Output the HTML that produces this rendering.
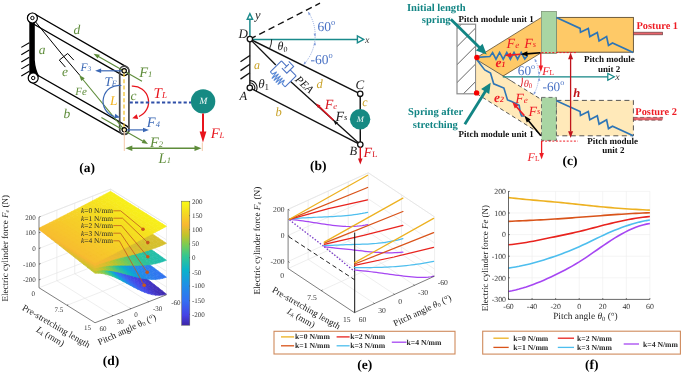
<!DOCTYPE html><html><head><meta charset="utf-8"><style>html,body{margin:0;padding:0;background:#fff;width:685px;height:375px;overflow:hidden}svg{display:block;font-family:"Liberation Serif",serif;will-change:transform;text-rendering:geometricPrecision}</style></head><body><svg xmlns="http://www.w3.org/2000/svg" width="685" height="375" viewBox="0 0 685 375"><rect width="685" height="375" fill="#fff"/><path d="M29.3,18 L34.8,18 L34.8,60 Q35.5,70 39.5,76.5 L29.3,76.5 Z" fill="#000"/>
<line x1="29.3" y1="42.7" x2="21.3" y2="47.4" stroke="#000" stroke-width="1.1" />
<line x1="29.3" y1="50" x2="21.3" y2="54.7" stroke="#000" stroke-width="1.1" />
<line x1="29.3" y1="57.3" x2="21.3" y2="62" stroke="#000" stroke-width="1.1" />
<line x1="29.3" y1="64.2" x2="21.3" y2="68.9" stroke="#000" stroke-width="1.1" />
<line x1="29.3" y1="71.3" x2="21.3" y2="76" stroke="#000" stroke-width="1.1" />
<rect x="-4.6" y="-4.6" width="115.1" height="9.2" rx="4.6" ry="4.6" fill="none" stroke="#000" stroke-width="1.35" transform="translate(32.4,18) rotate(29.91)"/>
<rect x="-4.6" y="-4.6" width="114" height="9.2" rx="4.6" ry="4.6" fill="none" stroke="#000" stroke-width="1.35" transform="translate(33.2,78) rotate(29.62)"/>
<line x1="32.4" y1="18" x2="64" y2="56.8" stroke="#000" stroke-width="1.0" />
<line x1="64" y1="56.8" x2="80" y2="75.5" stroke="#000" stroke-width="1.0" />
<line x1="59.3" y1="60.1" x2="67.7" y2="53.5" stroke="#000" stroke-width="1.0" />
<line x1="59.3" y1="60.1" x2="65.4" y2="67.1" stroke="#000" stroke-width="1.0" />
<line x1="67.7" y1="53.5" x2="73.8" y2="60.1" stroke="#000" stroke-width="1.0" />
<rect x="-4.6" y="-4.6" width="68.2" height="9.2" rx="4.6" ry="4.6" fill="none" stroke="#4a4a4a" stroke-width="1.7" transform="translate(124.3,70.8) rotate(90)"/>
<line x1="124" y1="73" x2="124" y2="128" stroke="#f2be22" stroke-width="1.2" stroke-dasharray="4,2.3"/>
<line x1="124.3" y1="129.8" x2="81.87" y2="78.24" stroke="#5e8c3a" stroke-width="1.1" />
<polygon points="79.2,75 84.75,78.2 81.28,81.06" fill="#5e8c3a" stroke="none" stroke-width="1" />
<line x1="142" y1="81.2" x2="97.15" y2="55.77" stroke="#5e8c3a" stroke-width="1.1" />
<polygon points="93.5,53.7 99.83,54.7 97.61,58.62" fill="#5e8c3a" stroke="none" stroke-width="1" />
<line x1="101.4" y1="117.4" x2="144.35" y2="141.92" stroke="#5e8c3a" stroke-width="1.1" />
<polygon points="148,144 141.67,142.98 143.9,139.07" fill="#5e8c3a" stroke="none" stroke-width="1" />
<line x1="124.2" y1="70.8" x2="99.3" y2="70.8" stroke="#3b68b5" stroke-width="1.2" />
<polygon points="95.1,70.8 101.1,68.55 101.1,73.05" fill="#3b68b5" stroke="none" stroke-width="1" />
<line x1="124.3" y1="129.9" x2="144.8" y2="129.9" stroke="#3b68b5" stroke-width="1.2" />
<polygon points="149,129.9 143,132.15 143,127.65" fill="#3b68b5" stroke="none" stroke-width="1" />
<path d="M121.4,85.5 A16,16 0 0 0 114,116.5" fill="none" stroke="#3b68b5" stroke-width="1.2"/>
<polygon points="120,117.5 114.09,118.14 115.34,113.82" fill="#3b68b5" stroke="none" stroke-width="1" />
<path d="M131.8,86.2 A15.8,15.8 0 0 1 139,116.5" fill="none" stroke="#e8141c" stroke-width="1.3"/>
<polygon points="132.2,118.2 136.75,114.29 138.16,118.88" fill="#e8141c" stroke="none" stroke-width="1" />
<line x1="129.6" y1="102.4" x2="191" y2="102.4" stroke="#2f4fa8" stroke-width="2.0" stroke-dasharray="3.2,2.2"/>
<circle cx="124.2" cy="70.8" r="2.2" fill="#fbeec0" stroke="#000" stroke-width="1.1" />
<circle cx="124.3" cy="129.8" r="2.2" fill="#fbeec0" stroke="#000" stroke-width="1.1" />
<circle cx="32.4" cy="18" r="5" fill="#fff" stroke="#000" stroke-width="1.2" />
<circle cx="32.4" cy="18" r="1.7" fill="#fff" stroke="#000" stroke-width="1.0" />
<circle cx="33.2" cy="78" r="5" fill="#fff" stroke="#000" stroke-width="1.2" />
<circle cx="33.2" cy="78" r="1.7" fill="#fff" stroke="#000" stroke-width="1.0" />
<circle cx="203.1" cy="101.4" r="12.2" fill="#168a83" stroke="none" stroke-width="1" />
<text x="203.3" y="104.2" font-size="9.4" fill="#f4fbfa" text-anchor="middle" font-style="italic" >M</text>
<line x1="203" y1="113.5" x2="203" y2="134" stroke="#e8141c" stroke-width="2.0" />
<polygon points="203,142.5 199.6,131.5 206.4,131.5" fill="#e8141c" stroke="none" stroke-width="1" />
<line x1="124.3" y1="131" x2="124.3" y2="151" stroke="#f4c8a8" stroke-width="1.0" />
<line x1="202.3" y1="142.5" x2="202.3" y2="151" stroke="#f4c8a8" stroke-width="1.0" />
<line x1="130" y1="148.2" x2="196" y2="148.2" stroke="#5e8c3a" stroke-width="1.6" />
<polygon points="125.3,148.2 132.3,145.45 132.3,150.95" fill="#5e8c3a" stroke="none" stroke-width="1" />
<polygon points="201.5,148.2 194.5,150.95 194.5,145.45" fill="#5e8c3a" stroke="none" stroke-width="1" />
<text x="38.8" y="54.2" font-size="13.5" fill="#5e8c3a" text-anchor="start" font-style="italic" >a</text>
<text x="73.6" y="34.4" font-size="13.5" fill="#5e8c3a" text-anchor="start" font-style="italic" >d</text>
<text x="62" y="75.6" font-size="13.5" fill="#5e8c3a" text-anchor="start" font-style="italic" >e</text>
<text x="63.6" y="117.8" font-size="13.5" fill="#5e8c3a" text-anchor="start" font-style="italic" >b</text>
<text x="130.6" y="99.8" font-size="13.5" fill="#5e8c3a" text-anchor="start" font-style="italic" >c</text>
<text x="75.2" y="95.3" font-size="11" fill="#5e8c3a" text-anchor="start" font-style="italic" >Fe</text>
<text x="110" y="104.9" font-size="13.4" fill="#f2b21c" text-anchor="start" font-style="italic" >L</text>
<text x="80.6" y="71.1" font-size="11.5" fill="#3b68b5" font-style="italic">F<tspan font-size="7" dy="0">3</tspan></text>
<text x="104.4" y="85.8" font-size="13.3" fill="#3b68b5" font-style="italic">T<tspan font-size="8" dy="0.6">F</tspan></text>
<text x="139.2" y="76.5" font-size="14.5" fill="#5e8c3a" font-style="italic">F<tspan font-size="8.5" dy="0">1</tspan></text>
<text x="153.6" y="97.9" font-size="15" fill="#e8141c" font-style="italic">T<tspan font-size="9" dy="0">L</tspan></text>
<text x="146.8" y="126.6" font-size="14.5" fill="#3b68b5" font-style="italic">F<tspan font-size="8.5" dy="0">4</tspan></text>
<text x="150.0" y="146.9" font-size="14.5" fill="#5e8c3a" font-style="italic">F<tspan font-size="8.5" dy="0">2</tspan></text>
<text x="158.6" y="162.9" font-size="14.5" fill="#5e8c3a" font-style="italic">L<tspan font-size="8.5" dy="0">1</tspan></text>
<text x="210.7" y="137.7" font-size="14.6" fill="#e8141c" font-style="italic">F<tspan font-size="8.6" dy="0">L</tspan></text>
<text x="79.3" y="171.5" font-size="13.5" fill="#000" text-anchor="start" font-weight="bold" >(a)</text>
<line x1="249.9" y1="39.1" x2="249.9" y2="19.5" stroke="#1a8a8c" stroke-width="1.5" />
<polygon points="249.9,13.6 247.2,19.3 252.6,19.3" fill="#fff" stroke="#1a8a8c" stroke-width="1.4" />
<line x1="249.9" y1="39.4" x2="357.4" y2="39.4" stroke="#1a8a8c" stroke-width="1.5" />
<polygon points="363.6,39.4 357.4,35.9 357.4,42.9" fill="#fff" stroke="#1a8a8c" stroke-width="1.4" />
<line x1="249.9" y1="39.1" x2="320" y2="3.2" stroke="#111" stroke-width="1.35" stroke-dasharray="6.5,4"/>
<path d="M308.4,12.1 A43,43 0 0 1 303.7,64.5" fill="none" stroke="#7f9ad8" stroke-width="0.8" stroke-dasharray="1,1"/>
<polygon points="308,11.8 310.7,13.9 308.65,15.15" fill="#7f9ad8" stroke="none" stroke-width="1" />
<polygon points="315.1,36.8 313.58,33.74 315.96,33.49" fill="#7f9ad8" stroke="none" stroke-width="1" />
<polygon points="315.1,42 315.95,45.31 313.56,45.05" fill="#7f9ad8" stroke="none" stroke-width="1" />
<polygon points="303.5,64.8 304.47,61.52 306.39,62.97" fill="#7f9ad8" stroke="none" stroke-width="1" />
<line x1="249.9" y1="39.1" x2="249.8" y2="87.8" stroke="#333" stroke-width="1.5" />
<line x1="249.9" y1="55.5" x2="240.5" y2="61.8" stroke="#111" stroke-width="1.3" />
<line x1="249.9" y1="64.3" x2="240.5" y2="70.6" stroke="#111" stroke-width="1.3" />
<line x1="249.9" y1="72.8" x2="240.5" y2="79.1" stroke="#111" stroke-width="1.3" />
<line x1="249.9" y1="39.1" x2="360.2" y2="93.8" stroke="#111" stroke-width="1.4" />
<line x1="249.8" y1="87.8" x2="360.3" y2="144.6" stroke="#111" stroke-width="1.4" />
<line x1="360.2" y1="93.8" x2="360.3" y2="144.6" stroke="#111" stroke-width="1.4" />
<line x1="249.9" y1="39.1" x2="275.8" y2="65" stroke="#111" stroke-width="1.3" />
<line x1="290.6" y1="81.5" x2="360.3" y2="144.6" stroke="#111" stroke-width="1.3" />
<g transform="translate(275.9,66.4) rotate(45.5)" fill="none" stroke="#4a72c4" stroke-width="1.05"><path d="M0,-7.8 L0,7.8 M21,-7.8 L21,7.8 M0,-7.8 L7.5,-7.8 M7.5,-10.8 L7.5,-4.8 M5.5,-12.6 L12.5,-12.6 L12.5,-3 L5.5,-3 M12.5,-7.8 L21,-7.8"/><path d="M0,7.8 L3,7.8 L4.4,3.4 L5.8,11.4 L7.2,3.4 L8.6,11.4 L10,3.4 L11.4,11.4 L12.8,3.4 L14.2,11.4 L15.6,3.4 L17,7.8 L21,7.8" stroke="#5b8ad6"/></g>
<text x="0" y="0" font-size="11" fill="#111" text-anchor="start" font-style="italic" transform="translate(294.6,80.2) rotate(43)">PEA</text>
<path d="M271.7,39.3 A21.8,21.8 0 0 1 269.6,48.5" fill="none" stroke="#111" stroke-width="0.9"/>
<path d="M249.8,80.6 A7.2,7.2 0 0 1 256.2,91.1 M249.8,82.8 A5,5 0 0 1 254.25,90.1" fill="none" stroke="#111" stroke-width="1.1"/>
<line x1="333.5" y1="120.3" x2="318.5" y2="105.9" stroke="#d8141e" stroke-width="1.5" />
<polygon points="316,103.6 320.49,105.43 317.98,108.02" fill="#d8141e" stroke="none" stroke-width="1" />
<polygon points="333.5,120.5 337.99,122.33 335.49,124.92" fill="#111" stroke="none" stroke-width="1" />
<circle cx="360.1" cy="119.3" r="10.2" fill="#168a83" stroke="none" stroke-width="1" />
<text x="360.2" y="122.4" font-size="8.5" fill="#f4fbfa" text-anchor="middle" font-style="italic" >M</text>
<circle cx="249.9" cy="39.1" r="2.7" fill="#fff" stroke="#111" stroke-width="1.3" />
<circle cx="249.8" cy="87.8" r="2.7" fill="#fff" stroke="#111" stroke-width="1.3" />
<circle cx="360.2" cy="93.8" r="2.7" fill="#fff" stroke="#111" stroke-width="1.3" />
<circle cx="360.3" cy="144.6" r="2.7" fill="#fff" stroke="#111" stroke-width="1.3" />
<line x1="360.3" y1="147.3" x2="360.3" y2="159.5" stroke="#d8141e" stroke-width="1.4" />
<polygon points="360.3,164.5 358,158.5 362.6,158.5" fill="#d8141e" stroke="none" stroke-width="1" />
<text x="255" y="19.2" font-size="12.5" fill="#222" text-anchor="start" font-style="italic" >y</text>
<text x="238.6" y="37.7" font-size="13" fill="#222" text-anchor="start" font-style="italic" >D</text>
<text x="365" y="43" font-size="10" fill="#333" text-anchor="start" font-style="italic" >x</text>
<text x="254" y="68.6" font-size="12" fill="#c9a227" text-anchor="start" font-style="italic" >a</text>
<text x="239.5" y="100.4" font-size="12.5" fill="#222" text-anchor="start" font-style="italic" >A</text>
<text x="275.6" y="115.6" font-size="12.5" fill="#c9a227" text-anchor="start" font-style="italic" >b</text>
<text x="316.6" y="87.8" font-size="12.5" fill="#c9a227" text-anchor="start" font-style="italic" >d</text>
<text x="362.3" y="106.4" font-size="12" fill="#c9a227" text-anchor="start" font-style="italic" >c</text>
<text x="355.6" y="89.4" font-size="13" fill="#222" text-anchor="start" font-style="italic" >C</text>
<text x="349.4" y="154.6" font-size="12.5" fill="#222" text-anchor="start" font-style="italic" >B</text>
<text x="277.5" y="50.3" font-size="12" fill="#222" font-style="italic">θ<tspan font-size="8" dy="1.5" font-style="normal">0</tspan></text>
<text x="258.2" y="88.2" font-size="13" fill="#222" font-style="italic">θ<tspan font-size="9" dy="1.5" font-style="normal">1</tspan></text>
<text x="317.4" y="30.8" font-size="13.5" fill="#4a72c4">60<tspan font-size="8.5" dy="-5.5">o</tspan></text>
<text x="310.6" y="63.6" font-size="13.5" fill="#4a72c4">-60<tspan font-size="8.5" dy="-5.5">o</tspan></text>
<text x="324.8" y="109.4" font-size="14" fill="#d8141e" font-style="italic">F<tspan font-size="8.5" dy="0">e</tspan></text>
<text x="335.4" y="121.2" font-size="14" fill="#222" font-style="italic">F<tspan font-size="8.5" dy="-1">s</tspan></text>
<text x="363.6" y="157.4" font-size="14" fill="#d8141e" font-style="italic">F<tspan font-size="8.5" dy="0" font-style="normal">L</tspan></text>
<text x="310" y="169.8" font-size="13.5" fill="#000" text-anchor="start" font-weight="bold" >(b)</text>
<clipPath id="wallclip"><rect x="457" y="24.2" width="18.6" height="69.6"/></clipPath>
<g clip-path="url(#wallclip)" stroke="#555" stroke-width="0.9"><line x1="456" y1="29.6" x2="476.6" y2="9"/><line x1="456" y1="47.6" x2="476.6" y2="27"/><line x1="456" y1="65.7" x2="476.6" y2="45.1"/><line x1="456" y1="83.6" x2="476.6" y2="63"/><line x1="456" y1="101.2" x2="476.6" y2="80.6"/></g>
<rect x="457" y="24.2" width="18.6" height="69.6" fill="none" stroke="#8c8c8c" stroke-width="1.2"/>
<polygon points="476.5,57.7 541.5,17.4 541.5,52.6 476.5,92.9" fill="#fec967" stroke="none" stroke-width="1" />
<polygon points="476.5,59.6 541.5,99.6 541.5,134.4 476.5,93.6" fill="#ffe9b9" stroke="none" stroke-width="1" />
<line x1="476.5" y1="57.7" x2="541.5" y2="17.4" stroke="#5e4e32" stroke-width="0.8" />
<line x1="502.8" y1="76.2" x2="541.5" y2="52.6" stroke="#5e4e32" stroke-width="0.8" />
<line x1="476.5" y1="59.6" x2="512" y2="81.4" stroke="#4a4a4a" stroke-width="0.8" />
<line x1="512" y1="81.4" x2="541.5" y2="99.6" stroke="#444" stroke-width="0.9" stroke-dasharray="4,3"/>
<line x1="476.5" y1="93.6" x2="541.5" y2="134.4" stroke="#444" stroke-width="0.9" stroke-dasharray="4,3"/>
<rect x="556.4" y="17.4" width="77" height="34.8" fill="#fec967" stroke="#5e4e32" stroke-width="0.9"/>
<rect x="556.4" y="100.4" width="77" height="35.4" fill="#ffe9b9" stroke="#444" stroke-width="0.9" stroke-dasharray="5,3.5"/>
<rect x="541.5" y="11.5" width="14.9" height="42" fill="#a9d5a3" stroke="#7d9477" stroke-width="0.8"/>
<rect x="541.5" y="97.4" width="14.9" height="43" fill="#a9d5a3" stroke="#555" stroke-width="0.8" stroke-dasharray="4,3"/>
<rect x="633.6" y="32.2" width="29" height="2.6" fill="#e9636b" stroke="#6a4444" stroke-width="0.7"/>
<rect x="633.6" y="117.4" width="29" height="2.8" fill="#e9636b" stroke="#6a4444" stroke-width="0.7" stroke-dasharray="4,2.5"/>
<polyline points="556.4,17.6 580.1,28.4 580.5,32.3 588.3,28.4 589.8,36.6 597.3,32.5 599.1,40.9 606.6,36.6 608.5,45.4 612.5,43 633.2,52.4" fill="none" stroke="#2e75b6" stroke-width="1.7" stroke-linejoin="miter"/>
<polyline points="556.4,100.8 580.1,111.6 580.5,115.5 588.3,111.6 589.8,119.8 597.3,115.7 599.1,124.1 606.6,119.8 608.5,128.6 612.5,126.2 633.2,135.8" fill="none" stroke="#2e75b6" stroke-width="1.7" />
<polyline points="476.9,57.4 489.8,56.6 492.6,52.6 496,59.2 499.6,52.4 503.2,59.2 506.8,52.4 510.4,59.2 514,52.4 517.6,59.2 521.2,52.4 524.8,59 527.6,55.6" fill="none" stroke="#2e75b6" stroke-width="1.6" />
<polyline points="476.7,59.6 484.7,69.9 490.5,73.1 493.7,83.8 503.9,88 507.5,99.9 511.7,101.5 519.2,105.3 520.3,112.5 521.6,116 524.5,116" fill="none" stroke="#2e75b6" stroke-width="1.6" />
<circle cx="476.9" cy="57.5" r="2.7" fill="#f50000" stroke="none" stroke-width="1" />
<circle cx="476.6" cy="92.9" r="2.7" fill="#f50000" stroke="none" stroke-width="1" />
<line x1="502.8" y1="76.8" x2="608.2" y2="76.8" stroke="#128584" stroke-width="1.3" />
<polygon points="614.3,76.8 607.8,73.4 607.8,80.2" fill="#fff" stroke="#128584" stroke-width="1.2" />
<path d="M535,59.3 A37.9,37.9 0 0 1 533.7,94.5" fill="none" stroke="#7f9ad8" stroke-width="0.8" stroke-dasharray="1,1"/>
<polygon points="534.6,59 537.02,61.12 534.98,62.19" fill="#7f9ad8" stroke="none" stroke-width="1" />
<polygon points="539.2,75 538.12,71.98 540.42,72.03" fill="#7f9ad8" stroke="none" stroke-width="1" />
<polygon points="539.2,77.8 540.35,80.8 538.05,80.8" fill="#7f9ad8" stroke="none" stroke-width="1" />
<polygon points="533.5,94.8 533.98,91.62 535.98,92.76" fill="#7f9ad8" stroke="none" stroke-width="1" />
<path d="M522.3,77.6 A20,20 0 0 1 521.3,86.5" fill="none" stroke="#e0242c" stroke-width="1"/>
<line x1="541.5" y1="52.6" x2="577" y2="52.6" stroke="#ee1c24" stroke-width="1.0" stroke-dasharray="2,1.6"/>
<line x1="541.5" y1="141.1" x2="578" y2="141.1" stroke="#ee1c24" stroke-width="1.0" stroke-dasharray="2,1.6"/>
<line x1="570.6" y1="58" x2="570.6" y2="131.5" stroke="#c0141c" stroke-width="1.3" />
<polygon points="570.6,52.6 568.1,59.2 573.1,59.2" fill="#c0141c" stroke="none" stroke-width="1" />
<polygon points="570.6,137.9 568.1,131.3 573.1,131.3" fill="#c0141c" stroke="none" stroke-width="1" />
<line x1="540.8" y1="53" x2="540.8" y2="66" stroke="#ee1c24" stroke-width="1.3" />
<polygon points="540.8,72 538.5,65.6 543.1,65.6" fill="#ee1c24" stroke="none" stroke-width="1" />
<line x1="541.6" y1="141" x2="541.6" y2="153.5" stroke="#ee1c24" stroke-width="1.3" />
<polygon points="541.6,159.5 539.3,153.1 543.9,153.1" fill="#ee1c24" stroke="none" stroke-width="1" />
<line x1="540.4" y1="52.8" x2="526.5" y2="53.9" stroke="#000" stroke-width="1.6" />
<polygon points="520.5,54.3 527.29,51.28 527.67,56.27" fill="#000" stroke="none" stroke-width="1" />
<line x1="520.5" y1="54.3" x2="510" y2="55.1" stroke="#ee1c24" stroke-width="1.6" />
<polygon points="504.7,55.5 510.99,52.51 511.37,57.5" fill="#ee1c24" stroke="none" stroke-width="1" />
<line x1="540.9" y1="135.8" x2="528.3" y2="120.5" stroke="#000" stroke-width="1.6" />
<polygon points="524.3,115.6 530.68,119.42 526.81,122.6" fill="#000" stroke="none" stroke-width="1" />
<line x1="524.3" y1="115.6" x2="516" y2="106.3" stroke="#ee1c24" stroke-width="1.6" />
<polygon points="512.3,102.1 518.49,105.3 514.75,108.62" fill="#ee1c24" stroke="none" stroke-width="1" />
<line x1="450.8" y1="19.2" x2="480.5" y2="48.4" stroke="#128584" stroke-width="2.8" />
<polygon points="486.7,54.6 475.89,50.61 482.56,43.85" fill="#128584" stroke="none" stroke-width="1" />
<line x1="464.8" y1="124.2" x2="486.2" y2="90" stroke="#128584" stroke-width="2.8" />
<polygon points="490.7,82.7 489.17,94.12 481.11,89.09" fill="#128584" stroke="none" stroke-width="1" />
<text x="407" y="10.9" font-size="10.6" fill="#128584" text-anchor="start" font-weight="bold" >Initial length</text>
<text x="421.8" y="23" font-size="10.6" fill="#128584" text-anchor="start" font-weight="bold" >spring</text>
<text x="408.1" y="115.4" font-size="10.6" fill="#128584" text-anchor="start" font-weight="bold" >Spring after</text>
<text x="412.8" y="127.8" font-size="10.6" fill="#128584" text-anchor="start" font-weight="bold" >stretching</text>
<text x="458.4" y="22" font-size="9.0" fill="#111" text-anchor="start" font-weight="bold" >Pitch module unit 1</text>
<text x="458.5" y="137.4" font-size="9.0" fill="#111" text-anchor="start" font-weight="bold" >Pitch module unit 1</text>
<text x="584" y="61.6" font-size="9.0" fill="#111" text-anchor="start" font-weight="bold" >Pitch module</text>
<text x="598" y="72.2" font-size="9.0" fill="#111" text-anchor="start" font-weight="bold" >unit 2</text>
<text x="587.3" y="143.7" font-size="9.0" fill="#111" text-anchor="start" font-weight="bold" >Pitch module</text>
<text x="602.2" y="153.4" font-size="9.0" fill="#111" text-anchor="start" font-weight="bold" >unit 2</text>
<text x="636.4" y="29.1" font-size="10.4" fill="#ee1c24" text-anchor="start" font-weight="bold" >Posture 1</text>
<text x="635.3" y="114.9" font-size="10.4" fill="#ee1c24" text-anchor="start" font-weight="bold" >Posture 2</text>
<text x="562.5" y="165" font-size="13.5" fill="#000" text-anchor="start" font-weight="bold" >(c)</text>
<text x="573.3" y="96.5" font-size="12.5" fill="#c0141c" text-anchor="start" font-weight="bold" font-style="italic" >h</text>
<text x="495.6" y="67.4" font-size="13.5" fill="#ee1c24" font-weight="bold" font-style="italic">e<tspan font-size="8" dy="0">1</tspan></text>
<text x="494.0" y="102.3" font-size="13.5" fill="#ee1c24" font-weight="bold" font-style="italic">e<tspan font-size="8" dy="0">2</tspan></text>
<text x="506.6" y="48.4" font-size="14" fill="#ee1c24" font-style="italic">F<tspan font-size="9" dy="0">e</tspan></text>
<text x="524.3" y="48.4" font-size="14" fill="#ee1c24" font-style="italic">F<tspan font-size="8.5" dy="-1.5">s</tspan></text>
<text x="515.2" y="103.3" font-size="14" fill="#ee1c24" font-style="italic">F<tspan font-size="9" dy="0">e</tspan></text>
<text x="528.4" y="115.8" font-size="14" fill="#ee1c24" font-style="italic">F<tspan font-size="8.5" dy="-1.5">s</tspan></text>
<text x="542.2" y="74.7" font-size="12" fill="#ee1c24" font-style="italic">F<tspan font-size="7.5" font-style="normal">L</tspan></text>
<text x="527.6" y="161.4" font-size="12" fill="#ee1c24" font-style="italic">F<tspan font-size="7.5" font-style="normal">L</tspan></text>
<text x="517.8" y="74.6" font-size="13.2" fill="#4a72c4">60<tspan font-size="8" dy="-5.5">o</tspan></text>
<text x="542.6" y="90.8" font-size="13.2" fill="#4a72c4">-60<tspan font-size="8" dy="-5.5">o</tspan></text>
<text x="523.7" y="86.8" font-size="10.5" fill="#e0242c" font-style="italic">θ<tspan font-size="7" dy="1.5" font-style="normal">0</tspan></text>
<text x="615.2" y="80.2" font-size="10" fill="#333" text-anchor="start" font-style="italic" >x</text>
<polyline points="39,279.9 110.5,251.94 166.49,286.94" fill="none" stroke="#e3e3e3" stroke-width="0.6" />
<polyline points="39,264.2 110.5,236.24 166.49,271.24" fill="none" stroke="#e3e3e3" stroke-width="0.6" />
<polyline points="39,248.5 110.5,220.54 166.49,255.53" fill="none" stroke="#e3e3e3" stroke-width="0.6" />
<polyline points="39,232.8 110.5,204.84 166.49,239.84" fill="none" stroke="#e3e3e3" stroke-width="0.6" />
<polyline points="39,217.1 110.5,189.14 166.49,224.13" fill="none" stroke="#e3e3e3" stroke-width="0.6" />
<line x1="56.87" y1="280.76" x2="56.87" y2="210.11" stroke="#e3e3e3" stroke-width="0.6" />
<line x1="56.87" y1="280.76" x2="112.87" y2="315.75" stroke="#e3e3e3" stroke-width="0.6" />
<line x1="74.75" y1="273.77" x2="74.75" y2="203.12" stroke="#e3e3e3" stroke-width="0.6" />
<line x1="74.75" y1="273.77" x2="130.74" y2="308.76" stroke="#e3e3e3" stroke-width="0.6" />
<line x1="92.62" y1="266.78" x2="92.62" y2="196.13" stroke="#e3e3e3" stroke-width="0.6" />
<line x1="92.62" y1="266.78" x2="148.62" y2="301.77" stroke="#e3e3e3" stroke-width="0.6" />
<line x1="138.49" y1="277.29" x2="138.49" y2="206.64" stroke="#e3e3e3" stroke-width="0.6" />
<line x1="67" y1="305.25" x2="138.49" y2="277.29" stroke="#e3e3e3" stroke-width="0.6" />
<line x1="110.5" y1="259.79" x2="110.5" y2="189.14" stroke="#e3e3e3" stroke-width="0.6" />
<line x1="166.49" y1="294.78" x2="166.49" y2="224.13" stroke="#e3e3e3" stroke-width="0.6" />
<polyline points="39,217.1 110.5,189.14 166.49,224.13" fill="none" stroke="#e3e3e3" stroke-width="0.6" />
<line x1="39" y1="287.75" x2="110.5" y2="259.79" stroke="#e3e3e3" stroke-width="0.6" />
<line x1="110.5" y1="259.79" x2="166.49" y2="294.78" stroke="#e3e3e3" stroke-width="0.6" />
<g stroke-linejoin="round"><polygon points="39,229.42 43,232.56 46.57,232.4 42.57,229.26" fill="#f8b832" stroke="#f8b832" stroke-width="0.6"/><polygon points="42.57,229.26 46.57,232.4 50.15,232.69 46.15,229.55" fill="#f0ba31" stroke="#f0ba31" stroke-width="0.6"/><polygon points="46.15,229.55 50.15,232.69 53.72,233.38 49.72,230.24" fill="#e5bc2f" stroke="#e5bc2f" stroke-width="0.6"/><polygon points="49.72,230.24 53.72,233.38 57.3,234.41 53.3,231.27" fill="#d9bf2e" stroke="#d9bf2e" stroke-width="0.6"/><polygon points="53.3,231.27 57.3,234.41 60.87,235.73 56.87,232.59" fill="#c0c42a" stroke="#c0c42a" stroke-width="0.6"/><polygon points="56.87,232.59 60.87,235.73 64.45,237.29 60.45,234.15" fill="#99c841" stroke="#99c841" stroke-width="0.6"/><polygon points="60.45,234.15 64.45,237.29 68.02,239.02 64.02,235.88" fill="#70cb5c" stroke="#70cb5c" stroke-width="0.6"/><polygon points="64.02,235.88 68.02,239.02 71.6,240.88 67.6,237.74" fill="#4ac97d" stroke="#4ac97d" stroke-width="0.6"/><polygon points="67.6,237.74 71.6,240.88 75.17,242.82 71.17,239.68" fill="#2dc39c" stroke="#2dc39c" stroke-width="0.6"/><polygon points="71.17,239.68 75.17,242.82 78.75,244.77 74.75,241.63" fill="#18b9b7" stroke="#18b9b7" stroke-width="0.6"/><polygon points="74.75,241.63 78.75,244.77 82.32,246.68 78.32,243.54" fill="#0dadcf" stroke="#0dadcf" stroke-width="0.6"/><polygon points="78.32,243.54 82.32,246.68 85.9,248.51 81.9,245.37" fill="#179ddc" stroke="#179ddc" stroke-width="0.6"/><polygon points="81.9,245.37 85.9,248.51 89.47,250.19 85.47,247.05" fill="#218ee7" stroke="#218ee7" stroke-width="0.6"/><polygon points="85.47,247.05 89.47,250.19 93.05,251.67 89.05,248.53" fill="#2981ec" stroke="#2981ec" stroke-width="0.6"/><polygon points="89.05,248.53 93.05,251.67 96.62,252.9 92.62,249.76" fill="#3174f0" stroke="#3174f0" stroke-width="0.6"/><polygon points="92.62,249.76 96.62,252.9 100.2,253.82 96.2,250.68" fill="#366af0" stroke="#366af0" stroke-width="0.6"/><polygon points="96.2,250.68 100.2,253.82 103.77,254.38 99.77,251.24" fill="#3a60ed" stroke="#3a60ed" stroke-width="0.6"/><polygon points="99.77,251.24 103.77,254.38 107.35,254.52 103.35,251.38" fill="#3d58eb" stroke="#3d58eb" stroke-width="0.6"/><polygon points="103.35,251.38 107.35,254.52 110.92,254.2 106.92,251.06" fill="#3f52e9" stroke="#3f52e9" stroke-width="0.6"/><polygon points="106.92,251.06 110.92,254.2 114.5,253.35 110.5,250.21" fill="#414fe8" stroke="#414fe8" stroke-width="0.6"/><polygon points="43,232.56 47,235.7 50.57,235.54 46.57,232.4" fill="#f5b932" stroke="#f5b932" stroke-width="0.6"/><polygon points="46.57,232.4 50.57,235.54 54.15,235.83 50.15,232.69" fill="#ecba30" stroke="#ecba30" stroke-width="0.6"/><polygon points="50.15,232.69 54.15,235.83 57.72,236.52 53.72,233.38" fill="#e2bd2f" stroke="#e2bd2f" stroke-width="0.6"/><polygon points="53.72,233.38 57.72,236.52 61.3,237.55 57.3,234.41" fill="#d4c02d" stroke="#d4c02d" stroke-width="0.6"/><polygon points="57.3,234.41 61.3,237.55 64.87,238.87 60.87,235.73" fill="#b8c52f" stroke="#b8c52f" stroke-width="0.6"/><polygon points="60.87,235.73 64.87,238.87 68.45,240.43 64.45,237.29" fill="#90c946" stroke="#90c946" stroke-width="0.6"/><polygon points="64.45,237.29 68.45,240.43 72.02,242.16 68.02,239.02" fill="#69cb62" stroke="#69cb62" stroke-width="0.6"/><polygon points="68.02,239.02 72.02,242.16 75.6,244.02 71.6,240.88" fill="#43c884" stroke="#43c884" stroke-width="0.6"/><polygon points="71.6,240.88 75.6,244.02 79.17,245.96 75.17,242.82" fill="#29c1a1" stroke="#29c1a1" stroke-width="0.6"/><polygon points="75.17,242.82 79.17,245.96 82.75,247.91 78.75,244.77" fill="#14b8bd" stroke="#14b8bd" stroke-width="0.6"/><polygon points="78.75,244.77 82.75,247.91 86.32,249.82 82.32,246.68" fill="#0faad1" stroke="#0faad1" stroke-width="0.6"/><polygon points="82.32,246.68 86.32,249.82 89.9,251.65 85.9,248.51" fill="#199ade" stroke="#199ade" stroke-width="0.6"/><polygon points="85.9,248.51 89.9,251.65 93.47,253.33 89.47,250.19" fill="#228be8" stroke="#228be8" stroke-width="0.6"/><polygon points="89.47,250.19 93.47,253.33 97.05,254.81 93.05,251.67" fill="#2b7eed" stroke="#2b7eed" stroke-width="0.6"/><polygon points="93.05,251.67 97.05,254.81 100.62,256.04 96.62,252.9" fill="#3372f1" stroke="#3372f1" stroke-width="0.6"/><polygon points="96.62,252.9 100.62,256.04 104.2,256.96 100.2,253.82" fill="#3767ef" stroke="#3767ef" stroke-width="0.6"/><polygon points="100.2,253.82 104.2,256.96 107.77,257.52 103.77,254.38" fill="#3b5ded" stroke="#3b5ded" stroke-width="0.6"/><polygon points="103.77,254.38 107.77,257.52 111.35,257.66 107.35,254.52" fill="#3e55ea" stroke="#3e55ea" stroke-width="0.6"/><polygon points="107.35,254.52 111.35,257.66 114.92,257.33 110.92,254.2" fill="#4050e9" stroke="#4050e9" stroke-width="0.6"/><polygon points="110.92,254.2 114.92,257.33 118.5,256.48 114.5,253.35" fill="#424ce8" stroke="#424ce8" stroke-width="0.6"/><polygon points="47,235.7 51,238.84 54.57,238.68 50.57,235.54" fill="#f1ba31" stroke="#f1ba31" stroke-width="0.6"/><polygon points="50.57,235.54 54.57,238.68 58.15,238.97 54.15,235.83" fill="#e9bb30" stroke="#e9bb30" stroke-width="0.6"/><polygon points="54.15,235.83 58.15,238.97 61.72,239.66 57.72,236.52" fill="#debe2e" stroke="#debe2e" stroke-width="0.6"/><polygon points="57.72,236.52 61.72,239.66 65.3,240.69 61.3,237.55" fill="#cdc12c" stroke="#cdc12c" stroke-width="0.6"/><polygon points="61.3,237.55 65.3,240.69 68.87,242.01 64.87,238.87" fill="#afc634" stroke="#afc634" stroke-width="0.6"/><polygon points="64.87,238.87 68.87,242.01 72.45,243.56 68.45,240.43" fill="#87ca4c" stroke="#87ca4c" stroke-width="0.6"/><polygon points="68.45,240.43 72.45,243.56 76.02,245.3 72.02,242.16" fill="#61ca69" stroke="#61ca69" stroke-width="0.6"/><polygon points="72.02,242.16 76.02,245.3 79.6,247.16 75.6,244.02" fill="#3bc78b" stroke="#3bc78b" stroke-width="0.6"/><polygon points="75.6,244.02 79.6,247.16 83.17,249.09 79.17,245.96" fill="#25bfa6" stroke="#25bfa6" stroke-width="0.6"/><polygon points="79.17,245.96 83.17,249.09 86.75,251.05 82.75,247.91" fill="#10b6c2" stroke="#10b6c2" stroke-width="0.6"/><polygon points="82.75,247.91 86.75,251.05 90.32,252.96 86.32,249.82" fill="#11a7d4" stroke="#11a7d4" stroke-width="0.6"/><polygon points="86.32,249.82 90.32,252.96 93.9,254.79 89.9,251.65" fill="#1b97e1" stroke="#1b97e1" stroke-width="0.6"/><polygon points="89.9,251.65 93.9,254.79 97.47,256.47 93.47,253.33" fill="#2488e9" stroke="#2488e9" stroke-width="0.6"/><polygon points="93.47,253.33 97.47,256.47 101.05,257.95 97.05,254.81" fill="#2d7bee" stroke="#2d7bee" stroke-width="0.6"/><polygon points="97.05,254.81 101.05,257.95 104.62,259.17 100.62,256.04" fill="#346ff2" stroke="#346ff2" stroke-width="0.6"/><polygon points="100.62,256.04 104.62,259.17 108.2,260.09 104.2,256.96" fill="#3964ef" stroke="#3964ef" stroke-width="0.6"/><polygon points="104.2,256.96 108.2,260.09 111.77,260.65 107.77,257.52" fill="#3c5aec" stroke="#3c5aec" stroke-width="0.6"/><polygon points="107.77,257.52 111.77,260.65 115.35,260.8 111.35,257.66" fill="#3f53ea" stroke="#3f53ea" stroke-width="0.6"/><polygon points="111.35,257.66 115.35,260.8 118.92,260.47 114.92,257.33" fill="#414de8" stroke="#414de8" stroke-width="0.6"/><polygon points="114.92,257.33 118.92,260.47 122.49,259.62 118.5,256.48" fill="#4349e7" stroke="#4349e7" stroke-width="0.6"/><polygon points="51,238.84 55,241.98 58.57,241.82 54.57,238.68" fill="#edba30" stroke="#edba30" stroke-width="0.6"/><polygon points="54.57,238.68 58.57,241.82 62.15,242.11 58.15,238.97" fill="#e5bc2f" stroke="#e5bc2f" stroke-width="0.6"/><polygon points="58.15,238.97 62.15,242.11 65.72,242.8 61.72,239.66" fill="#dbbe2e" stroke="#dbbe2e" stroke-width="0.6"/><polygon points="61.72,239.66 65.72,242.8 69.3,243.83 65.3,240.69" fill="#c7c32b" stroke="#c7c32b" stroke-width="0.6"/><polygon points="65.3,240.69 69.3,243.83 72.87,245.15 68.87,242.01" fill="#a6c73a" stroke="#a6c73a" stroke-width="0.6"/><polygon points="68.87,242.01 72.87,245.15 76.45,246.7 72.45,243.56" fill="#7fcb51" stroke="#7fcb51" stroke-width="0.6"/><polygon points="72.45,243.56 76.45,246.7 80.02,248.44 76.02,245.3" fill="#59ca70" stroke="#59ca70" stroke-width="0.6"/><polygon points="76.02,245.3 80.02,248.44 83.6,250.3 79.6,247.16" fill="#35c691" stroke="#35c691" stroke-width="0.6"/><polygon points="79.6,247.16 83.6,250.3 87.17,252.23 83.17,249.09" fill="#21beab" stroke="#21beab" stroke-width="0.6"/><polygon points="83.17,249.09 87.17,252.23 90.75,254.18 86.75,251.05" fill="#0cb4c8" stroke="#0cb4c8" stroke-width="0.6"/><polygon points="86.75,251.05 90.75,254.18 94.32,256.1 90.32,252.96" fill="#13a4d6" stroke="#13a4d6" stroke-width="0.6"/><polygon points="90.32,252.96 94.32,256.1 97.9,257.92 93.9,254.79" fill="#1d93e3" stroke="#1d93e3" stroke-width="0.6"/><polygon points="93.9,254.79 97.9,257.92 101.47,259.6 97.47,256.47" fill="#2685ea" stroke="#2685ea" stroke-width="0.6"/><polygon points="97.47,256.47 101.47,259.6 105.05,261.08 101.05,257.95" fill="#2f78ef" stroke="#2f78ef" stroke-width="0.6"/><polygon points="101.05,257.95 105.05,261.08 108.62,262.31 104.62,259.17" fill="#356cf1" stroke="#356cf1" stroke-width="0.6"/><polygon points="104.62,259.17 108.62,262.31 112.2,263.23 108.2,260.09" fill="#3a61ee" stroke="#3a61ee" stroke-width="0.6"/><polygon points="108.2,260.09 112.2,263.23 115.77,263.79 111.77,260.65" fill="#3d58eb" stroke="#3d58eb" stroke-width="0.6"/><polygon points="111.77,260.65 115.77,263.79 119.34,263.94 115.35,260.8" fill="#4050e9" stroke="#4050e9" stroke-width="0.6"/><polygon points="115.35,260.8 119.34,263.94 122.92,263.61 118.92,260.47" fill="#424ae7" stroke="#424ae7" stroke-width="0.6"/><polygon points="118.92,260.47 122.92,263.61 126.49,262.76 122.49,259.62" fill="#4446e6" stroke="#4446e6" stroke-width="0.6"/><polygon points="55,241.98 59,245.11 62.57,244.95 58.57,241.82" fill="#eabb30" stroke="#eabb30" stroke-width="0.6"/><polygon points="58.57,241.82 62.57,244.95 66.15,245.25 62.15,242.11" fill="#e2bd2f" stroke="#e2bd2f" stroke-width="0.6"/><polygon points="62.15,242.11 66.15,245.25 69.72,245.94 65.72,242.8" fill="#d7bf2d" stroke="#d7bf2d" stroke-width="0.6"/><polygon points="65.72,242.8 69.72,245.94 73.3,246.97 69.3,243.83" fill="#c1c42a" stroke="#c1c42a" stroke-width="0.6"/><polygon points="69.3,243.83 73.3,246.97 76.87,248.29 72.87,245.15" fill="#9dc83f" stroke="#9dc83f" stroke-width="0.6"/><polygon points="72.87,245.15 76.87,248.29 80.45,249.84 76.45,246.7" fill="#76cc57" stroke="#76cc57" stroke-width="0.6"/><polygon points="76.45,246.7 80.45,249.84 84.02,251.58 80.02,248.44" fill="#52c977" stroke="#52c977" stroke-width="0.6"/><polygon points="80.02,248.44 84.02,251.58 87.6,253.44 83.6,250.3" fill="#31c596" stroke="#31c596" stroke-width="0.6"/><polygon points="83.6,250.3 87.6,253.44 91.17,255.37 87.17,252.23" fill="#1dbcb0" stroke="#1dbcb0" stroke-width="0.6"/><polygon points="87.17,252.23 91.17,255.37 94.75,257.32 90.75,254.18" fill="#0bb1cc" stroke="#0bb1cc" stroke-width="0.6"/><polygon points="90.75,254.18 94.75,257.32 98.32,259.24 94.32,256.1" fill="#15a1d9" stroke="#15a1d9" stroke-width="0.6"/><polygon points="94.32,256.1 98.32,259.24 101.9,261.06 97.9,257.92" fill="#1f90e6" stroke="#1f90e6" stroke-width="0.6"/><polygon points="97.9,257.92 101.9,261.06 105.47,262.74 101.47,259.6" fill="#2882eb" stroke="#2882eb" stroke-width="0.6"/><polygon points="101.47,259.6 105.47,262.74 109.05,264.22 105.05,261.08" fill="#3075f0" stroke="#3075f0" stroke-width="0.6"/><polygon points="105.05,261.08 109.05,264.22 112.62,265.45 108.62,262.31" fill="#3769f0" stroke="#3769f0" stroke-width="0.6"/><polygon points="108.62,262.31 112.62,265.45 116.2,266.37 112.2,263.23" fill="#3b5eed" stroke="#3b5eed" stroke-width="0.6"/><polygon points="112.2,263.23 116.2,266.37 119.77,266.93 115.77,263.79" fill="#3e55ea" stroke="#3e55ea" stroke-width="0.6"/><polygon points="115.77,263.79 119.77,266.93 123.34,267.08 119.34,263.94" fill="#414de8" stroke="#414de8" stroke-width="0.6"/><polygon points="119.34,263.94 123.34,267.08 126.92,266.75 122.92,263.61" fill="#4347e6" stroke="#4347e6" stroke-width="0.6"/><polygon points="122.92,263.61 126.92,266.75 130.49,265.9 126.49,262.76" fill="#4544e5" stroke="#4544e5" stroke-width="0.6"/><polygon points="59,245.11 63,248.25 66.57,248.09 62.57,244.95" fill="#e6bc2f" stroke="#e6bc2f" stroke-width="0.6"/><polygon points="62.57,244.95 66.57,248.09 70.15,248.39 66.15,245.25" fill="#debe2e" stroke="#debe2e" stroke-width="0.6"/><polygon points="66.15,245.25 70.15,248.39 73.72,249.07 69.72,245.94" fill="#d1c02c" stroke="#d1c02c" stroke-width="0.6"/><polygon points="69.72,245.94 73.72,249.07 77.3,250.11 73.3,246.97" fill="#b8c52f" stroke="#b8c52f" stroke-width="0.6"/><polygon points="73.3,246.97 77.3,250.11 80.87,251.43 76.87,248.29" fill="#94c944" stroke="#94c944" stroke-width="0.6"/><polygon points="76.87,248.29 80.87,251.43 84.45,252.98 80.45,249.84" fill="#6fcb5d" stroke="#6fcb5d" stroke-width="0.6"/><polygon points="80.45,249.84 84.45,252.98 88.02,254.72 84.02,251.58" fill="#4ac97d" stroke="#4ac97d" stroke-width="0.6"/><polygon points="84.02,251.58 88.02,254.72 91.6,256.58 87.6,253.44" fill="#2dc39b" stroke="#2dc39b" stroke-width="0.6"/><polygon points="87.6,253.44 91.6,256.58 95.17,258.51 91.17,255.37" fill="#19bab6" stroke="#19bab6" stroke-width="0.6"/><polygon points="91.17,255.37 95.17,258.51 98.75,260.46 94.75,257.32" fill="#0daece" stroke="#0daece" stroke-width="0.6"/><polygon points="94.75,257.32 98.75,260.46 102.32,262.38 98.32,259.24" fill="#179ddb" stroke="#179ddb" stroke-width="0.6"/><polygon points="98.32,259.24 102.32,262.38 105.9,264.2 101.9,261.06" fill="#218de7" stroke="#218de7" stroke-width="0.6"/><polygon points="101.9,261.06 105.9,264.2 109.47,265.88 105.47,262.74" fill="#2a80ec" stroke="#2a80ec" stroke-width="0.6"/><polygon points="105.47,262.74 109.47,265.88 113.05,267.36 109.05,264.22" fill="#3273f1" stroke="#3273f1" stroke-width="0.6"/><polygon points="109.05,264.22 113.05,267.36 116.62,268.59 112.62,265.45" fill="#3866ef" stroke="#3866ef" stroke-width="0.6"/><polygon points="112.62,265.45 116.62,268.59 120.19,269.51 116.2,266.37" fill="#3c5bec" stroke="#3c5bec" stroke-width="0.6"/><polygon points="116.2,266.37 120.19,269.51 123.77,270.07 119.77,266.93" fill="#3f52e9" stroke="#3f52e9" stroke-width="0.6"/><polygon points="119.77,266.93 123.77,270.07 127.34,270.22 123.34,267.08" fill="#424ae7" stroke="#424ae7" stroke-width="0.6"/><polygon points="123.34,267.08 127.34,270.22 130.92,269.89 126.92,266.75" fill="#4444e5" stroke="#4444e5" stroke-width="0.6"/><polygon points="126.92,266.75 130.92,269.89 134.49,269.04 130.49,265.9" fill="#4441e0" stroke="#4441e0" stroke-width="0.6"/><polygon points="63,248.25 67,251.39 70.57,251.23 66.57,248.09" fill="#e3bd2f" stroke="#e3bd2f" stroke-width="0.6"/><polygon points="66.57,248.09 70.57,251.23 74.15,251.52 70.15,248.39" fill="#dbbe2e" stroke="#dbbe2e" stroke-width="0.6"/><polygon points="70.15,248.39 74.15,251.52 77.72,252.21 73.72,249.07" fill="#cac22b" stroke="#cac22b" stroke-width="0.6"/><polygon points="73.72,249.07 77.72,252.21 81.3,253.24 77.3,250.11" fill="#afc634" stroke="#afc634" stroke-width="0.6"/><polygon points="77.3,250.11 81.3,253.24 84.87,254.57 80.87,251.43" fill="#8bca49" stroke="#8bca49" stroke-width="0.6"/><polygon points="80.87,251.43 84.87,254.57 88.45,256.12 84.45,252.98" fill="#67cb64" stroke="#67cb64" stroke-width="0.6"/><polygon points="84.45,252.98 88.45,256.12 92.02,257.86 88.02,254.72" fill="#43c884" stroke="#43c884" stroke-width="0.6"/><polygon points="88.02,254.72 92.02,257.86 95.6,259.72 91.6,256.58" fill="#29c1a0" stroke="#29c1a0" stroke-width="0.6"/><polygon points="91.6,256.58 95.6,259.72 99.17,261.65 95.17,258.51" fill="#15b8bb" stroke="#15b8bb" stroke-width="0.6"/><polygon points="95.17,258.51 99.17,261.65 102.75,263.6 98.75,260.46" fill="#0fabd1" stroke="#0fabd1" stroke-width="0.6"/><polygon points="98.75,260.46 102.75,263.6 106.32,265.52 102.32,262.38" fill="#199ade" stroke="#199ade" stroke-width="0.6"/><polygon points="102.32,262.38 106.32,265.52 109.9,267.34 105.9,264.2" fill="#238be8" stroke="#238be8" stroke-width="0.6"/><polygon points="105.9,264.2 109.9,267.34 113.47,269.02 109.47,265.88" fill="#2c7ded" stroke="#2c7ded" stroke-width="0.6"/><polygon points="109.47,265.88 113.47,269.02 117.04,270.5 113.05,267.36" fill="#3470f2" stroke="#3470f2" stroke-width="0.6"/><polygon points="113.05,267.36 117.04,270.5 120.62,271.73 116.62,268.59" fill="#3964ee" stroke="#3964ee" stroke-width="0.6"/><polygon points="116.62,268.59 120.62,271.73 124.19,272.65 120.19,269.51" fill="#3d59eb" stroke="#3d59eb" stroke-width="0.6"/><polygon points="120.19,269.51 124.19,272.65 127.77,273.21 123.77,270.07" fill="#404fe8" stroke="#404fe8" stroke-width="0.6"/><polygon points="123.77,270.07 127.77,273.21 131.34,273.35 127.34,270.22" fill="#4347e6" stroke="#4347e6" stroke-width="0.6"/><polygon points="127.34,270.22 131.34,273.35 134.92,273.03 130.92,269.89" fill="#4542e2" stroke="#4542e2" stroke-width="0.6"/><polygon points="130.92,269.89 134.92,273.03 138.49,272.18 134.49,269.04" fill="#443edb" stroke="#443edb" stroke-width="0.6"/><polygon points="67,251.39 71,254.53 74.57,254.37 70.57,251.23" fill="#dfbd2e" stroke="#dfbd2e" stroke-width="0.6"/><polygon points="70.57,251.23 74.57,254.37 78.15,254.66 74.15,251.52" fill="#d7bf2d" stroke="#d7bf2d" stroke-width="0.6"/><polygon points="74.15,251.52 78.15,254.66 81.72,255.35 77.72,252.21" fill="#c4c32b" stroke="#c4c32b" stroke-width="0.6"/><polygon points="77.72,252.21 81.72,255.35 85.3,256.38 81.3,253.24" fill="#a6c739" stroke="#a6c739" stroke-width="0.6"/><polygon points="81.3,253.24 85.3,256.38 88.87,257.7 84.87,254.57" fill="#83cb4f" stroke="#83cb4f" stroke-width="0.6"/><polygon points="84.87,254.57 88.87,257.7 92.45,259.26 88.45,256.12" fill="#5fca6b" stroke="#5fca6b" stroke-width="0.6"/><polygon points="88.45,256.12 92.45,259.26 96.02,260.99 92.02,257.86" fill="#3bc78b" stroke="#3bc78b" stroke-width="0.6"/><polygon points="92.02,257.86 96.02,260.99 99.6,262.86 95.6,259.72" fill="#26c0a5" stroke="#26c0a5" stroke-width="0.6"/><polygon points="95.6,259.72 99.6,262.86 103.17,264.79 99.17,261.65" fill="#11b6c1" stroke="#11b6c1" stroke-width="0.6"/><polygon points="99.17,261.65 103.17,264.79 106.75,266.74 102.75,263.6" fill="#11a8d3" stroke="#11a8d3" stroke-width="0.6"/><polygon points="102.75,263.6 106.75,266.74 110.32,268.66 106.32,265.52" fill="#1b97e0" stroke="#1b97e0" stroke-width="0.6"/><polygon points="106.32,265.52 110.32,268.66 113.89,270.48 109.9,267.34" fill="#2488e9" stroke="#2488e9" stroke-width="0.6"/><polygon points="109.9,267.34 113.89,270.48 117.47,272.16 113.47,269.02" fill="#2d7aee" stroke="#2d7aee" stroke-width="0.6"/><polygon points="113.47,269.02 117.47,272.16 121.04,273.64 117.04,270.5" fill="#356df1" stroke="#356df1" stroke-width="0.6"/><polygon points="117.04,270.5 121.04,273.64 124.62,274.87 120.62,271.73" fill="#3a61ee" stroke="#3a61ee" stroke-width="0.6"/><polygon points="120.62,271.73 124.62,274.87 128.19,275.79 124.19,272.65" fill="#3e56ea" stroke="#3e56ea" stroke-width="0.6"/><polygon points="124.19,272.65 128.19,275.79 131.77,276.35 127.77,273.21" fill="#414ce8" stroke="#414ce8" stroke-width="0.6"/><polygon points="127.77,273.21 131.77,276.35 135.34,276.49 131.34,273.35" fill="#4445e5" stroke="#4445e5" stroke-width="0.6"/><polygon points="131.34,273.35 135.34,276.49 138.92,276.17 134.92,273.03" fill="#443fdc" stroke="#443fdc" stroke-width="0.6"/><polygon points="134.92,273.03 138.92,276.17 142.49,275.32 138.49,272.18" fill="#433bd5" stroke="#433bd5" stroke-width="0.6"/><polygon points="71,254.53 75,257.67 78.57,257.51 74.57,254.37" fill="#dcbe2e" stroke="#dcbe2e" stroke-width="0.6"/><polygon points="74.57,254.37 78.57,257.51 82.15,257.8 78.15,254.66" fill="#d1c02c" stroke="#d1c02c" stroke-width="0.6"/><polygon points="78.15,254.66 82.15,257.8 85.72,258.49 81.72,255.35" fill="#bdc42c" stroke="#bdc42c" stroke-width="0.6"/><polygon points="81.72,255.35 85.72,258.49 89.3,259.52 85.3,256.38" fill="#9dc83f" stroke="#9dc83f" stroke-width="0.6"/><polygon points="85.3,256.38 89.3,259.52 92.87,260.84 88.87,257.7" fill="#7acc54" stroke="#7acc54" stroke-width="0.6"/><polygon points="88.87,257.7 92.87,260.84 96.45,262.4 92.45,259.26" fill="#58ca71" stroke="#58ca71" stroke-width="0.6"/><polygon points="92.45,259.26 96.45,262.4 100.02,264.13 96.02,260.99" fill="#35c691" stroke="#35c691" stroke-width="0.6"/><polygon points="96.02,260.99 100.02,264.13 103.6,265.99 99.6,262.86" fill="#22beaa" stroke="#22beaa" stroke-width="0.6"/><polygon points="99.6,262.86 103.6,265.99 107.17,267.93 103.17,264.79" fill="#0db4c6" stroke="#0db4c6" stroke-width="0.6"/><polygon points="103.17,264.79 107.17,267.93 110.74,269.88 106.75,266.74" fill="#13a4d6" stroke="#13a4d6" stroke-width="0.6"/><polygon points="106.75,266.74 110.74,269.88 114.32,271.79 110.32,268.66" fill="#1d94e3" stroke="#1d94e3" stroke-width="0.6"/><polygon points="110.32,268.66 114.32,271.79 117.89,273.62 113.89,270.48" fill="#2685ea" stroke="#2685ea" stroke-width="0.6"/><polygon points="113.89,270.48 117.89,273.62 121.47,275.3 117.47,272.16" fill="#2f77ef" stroke="#2f77ef" stroke-width="0.6"/><polygon points="117.47,272.16 121.47,275.3 125.04,276.78 121.04,273.64" fill="#366af0" stroke="#366af0" stroke-width="0.6"/><polygon points="121.04,273.64 125.04,276.78 128.62,278.01 124.62,274.87" fill="#3b5eed" stroke="#3b5eed" stroke-width="0.6"/><polygon points="124.62,274.87 128.62,278.01 132.19,278.93 128.19,275.79" fill="#3f53ea" stroke="#3f53ea" stroke-width="0.6"/><polygon points="128.19,275.79 132.19,278.93 135.77,279.49 131.77,276.35" fill="#4349e7" stroke="#4349e7" stroke-width="0.6"/><polygon points="131.77,276.35 135.77,279.49 139.34,279.63 135.34,276.49" fill="#4542e2" stroke="#4542e2" stroke-width="0.6"/><polygon points="135.34,276.49 139.34,279.63 142.92,279.31 138.92,276.17" fill="#433cd7" stroke="#433cd7" stroke-width="0.6"/><polygon points="138.92,276.17 142.92,279.31 146.49,278.46 142.49,275.32" fill="#4239cf" stroke="#4239cf" stroke-width="0.6"/><polygon points="75,257.67 79,260.81 82.57,260.65 78.57,257.51" fill="#d8bf2d" stroke="#d8bf2d" stroke-width="0.6"/><polygon points="78.57,257.51 82.57,260.65 86.15,260.94 82.15,257.8" fill="#cac22b" stroke="#cac22b" stroke-width="0.6"/><polygon points="82.15,257.8 86.15,260.94 89.72,261.63 85.72,258.49" fill="#b4c531" stroke="#b4c531" stroke-width="0.6"/><polygon points="85.72,258.49 89.72,261.63 93.3,262.66 89.3,259.52" fill="#95c944" stroke="#95c944" stroke-width="0.6"/><polygon points="89.3,259.52 93.3,262.66 96.87,263.98 92.87,260.84" fill="#72cc5a" stroke="#72cc5a" stroke-width="0.6"/><polygon points="92.87,260.84 96.87,263.98 100.45,265.54 96.45,262.4" fill="#50c978" stroke="#50c978" stroke-width="0.6"/><polygon points="96.45,262.4 100.45,265.54 104.02,267.27 100.02,264.13" fill="#31c596" stroke="#31c596" stroke-width="0.6"/><polygon points="100.02,264.13 104.02,267.27 107.59,269.13 103.6,265.99" fill="#1ebcaf" stroke="#1ebcaf" stroke-width="0.6"/><polygon points="103.6,265.99 107.59,269.13 111.17,271.07 107.17,267.93" fill="#0bb2cb" stroke="#0bb2cb" stroke-width="0.6"/><polygon points="107.17,267.93 111.17,271.07 114.74,273.02 110.74,269.88" fill="#15a1d8" stroke="#15a1d8" stroke-width="0.6"/><polygon points="110.74,269.88 114.74,273.02 118.32,274.93 114.32,271.79" fill="#1f91e6" stroke="#1f91e6" stroke-width="0.6"/><polygon points="114.32,271.79 118.32,274.93 121.89,276.76 117.89,273.62" fill="#2882eb" stroke="#2882eb" stroke-width="0.6"/><polygon points="117.89,273.62 121.89,276.76 125.47,278.44 121.47,275.3" fill="#3174f0" stroke="#3174f0" stroke-width="0.6"/><polygon points="121.47,275.3 125.47,278.44 129.04,279.92 125.04,276.78" fill="#3767ef" stroke="#3767ef" stroke-width="0.6"/><polygon points="125.04,276.78 129.04,279.92 132.62,281.15 128.62,278.01" fill="#3c5bec" stroke="#3c5bec" stroke-width="0.6"/><polygon points="128.62,278.01 132.62,281.15 136.19,282.07 132.19,278.93" fill="#4050e9" stroke="#4050e9" stroke-width="0.6"/><polygon points="132.19,278.93 136.19,282.07 139.77,282.63 135.77,279.49" fill="#4447e6" stroke="#4447e6" stroke-width="0.6"/><polygon points="135.77,279.49 139.77,282.63 143.34,282.77 139.34,279.63" fill="#443fdd" stroke="#443fdd" stroke-width="0.6"/><polygon points="139.34,279.63 143.34,282.77 146.92,282.45 142.92,279.31" fill="#4339d1" stroke="#4339d1" stroke-width="0.6"/><polygon points="142.92,279.31 146.92,282.45 150.49,281.6 146.49,278.46" fill="#4236c9" stroke="#4236c9" stroke-width="0.6"/><polygon points="79,260.81 83,263.95 86.57,263.79 82.57,260.65" fill="#d3c02d" stroke="#d3c02d" stroke-width="0.6"/><polygon points="82.57,260.65 86.57,263.79 90.15,264.08 86.15,260.94" fill="#c4c32b" stroke="#c4c32b" stroke-width="0.6"/><polygon points="86.15,260.94 90.15,264.08 93.72,264.77 89.72,261.63" fill="#abc637" stroke="#abc637" stroke-width="0.6"/><polygon points="89.72,261.63 93.72,264.77 97.3,265.8 93.3,262.66" fill="#8cca49" stroke="#8cca49" stroke-width="0.6"/><polygon points="93.3,262.66 97.3,265.8 100.87,267.12 96.87,263.98" fill="#6acb61" stroke="#6acb61" stroke-width="0.6"/><polygon points="96.87,263.98 100.87,267.12 104.44,268.68 100.45,265.54" fill="#48c87f" stroke="#48c87f" stroke-width="0.6"/><polygon points="100.45,265.54 104.44,268.68 108.02,270.41 104.02,267.27" fill="#2dc39b" stroke="#2dc39b" stroke-width="0.6"/><polygon points="104.02,267.27 108.02,270.41 111.59,272.27 107.59,269.13" fill="#1abab5" stroke="#1abab5" stroke-width="0.6"/><polygon points="107.59,269.13 111.59,272.27 115.17,274.21 111.17,271.07" fill="#0dafcd" stroke="#0dafcd" stroke-width="0.6"/><polygon points="111.17,271.07 115.17,274.21 118.74,276.16 114.74,273.02" fill="#179edb" stroke="#179edb" stroke-width="0.6"/><polygon points="114.74,273.02 118.74,276.16 122.32,278.07 118.32,274.93" fill="#208ee7" stroke="#208ee7" stroke-width="0.6"/><polygon points="118.32,274.93 122.32,278.07 125.89,279.9 121.89,276.76" fill="#2a7fec" stroke="#2a7fec" stroke-width="0.6"/><polygon points="121.89,276.76 125.89,279.9 129.47,281.58 125.47,278.44" fill="#3372f1" stroke="#3372f1" stroke-width="0.6"/><polygon points="125.47,278.44 129.47,281.58 133.04,283.06 129.04,279.92" fill="#3864ef" stroke="#3864ef" stroke-width="0.6"/><polygon points="129.04,279.92 133.04,283.06 136.62,284.28 132.62,281.15" fill="#3d58eb" stroke="#3d58eb" stroke-width="0.6"/><polygon points="132.62,281.15 136.62,284.28 140.19,285.21 136.19,282.07" fill="#414de8" stroke="#414de8" stroke-width="0.6"/><polygon points="136.19,282.07 140.19,285.21 143.77,285.77 139.77,282.63" fill="#4544e5" stroke="#4544e5" stroke-width="0.6"/><polygon points="139.77,282.63 143.77,285.77 147.34,285.91 143.34,282.77" fill="#433cd7" stroke="#433cd7" stroke-width="0.6"/><polygon points="143.34,282.77 147.34,285.91 150.92,285.58 146.92,282.45" fill="#4237cb" stroke="#4237cb" stroke-width="0.6"/><polygon points="146.92,282.45 150.92,285.58 154.49,284.73 150.49,281.6" fill="#4133c4" stroke="#4133c4" stroke-width="0.6"/><polygon points="83,263.95 87,267.09 90.57,266.93 86.57,263.79" fill="#ccc12c" stroke="#ccc12c" stroke-width="0.6"/><polygon points="86.57,263.79 90.57,266.93 94.15,267.22 90.15,264.08" fill="#bcc42c" stroke="#bcc42c" stroke-width="0.6"/><polygon points="90.15,264.08 94.15,267.22 97.72,267.91 93.72,264.77" fill="#a2c73c" stroke="#a2c73c" stroke-width="0.6"/><polygon points="93.72,264.77 97.72,267.91 101.29,268.94 97.3,265.8" fill="#83cb4e" stroke="#83cb4e" stroke-width="0.6"/><polygon points="97.3,265.8 101.29,268.94 104.87,270.26 100.87,267.12" fill="#63ca68" stroke="#63ca68" stroke-width="0.6"/><polygon points="100.87,267.12 104.87,270.26 108.44,271.81 104.44,268.68" fill="#41c885" stroke="#41c885" stroke-width="0.6"/><polygon points="104.44,268.68 108.44,271.81 112.02,273.55 108.02,270.41" fill="#29c1a0" stroke="#29c1a0" stroke-width="0.6"/><polygon points="108.02,270.41 112.02,273.55 115.59,275.41 111.59,272.27" fill="#16b8ba" stroke="#16b8ba" stroke-width="0.6"/><polygon points="111.59,272.27 115.59,275.41 119.17,277.34 115.17,274.21" fill="#0eacd0" stroke="#0eacd0" stroke-width="0.6"/><polygon points="115.17,274.21 119.17,277.34 122.74,279.3 118.74,276.16" fill="#189bdd" stroke="#189bdd" stroke-width="0.6"/><polygon points="118.74,276.16 122.74,279.3 126.32,281.21 122.32,278.07" fill="#228be8" stroke="#228be8" stroke-width="0.6"/><polygon points="122.32,278.07 126.32,281.21 129.89,283.03 125.89,279.9" fill="#2c7ded" stroke="#2c7ded" stroke-width="0.6"/><polygon points="125.89,279.9 129.89,283.03 133.47,284.71 129.47,281.58" fill="#346ff2" stroke="#346ff2" stroke-width="0.6"/><polygon points="129.47,281.58 133.47,284.71 137.04,286.2 133.04,283.06" fill="#3962ee" stroke="#3962ee" stroke-width="0.6"/><polygon points="133.04,283.06 137.04,286.2 140.62,287.42 136.62,284.28" fill="#3e55ea" stroke="#3e55ea" stroke-width="0.6"/><polygon points="136.62,284.28 140.62,287.42 144.19,288.34 140.19,285.21" fill="#424ae7" stroke="#424ae7" stroke-width="0.6"/><polygon points="140.19,285.21 144.19,288.34 147.77,288.9 143.77,285.77" fill="#4541e1" stroke="#4541e1" stroke-width="0.6"/><polygon points="143.77,285.77 147.77,288.9 151.34,289.05 147.34,285.91" fill="#433ad1" stroke="#433ad1" stroke-width="0.6"/><polygon points="147.34,285.91 151.34,289.05 154.92,288.72 150.92,285.58" fill="#4134c5" stroke="#4134c5" stroke-width="0.6"/><polygon points="150.92,285.58 154.92,288.72 158.49,287.87 154.49,284.73" fill="#4130be" stroke="#4130be" stroke-width="0.6"/><polygon points="87,267.09 91,270.22 94.57,270.07 90.57,266.93" fill="#c6c32b" stroke="#c6c32b" stroke-width="0.6"/><polygon points="90.57,266.93 94.57,270.07 98.14,270.36 94.15,267.22" fill="#b4c531" stroke="#b4c531" stroke-width="0.6"/><polygon points="94.15,267.22 98.14,270.36 101.72,271.05 97.72,267.91" fill="#99c841" stroke="#99c841" stroke-width="0.6"/><polygon points="97.72,267.91 101.72,271.05 105.29,272.08 101.29,268.94" fill="#7acc54" stroke="#7acc54" stroke-width="0.6"/><polygon points="101.29,268.94 105.29,272.08 108.87,273.4 104.87,270.26" fill="#5bca6e" stroke="#5bca6e" stroke-width="0.6"/><polygon points="104.87,270.26 108.87,273.4 112.44,274.95 108.44,271.81" fill="#39c78c" stroke="#39c78c" stroke-width="0.6"/><polygon points="108.44,271.81 112.44,274.95 116.02,276.69 112.02,273.55" fill="#26c0a5" stroke="#26c0a5" stroke-width="0.6"/><polygon points="112.02,273.55 116.02,276.69 119.59,278.55 115.59,275.41" fill="#12b6c0" stroke="#12b6c0" stroke-width="0.6"/><polygon points="115.59,275.41 119.59,278.55 123.17,280.48 119.17,277.34" fill="#10a8d3" stroke="#10a8d3" stroke-width="0.6"/><polygon points="119.17,277.34 123.17,280.48 126.74,282.43 122.74,279.3" fill="#1a98e0" stroke="#1a98e0" stroke-width="0.6"/><polygon points="122.74,279.3 126.74,282.43 130.32,284.35 126.32,281.21" fill="#2488e9" stroke="#2488e9" stroke-width="0.6"/><polygon points="126.32,281.21 130.32,284.35 133.89,286.17 129.89,283.03" fill="#2e7aee" stroke="#2e7aee" stroke-width="0.6"/><polygon points="129.89,283.03 133.89,286.17 137.47,287.85 133.47,284.71" fill="#366cf1" stroke="#366cf1" stroke-width="0.6"/><polygon points="133.47,284.71 137.47,287.85 141.04,289.33 137.04,286.2" fill="#3a5fed" stroke="#3a5fed" stroke-width="0.6"/><polygon points="137.04,286.2 141.04,289.33 144.62,290.56 140.62,287.42" fill="#3f53ea" stroke="#3f53ea" stroke-width="0.6"/><polygon points="140.62,287.42 144.62,290.56 148.19,291.48 144.19,288.34" fill="#4348e6" stroke="#4348e6" stroke-width="0.6"/><polygon points="144.19,288.34 148.19,291.48 151.77,292.04 147.77,288.9" fill="#443edb" stroke="#443edb" stroke-width="0.6"/><polygon points="147.77,288.9 151.77,292.04 155.34,292.19 151.34,289.05" fill="#4237cb" stroke="#4237cb" stroke-width="0.6"/><polygon points="151.34,289.05 155.34,292.19 158.92,291.86 154.92,288.72" fill="#4131c0" stroke="#4131c0" stroke-width="0.6"/><polygon points="154.92,288.72 158.92,291.86 162.49,291.01 158.49,287.87" fill="#402eb8" stroke="#402eb8" stroke-width="0.6"/><polygon points="91,270.22 95,273.36 98.57,273.2 94.57,270.07" fill="#bfc42b" stroke="#bfc42b" stroke-width="0.6"/><polygon points="94.57,270.07 98.57,273.2 102.14,273.5 98.14,270.36" fill="#abc637" stroke="#abc637" stroke-width="0.6"/><polygon points="98.14,270.36 102.14,273.5 105.72,274.18 101.72,271.05" fill="#91c946" stroke="#91c946" stroke-width="0.6"/><polygon points="101.72,271.05 105.72,274.18 109.29,275.22 105.29,272.08" fill="#72cc5a" stroke="#72cc5a" stroke-width="0.6"/><polygon points="105.29,272.08 109.29,275.22 112.87,276.54 108.87,273.4" fill="#53c975" stroke="#53c975" stroke-width="0.6"/><polygon points="108.87,273.4 112.87,276.54 116.44,278.09 112.44,274.95" fill="#34c692" stroke="#34c692" stroke-width="0.6"/><polygon points="112.44,274.95 116.44,278.09 120.02,279.83 116.02,276.69" fill="#22beaa" stroke="#22beaa" stroke-width="0.6"/><polygon points="116.02,276.69 120.02,279.83 123.59,281.69 119.59,278.55" fill="#0db5c5" stroke="#0db5c5" stroke-width="0.6"/><polygon points="119.59,278.55 123.59,281.69 127.17,283.62 123.17,280.48" fill="#12a5d5" stroke="#12a5d5" stroke-width="0.6"/><polygon points="123.17,280.48 127.17,283.62 130.74,285.57 126.74,282.43" fill="#1c94e2" stroke="#1c94e2" stroke-width="0.6"/><polygon points="126.74,282.43 130.74,285.57 134.32,287.49 130.32,284.35" fill="#2685ea" stroke="#2685ea" stroke-width="0.6"/><polygon points="130.32,284.35 134.32,287.49 137.89,289.31 133.89,286.17" fill="#2f77ef" stroke="#2f77ef" stroke-width="0.6"/><polygon points="133.89,286.17 137.89,289.31 141.47,290.99 137.47,287.85" fill="#3769f0" stroke="#3769f0" stroke-width="0.6"/><polygon points="137.47,287.85 141.47,290.99 145.04,292.47 141.04,289.33" fill="#3c5cec" stroke="#3c5cec" stroke-width="0.6"/><polygon points="141.04,289.33 145.04,292.47 148.62,293.7 144.62,290.56" fill="#4050e9" stroke="#4050e9" stroke-width="0.6"/><polygon points="144.62,290.56 148.62,293.7 152.19,294.62 148.19,291.48" fill="#4445e6" stroke="#4445e6" stroke-width="0.6"/><polygon points="148.19,291.48 152.19,294.62 155.77,295.18 151.77,292.04" fill="#433cd5" stroke="#433cd5" stroke-width="0.6"/><polygon points="151.77,292.04 155.77,295.18 159.34,295.33 155.34,292.19" fill="#4134c6" stroke="#4134c6" stroke-width="0.6"/><polygon points="155.34,292.19 159.34,295.33 162.92,295 158.92,291.86" fill="#402eba" stroke="#402eba" stroke-width="0.6"/><polygon points="158.92,291.86 162.92,295 166.49,294.15 162.49,291.01" fill="#3f2bb2" stroke="#3f2bb2" stroke-width="0.6"/></g>
<g stroke-linejoin="round"><polygon points="39,229.11 43,232.09 46.57,231.52 42.57,228.54" fill="#f8ba31" stroke="#f8ba31" stroke-width="0.6"/><polygon points="42.57,228.54 46.57,231.52 50.15,231.29 46.15,228.31" fill="#f6b832" stroke="#f6b832" stroke-width="0.6"/><polygon points="46.15,228.31 50.15,231.29 53.72,231.35 49.72,228.37" fill="#eeba31" stroke="#eeba31" stroke-width="0.6"/><polygon points="49.72,228.37 53.72,231.35 57.3,231.68 53.3,228.7" fill="#e6bc2f" stroke="#e6bc2f" stroke-width="0.6"/><polygon points="53.3,228.7 57.3,231.68 60.87,232.21 56.87,229.23" fill="#dbbe2e" stroke="#dbbe2e" stroke-width="0.6"/><polygon points="56.87,229.23 60.87,232.21 64.45,232.93 60.45,229.95" fill="#cac22b" stroke="#cac22b" stroke-width="0.6"/><polygon points="60.45,229.95 64.45,232.93 68.02,233.77 64.02,230.79" fill="#b0c633" stroke="#b0c633" stroke-width="0.6"/><polygon points="64.02,230.79 68.02,233.77 71.6,234.71 67.6,231.73" fill="#91c946" stroke="#91c946" stroke-width="0.6"/><polygon points="67.6,231.73 71.6,234.71 75.17,235.7 71.17,232.72" fill="#71cb5b" stroke="#71cb5b" stroke-width="0.6"/><polygon points="71.17,232.72 75.17,235.7 78.75,236.71 74.75,233.73" fill="#54c974" stroke="#54c974" stroke-width="0.6"/><polygon points="74.75,233.73 78.75,236.71 82.32,237.68 78.32,234.7" fill="#38c78d" stroke="#38c78d" stroke-width="0.6"/><polygon points="78.32,234.7 82.32,237.68 85.9,238.59 81.9,235.61" fill="#29c1a0" stroke="#29c1a0" stroke-width="0.6"/><polygon points="81.9,235.61 85.9,238.59 89.47,239.39 85.47,236.41" fill="#1cbbb2" stroke="#1cbbb2" stroke-width="0.6"/><polygon points="85.47,236.41 89.47,239.39 93.05,240.03 89.05,237.05" fill="#0eb5c5" stroke="#0eb5c5" stroke-width="0.6"/><polygon points="89.05,237.05 93.05,240.03 96.62,240.49 92.62,237.51" fill="#0eacd0" stroke="#0eacd0" stroke-width="0.6"/><polygon points="92.62,237.51 96.62,240.49 100.2,240.71 96.2,237.73" fill="#13a3d6" stroke="#13a3d6" stroke-width="0.6"/><polygon points="96.2,237.73 100.2,240.71 103.77,240.66 99.77,237.68" fill="#189cdc" stroke="#189cdc" stroke-width="0.6"/><polygon points="99.77,237.68 103.77,240.66 107.35,240.3 103.35,237.32" fill="#1b96e1" stroke="#1b96e1" stroke-width="0.6"/><polygon points="103.35,237.32 107.35,240.3 110.92,239.58 106.92,236.61" fill="#1e92e5" stroke="#1e92e5" stroke-width="0.6"/><polygon points="106.92,236.61 110.92,239.58 114.5,238.48 110.5,235.5" fill="#1f8fe6" stroke="#1f8fe6" stroke-width="0.6"/><polygon points="43,232.09 47,235.06 50.57,234.5 46.57,231.52" fill="#f8b832" stroke="#f8b832" stroke-width="0.6"/><polygon points="46.57,231.52 50.57,234.5 54.15,234.27 50.15,231.29" fill="#f3b931" stroke="#f3b931" stroke-width="0.6"/><polygon points="50.15,231.29 54.15,234.27 57.72,234.33 53.72,231.35" fill="#ecbb30" stroke="#ecbb30" stroke-width="0.6"/><polygon points="53.72,231.35 57.72,234.33 61.3,234.66 57.3,231.68" fill="#e3bd2f" stroke="#e3bd2f" stroke-width="0.6"/><polygon points="57.3,231.68 61.3,234.66 64.87,235.19 60.87,232.21" fill="#d9bf2e" stroke="#d9bf2e" stroke-width="0.6"/><polygon points="60.87,232.21 64.87,235.19 68.45,235.9 64.45,232.93" fill="#c6c32b" stroke="#c6c32b" stroke-width="0.6"/><polygon points="64.45,232.93 68.45,235.9 72.02,236.75 68.02,233.77" fill="#aac637" stroke="#aac637" stroke-width="0.6"/><polygon points="68.02,233.77 72.02,236.75 75.6,237.69 71.6,234.71" fill="#8aca4a" stroke="#8aca4a" stroke-width="0.6"/><polygon points="71.6,234.71 75.6,237.69 79.17,238.68 75.17,235.7" fill="#6bcb60" stroke="#6bcb60" stroke-width="0.6"/><polygon points="75.17,235.7 79.17,238.68 82.75,239.69 78.75,236.71" fill="#4fc979" stroke="#4fc979" stroke-width="0.6"/><polygon points="78.75,236.71 82.75,239.69 86.32,240.66 82.32,237.68" fill="#34c692" stroke="#34c692" stroke-width="0.6"/><polygon points="82.32,237.68 86.32,240.66 89.9,241.57 85.9,238.59" fill="#26c0a4" stroke="#26c0a4" stroke-width="0.6"/><polygon points="85.9,238.59 89.9,241.57 93.47,242.36 89.47,239.39" fill="#18bab7" stroke="#18bab7" stroke-width="0.6"/><polygon points="89.47,239.39 93.47,242.36 97.05,243.01 93.05,240.03" fill="#0bb3c9" stroke="#0bb3c9" stroke-width="0.6"/><polygon points="93.05,240.03 97.05,243.01 100.62,243.47 96.62,240.49" fill="#10aad1" stroke="#10aad1" stroke-width="0.6"/><polygon points="96.62,240.49 100.62,243.47 104.2,243.69 100.2,240.71" fill="#15a1d8" stroke="#15a1d8" stroke-width="0.6"/><polygon points="100.2,240.71 104.2,243.69 107.77,243.64 103.77,240.66" fill="#199ade" stroke="#199ade" stroke-width="0.6"/><polygon points="103.77,240.66 107.77,243.64 111.35,243.28 107.35,240.3" fill="#1d94e3" stroke="#1d94e3" stroke-width="0.6"/><polygon points="107.35,240.3 111.35,243.28 114.92,242.56 110.92,239.58" fill="#1f8fe6" stroke="#1f8fe6" stroke-width="0.6"/><polygon points="110.92,239.58 114.92,242.56 118.5,241.45 114.5,238.48" fill="#218de7" stroke="#218de7" stroke-width="0.6"/><polygon points="47,235.06 51,238.04 54.57,237.48 50.57,234.5" fill="#f6b832" stroke="#f6b832" stroke-width="0.6"/><polygon points="50.57,234.5 54.57,237.48 58.15,237.25 54.15,234.27" fill="#f0ba31" stroke="#f0ba31" stroke-width="0.6"/><polygon points="54.15,234.27 58.15,237.25 61.72,237.31 57.72,234.33" fill="#e9bb30" stroke="#e9bb30" stroke-width="0.6"/><polygon points="57.72,234.33 61.72,237.31 65.3,237.63 61.3,234.66" fill="#e0bd2f" stroke="#e0bd2f" stroke-width="0.6"/><polygon points="61.3,234.66 65.3,237.63 68.87,238.17 64.87,235.19" fill="#d5bf2d" stroke="#d5bf2d" stroke-width="0.6"/><polygon points="64.87,235.19 68.87,238.17 72.45,238.88 68.45,235.9" fill="#c1c42a" stroke="#c1c42a" stroke-width="0.6"/><polygon points="68.45,235.9 72.45,238.88 76.02,239.73 72.02,236.75" fill="#a3c73b" stroke="#a3c73b" stroke-width="0.6"/><polygon points="72.02,236.75 76.02,239.73 79.6,240.67 75.6,237.69" fill="#83cb4e" stroke="#83cb4e" stroke-width="0.6"/><polygon points="75.6,237.69 79.6,240.67 83.17,241.66 79.17,238.68" fill="#66cb65" stroke="#66cb65" stroke-width="0.6"/><polygon points="79.17,238.68 83.17,241.66 86.75,242.66 82.75,239.69" fill="#49c87e" stroke="#49c87e" stroke-width="0.6"/><polygon points="82.75,239.69 86.75,242.66 90.32,243.64 86.32,240.66" fill="#31c595" stroke="#31c595" stroke-width="0.6"/><polygon points="86.32,240.66 90.32,243.64 93.9,244.55 89.9,241.57" fill="#24bfa8" stroke="#24bfa8" stroke-width="0.6"/><polygon points="89.9,241.57 93.9,244.55 97.47,245.34 93.47,242.36" fill="#15b8bb" stroke="#15b8bb" stroke-width="0.6"/><polygon points="93.47,242.36 97.47,245.34 101.05,245.99 97.05,243.01" fill="#0bb1cc" stroke="#0bb1cc" stroke-width="0.6"/><polygon points="97.05,243.01 101.05,245.99 104.62,246.44 100.62,243.47" fill="#11a7d3" stroke="#11a7d3" stroke-width="0.6"/><polygon points="100.62,243.47 104.62,246.44 108.2,246.67 104.2,243.69" fill="#169fda" stroke="#169fda" stroke-width="0.6"/><polygon points="104.2,243.69 108.2,246.67 111.77,246.62 107.77,243.64" fill="#1b97e0" stroke="#1b97e0" stroke-width="0.6"/><polygon points="107.77,243.64 111.77,246.62 115.35,246.26 111.35,243.28" fill="#1e91e5" stroke="#1e91e5" stroke-width="0.6"/><polygon points="111.35,243.28 115.35,246.26 118.92,245.54 114.92,242.56" fill="#218de7" stroke="#218de7" stroke-width="0.6"/><polygon points="114.92,242.56 118.92,245.54 122.49,244.43 118.5,241.45" fill="#228be8" stroke="#228be8" stroke-width="0.6"/><polygon points="51,238.04 55,241.02 58.57,240.46 54.57,237.48" fill="#f3b931" stroke="#f3b931" stroke-width="0.6"/><polygon points="54.57,237.48 58.57,240.46 62.15,240.22 58.15,237.25" fill="#eeba31" stroke="#eeba31" stroke-width="0.6"/><polygon points="58.15,237.25 62.15,240.22 65.72,240.29 61.72,237.31" fill="#e6bc2f" stroke="#e6bc2f" stroke-width="0.6"/><polygon points="61.72,237.31 65.72,240.29 69.3,240.61 65.3,237.63" fill="#debe2e" stroke="#debe2e" stroke-width="0.6"/><polygon points="65.3,237.63 69.3,240.61 72.87,241.15 68.87,238.17" fill="#d0c02c" stroke="#d0c02c" stroke-width="0.6"/><polygon points="68.87,238.17 72.87,241.15 76.45,241.86 72.45,238.88" fill="#bac52d" stroke="#bac52d" stroke-width="0.6"/><polygon points="72.45,238.88 76.45,241.86 80.02,242.71 76.02,239.73" fill="#9cc83f" stroke="#9cc83f" stroke-width="0.6"/><polygon points="76.02,239.73 80.02,242.71 83.6,243.65 79.6,240.67" fill="#7dcb52" stroke="#7dcb52" stroke-width="0.6"/><polygon points="79.6,240.67 83.6,243.65 87.17,244.64 83.17,241.66" fill="#60ca6a" stroke="#60ca6a" stroke-width="0.6"/><polygon points="83.17,241.66 87.17,244.64 90.75,245.64 86.75,242.66" fill="#43c883" stroke="#43c883" stroke-width="0.6"/><polygon points="86.75,242.66 90.75,245.64 94.32,246.62 90.32,243.64" fill="#2ec499" stroke="#2ec499" stroke-width="0.6"/><polygon points="90.32,243.64 94.32,246.62 97.9,247.53 93.9,244.55" fill="#21bdac" stroke="#21bdac" stroke-width="0.6"/><polygon points="93.9,244.55 97.9,247.53 101.47,248.32 97.47,245.34" fill="#12b7bf" stroke="#12b7bf" stroke-width="0.6"/><polygon points="97.47,245.34 101.47,248.32 105.05,248.97 101.05,245.99" fill="#0dafcd" stroke="#0dafcd" stroke-width="0.6"/><polygon points="101.05,245.99 105.05,248.97 108.62,249.42 104.62,246.44" fill="#12a5d5" stroke="#12a5d5" stroke-width="0.6"/><polygon points="104.62,246.44 108.62,249.42 112.2,249.65 108.2,246.67" fill="#189cdc" stroke="#189cdc" stroke-width="0.6"/><polygon points="108.2,246.67 112.2,249.65 115.77,249.6 111.77,246.62" fill="#1c95e2" stroke="#1c95e2" stroke-width="0.6"/><polygon points="111.77,246.62 115.77,249.6 119.34,249.24 115.35,246.26" fill="#208fe6" stroke="#208fe6" stroke-width="0.6"/><polygon points="115.35,246.26 119.34,249.24 122.92,248.52 118.92,245.54" fill="#228be8" stroke="#228be8" stroke-width="0.6"/><polygon points="118.92,245.54 122.92,248.52 126.49,247.41 122.49,244.43" fill="#2489e9" stroke="#2489e9" stroke-width="0.6"/><polygon points="55,241.02 59,244 62.57,243.43 58.57,240.46" fill="#f1ba31" stroke="#f1ba31" stroke-width="0.6"/><polygon points="58.57,240.46 62.57,243.43 66.15,243.2 62.15,240.22" fill="#ebbb30" stroke="#ebbb30" stroke-width="0.6"/><polygon points="62.15,240.22 66.15,243.2 69.72,243.27 65.72,240.29" fill="#e4bc2f" stroke="#e4bc2f" stroke-width="0.6"/><polygon points="65.72,240.29 69.72,243.27 73.3,243.59 69.3,240.61" fill="#dbbe2e" stroke="#dbbe2e" stroke-width="0.6"/><polygon points="69.3,240.61 73.3,243.59 76.87,244.13 72.87,241.15" fill="#ccc22c" stroke="#ccc22c" stroke-width="0.6"/><polygon points="72.87,241.15 76.87,244.13 80.45,244.84 76.45,241.86" fill="#b4c531" stroke="#b4c531" stroke-width="0.6"/><polygon points="76.45,241.86 80.45,244.84 84.02,245.69 80.02,242.71" fill="#96c943" stroke="#96c943" stroke-width="0.6"/><polygon points="80.02,242.71 84.02,245.69 87.6,246.63 83.6,243.65" fill="#76cc56" stroke="#76cc56" stroke-width="0.6"/><polygon points="83.6,243.65 87.6,246.63 91.17,247.62 87.17,244.64" fill="#5aca6f" stroke="#5aca6f" stroke-width="0.6"/><polygon points="87.17,244.64 91.17,247.62 94.75,248.62 90.75,245.64" fill="#3ec888" stroke="#3ec888" stroke-width="0.6"/><polygon points="90.75,245.64 94.75,248.62 98.32,249.6 94.32,246.62" fill="#2cc29d" stroke="#2cc29d" stroke-width="0.6"/><polygon points="94.32,246.62 98.32,249.6 101.9,250.5 97.9,247.53" fill="#1ebcaf" stroke="#1ebcaf" stroke-width="0.6"/><polygon points="97.9,247.53 101.9,250.5 105.47,251.3 101.47,248.32" fill="#0fb5c3" stroke="#0fb5c3" stroke-width="0.6"/><polygon points="101.47,248.32 105.47,251.3 109.05,251.95 105.05,248.97" fill="#0eaccf" stroke="#0eaccf" stroke-width="0.6"/><polygon points="105.05,248.97 109.05,251.95 112.62,252.4 108.62,249.42" fill="#14a3d7" stroke="#14a3d7" stroke-width="0.6"/><polygon points="108.62,249.42 112.62,252.4 116.2,252.63 112.2,249.65" fill="#199ade" stroke="#199ade" stroke-width="0.6"/><polygon points="112.2,249.65 116.2,252.63 119.77,252.58 115.77,249.6" fill="#1e92e4" stroke="#1e92e4" stroke-width="0.6"/><polygon points="115.77,249.6 119.77,252.58 123.34,252.22 119.34,249.24" fill="#218de7" stroke="#218de7" stroke-width="0.6"/><polygon points="119.34,249.24 123.34,252.22 126.92,251.5 122.92,248.52" fill="#2389e9" stroke="#2389e9" stroke-width="0.6"/><polygon points="122.92,248.52 126.92,251.5 130.49,250.39 126.49,247.41" fill="#2587e9" stroke="#2587e9" stroke-width="0.6"/><polygon points="59,244 63,246.98 66.57,246.41 62.57,243.43" fill="#eeba31" stroke="#eeba31" stroke-width="0.6"/><polygon points="62.57,243.43 66.57,246.41 70.15,246.18 66.15,243.2" fill="#e8bb30" stroke="#e8bb30" stroke-width="0.6"/><polygon points="66.15,243.2 70.15,246.18 73.72,246.25 69.72,243.27" fill="#e1bd2f" stroke="#e1bd2f" stroke-width="0.6"/><polygon points="69.72,243.27 73.72,246.25 77.3,246.57 73.3,243.59" fill="#d8bf2d" stroke="#d8bf2d" stroke-width="0.6"/><polygon points="73.3,243.59 77.3,246.57 80.87,247.11 76.87,244.13" fill="#c7c32b" stroke="#c7c32b" stroke-width="0.6"/><polygon points="76.87,244.13 80.87,247.11 84.45,247.82 80.45,244.84" fill="#adc635" stroke="#adc635" stroke-width="0.6"/><polygon points="80.45,244.84 84.45,247.82 88.02,248.67 84.02,245.69" fill="#8fc947" stroke="#8fc947" stroke-width="0.6"/><polygon points="84.02,245.69 88.02,248.67 91.6,249.61 87.6,246.63" fill="#71cb5b" stroke="#71cb5b" stroke-width="0.6"/><polygon points="87.6,246.63 91.6,249.61 95.17,250.6 91.17,247.62" fill="#54c974" stroke="#54c974" stroke-width="0.6"/><polygon points="91.17,247.62 95.17,250.6 98.75,251.6 94.75,248.62" fill="#38c78d" stroke="#38c78d" stroke-width="0.6"/><polygon points="94.75,248.62 98.75,251.6 102.32,252.58 98.32,249.6" fill="#29c1a1" stroke="#29c1a1" stroke-width="0.6"/><polygon points="98.32,249.6 102.32,252.58 105.9,253.48 101.9,250.5" fill="#1bbbb4" stroke="#1bbbb4" stroke-width="0.6"/><polygon points="101.9,250.5 105.9,253.48 109.47,254.28 105.47,251.3" fill="#0cb4c7" stroke="#0cb4c7" stroke-width="0.6"/><polygon points="105.47,251.3 109.47,254.28 113.05,254.93 109.05,251.95" fill="#0faad1" stroke="#0faad1" stroke-width="0.6"/><polygon points="109.05,251.95 113.05,254.93 116.62,255.38 112.62,252.4" fill="#15a0d9" stroke="#15a0d9" stroke-width="0.6"/><polygon points="112.62,252.4 116.62,255.38 120.19,255.61 116.2,252.63" fill="#1a98e0" stroke="#1a98e0" stroke-width="0.6"/><polygon points="116.2,252.63 120.19,255.61 123.77,255.56 119.77,252.58" fill="#1f90e6" stroke="#1f90e6" stroke-width="0.6"/><polygon points="119.77,252.58 123.77,255.56 127.34,255.19 123.34,252.22" fill="#228be8" stroke="#228be8" stroke-width="0.6"/><polygon points="123.34,252.22 127.34,255.19 130.92,254.48 126.92,251.5" fill="#2587e9" stroke="#2587e9" stroke-width="0.6"/><polygon points="126.92,251.5 130.92,254.48 134.49,253.37 130.49,250.39" fill="#2685ea" stroke="#2685ea" stroke-width="0.6"/><polygon points="63,246.98 67,249.96 70.57,249.39 66.57,246.41" fill="#ebbb30" stroke="#ebbb30" stroke-width="0.6"/><polygon points="66.57,246.41 70.57,249.39 74.15,249.16 70.15,246.18" fill="#e6bc2f" stroke="#e6bc2f" stroke-width="0.6"/><polygon points="70.15,246.18 74.15,249.16 77.72,249.23 73.72,246.25" fill="#debd2e" stroke="#debd2e" stroke-width="0.6"/><polygon points="73.72,246.25 77.72,249.23 81.3,249.55 77.3,246.57" fill="#d4c02d" stroke="#d4c02d" stroke-width="0.6"/><polygon points="77.3,246.57 81.3,249.55 84.87,250.09 80.87,247.11" fill="#c2c42a" stroke="#c2c42a" stroke-width="0.6"/><polygon points="80.87,247.11 84.87,250.09 88.45,250.8 84.45,247.82" fill="#a7c739" stroke="#a7c739" stroke-width="0.6"/><polygon points="84.45,247.82 88.45,250.8 92.02,251.65 88.02,248.67" fill="#88ca4b" stroke="#88ca4b" stroke-width="0.6"/><polygon points="88.02,248.67 92.02,251.65 95.6,252.58 91.6,249.61" fill="#6bcb61" stroke="#6bcb61" stroke-width="0.6"/><polygon points="91.6,249.61 95.6,252.58 99.17,253.58 95.17,250.6" fill="#4fc979" stroke="#4fc979" stroke-width="0.6"/><polygon points="95.17,250.6 99.17,253.58 102.75,254.58 98.75,251.6" fill="#34c692" stroke="#34c692" stroke-width="0.6"/><polygon points="98.75,251.6 102.75,254.58 106.32,255.56 102.32,252.58" fill="#26c0a4" stroke="#26c0a4" stroke-width="0.6"/><polygon points="102.32,252.58 106.32,255.56 109.9,256.46 105.9,253.48" fill="#18b9b8" stroke="#18b9b8" stroke-width="0.6"/><polygon points="105.9,253.48 109.9,256.46 113.47,257.26 109.47,254.28" fill="#0bb2cb" stroke="#0bb2cb" stroke-width="0.6"/><polygon points="109.47,254.28 113.47,257.26 117.04,257.91 113.05,254.93" fill="#11a8d3" stroke="#11a8d3" stroke-width="0.6"/><polygon points="113.05,254.93 117.04,257.91 120.62,258.36 116.62,255.38" fill="#179edb" stroke="#179edb" stroke-width="0.6"/><polygon points="116.62,255.38 120.62,258.36 124.19,258.58 120.19,255.61" fill="#1c95e2" stroke="#1c95e2" stroke-width="0.6"/><polygon points="120.19,255.61 124.19,258.58 127.77,258.54 123.77,255.56" fill="#208ee7" stroke="#208ee7" stroke-width="0.6"/><polygon points="123.77,255.56 127.77,258.54 131.34,258.17 127.34,255.19" fill="#2489e9" stroke="#2489e9" stroke-width="0.6"/><polygon points="127.34,255.19 131.34,258.17 134.92,257.46 130.92,254.48" fill="#2685ea" stroke="#2685ea" stroke-width="0.6"/><polygon points="130.92,254.48 134.92,257.46 138.49,256.35 134.49,253.37" fill="#2883eb" stroke="#2883eb" stroke-width="0.6"/><polygon points="67,249.96 71,252.94 74.57,252.37 70.57,249.39" fill="#e9bb30" stroke="#e9bb30" stroke-width="0.6"/><polygon points="70.57,249.39 74.57,252.37 78.15,252.14 74.15,249.16" fill="#e3bc2f" stroke="#e3bc2f" stroke-width="0.6"/><polygon points="74.15,249.16 78.15,252.14 81.72,252.21 77.72,249.23" fill="#dcbe2e" stroke="#dcbe2e" stroke-width="0.6"/><polygon points="77.72,249.23 81.72,252.21 85.3,252.53 81.3,249.55" fill="#d0c12c" stroke="#d0c12c" stroke-width="0.6"/><polygon points="81.3,249.55 85.3,252.53 88.87,253.07 84.87,250.09" fill="#bcc42c" stroke="#bcc42c" stroke-width="0.6"/><polygon points="84.87,250.09 88.87,253.07 92.45,253.78 88.45,250.8" fill="#a0c83d" stroke="#a0c83d" stroke-width="0.6"/><polygon points="88.45,250.8 92.45,253.78 96.02,254.62 92.02,251.65" fill="#82cb4f" stroke="#82cb4f" stroke-width="0.6"/><polygon points="92.02,251.65 96.02,254.62 99.6,255.56 95.6,252.58" fill="#65cb66" stroke="#65cb66" stroke-width="0.6"/><polygon points="95.6,252.58 99.6,255.56 103.17,256.56 99.17,253.58" fill="#49c87e" stroke="#49c87e" stroke-width="0.6"/><polygon points="99.17,253.58 103.17,256.56 106.75,257.56 102.75,254.58" fill="#31c595" stroke="#31c595" stroke-width="0.6"/><polygon points="102.75,254.58 106.75,257.56 110.32,258.54 106.32,255.56" fill="#23bea8" stroke="#23bea8" stroke-width="0.6"/><polygon points="106.32,255.56 110.32,258.54 113.89,259.44 109.9,256.46" fill="#14b8bc" stroke="#14b8bc" stroke-width="0.6"/><polygon points="109.9,256.46 113.89,259.44 117.47,260.24 113.47,257.26" fill="#0cb0cd" stroke="#0cb0cd" stroke-width="0.6"/><polygon points="113.47,257.26 117.47,260.24 121.04,260.88 117.04,257.91" fill="#12a5d5" stroke="#12a5d5" stroke-width="0.6"/><polygon points="117.04,257.91 121.04,260.88 124.62,261.34 120.62,258.36" fill="#189bdd" stroke="#189bdd" stroke-width="0.6"/><polygon points="120.62,258.36 124.62,261.34 128.19,261.56 124.19,258.58" fill="#1d93e4" stroke="#1d93e4" stroke-width="0.6"/><polygon points="124.19,258.58 128.19,261.56 131.77,261.51 127.77,258.54" fill="#228ce8" stroke="#228ce8" stroke-width="0.6"/><polygon points="127.77,258.54 131.77,261.51 135.34,261.15 131.34,258.17" fill="#2587e9" stroke="#2587e9" stroke-width="0.6"/><polygon points="131.34,258.17 135.34,261.15 138.92,260.44 134.92,257.46" fill="#2883eb" stroke="#2883eb" stroke-width="0.6"/><polygon points="134.92,257.46 138.92,260.44 142.49,259.33 138.49,256.35" fill="#2981ec" stroke="#2981ec" stroke-width="0.6"/><polygon points="71,252.94 75,255.92 78.57,255.35 74.57,252.37" fill="#e6bc2f" stroke="#e6bc2f" stroke-width="0.6"/><polygon points="74.57,252.37 78.57,255.35 82.15,255.12 78.15,252.14" fill="#e0bd2f" stroke="#e0bd2f" stroke-width="0.6"/><polygon points="78.15,252.14 82.15,255.12 85.72,255.19 81.72,252.21" fill="#d9bf2e" stroke="#d9bf2e" stroke-width="0.6"/><polygon points="81.72,252.21 85.72,255.19 89.3,255.51 85.3,252.53" fill="#cbc22c" stroke="#cbc22c" stroke-width="0.6"/><polygon points="85.3,252.53 89.3,255.51 92.87,256.05 88.87,253.07" fill="#b5c530" stroke="#b5c530" stroke-width="0.6"/><polygon points="88.87,253.07 92.87,256.05 96.45,256.76 92.45,253.78" fill="#99c841" stroke="#99c841" stroke-width="0.6"/><polygon points="92.45,253.78 96.45,256.76 100.02,257.6 96.02,254.62" fill="#7bcc53" stroke="#7bcc53" stroke-width="0.6"/><polygon points="96.02,254.62 100.02,257.6 103.6,258.54 99.6,255.56" fill="#5fca6b" stroke="#5fca6b" stroke-width="0.6"/><polygon points="99.6,255.56 103.6,258.54 107.17,259.53 103.17,256.56" fill="#43c883" stroke="#43c883" stroke-width="0.6"/><polygon points="103.17,256.56 107.17,259.53 110.74,260.54 106.75,257.56" fill="#2ec499" stroke="#2ec499" stroke-width="0.6"/><polygon points="106.75,257.56 110.74,260.54 114.32,261.51 110.32,258.54" fill="#20bdac" stroke="#20bdac" stroke-width="0.6"/><polygon points="110.32,258.54 114.32,261.51 117.89,262.42 113.89,259.44" fill="#11b6c0" stroke="#11b6c0" stroke-width="0.6"/><polygon points="113.89,259.44 117.89,262.42 121.47,263.22 117.47,260.24" fill="#0dadcf" stroke="#0dadcf" stroke-width="0.6"/><polygon points="117.47,260.24 121.47,263.22 125.04,263.86 121.04,260.88" fill="#14a3d7" stroke="#14a3d7" stroke-width="0.6"/><polygon points="121.04,260.88 125.04,263.86 128.62,264.32 124.62,261.34" fill="#1a99df" stroke="#1a99df" stroke-width="0.6"/><polygon points="124.62,261.34 128.62,264.32 132.19,264.54 128.19,261.56" fill="#1f90e6" stroke="#1f90e6" stroke-width="0.6"/><polygon points="128.19,261.56 132.19,264.54 135.77,264.49 131.77,261.51" fill="#238ae8" stroke="#238ae8" stroke-width="0.6"/><polygon points="131.77,261.51 135.77,264.49 139.34,264.13 135.34,261.15" fill="#2685ea" stroke="#2685ea" stroke-width="0.6"/><polygon points="135.34,261.15 139.34,264.13 142.92,263.42 138.92,260.44" fill="#2981ec" stroke="#2981ec" stroke-width="0.6"/><polygon points="138.92,260.44 142.92,263.42 146.49,262.31 142.49,259.33" fill="#2a7fed" stroke="#2a7fed" stroke-width="0.6"/><polygon points="75,255.92 79,258.9 82.57,258.33 78.57,255.35" fill="#e3bc2f" stroke="#e3bc2f" stroke-width="0.6"/><polygon points="78.57,255.35 82.57,258.33 86.15,258.1 82.15,255.12" fill="#debe2e" stroke="#debe2e" stroke-width="0.6"/><polygon points="82.15,255.12 86.15,258.1 89.72,258.17 85.72,255.19" fill="#d6bf2d" stroke="#d6bf2d" stroke-width="0.6"/><polygon points="85.72,255.19 89.72,258.17 93.3,258.49 89.3,255.51" fill="#c6c32b" stroke="#c6c32b" stroke-width="0.6"/><polygon points="89.3,255.51 93.3,258.49 96.87,259.02 92.87,256.05" fill="#afc634" stroke="#afc634" stroke-width="0.6"/><polygon points="92.87,256.05 96.87,259.02 100.45,259.74 96.45,256.76" fill="#93c945" stroke="#93c945" stroke-width="0.6"/><polygon points="96.45,256.76 100.45,259.74 104.02,260.58 100.02,257.6" fill="#75cc58" stroke="#75cc58" stroke-width="0.6"/><polygon points="100.02,257.6 104.02,260.58 107.59,261.52 103.6,258.54" fill="#5aca70" stroke="#5aca70" stroke-width="0.6"/><polygon points="103.6,258.54 107.59,261.52 111.17,262.51 107.17,259.53" fill="#3ec888" stroke="#3ec888" stroke-width="0.6"/><polygon points="107.17,259.53 111.17,262.51 114.74,263.52 110.74,260.54" fill="#2cc29d" stroke="#2cc29d" stroke-width="0.6"/><polygon points="110.74,260.54 114.74,263.52 118.32,264.49 114.32,261.51" fill="#1dbcb0" stroke="#1dbcb0" stroke-width="0.6"/><polygon points="114.32,261.51 118.32,264.49 121.89,265.4 117.89,262.42" fill="#0eb5c4" stroke="#0eb5c4" stroke-width="0.6"/><polygon points="117.89,262.42 121.89,265.4 125.47,266.2 121.47,263.22" fill="#0fabd0" stroke="#0fabd0" stroke-width="0.6"/><polygon points="121.47,263.22 125.47,266.2 129.04,266.84 125.04,263.86" fill="#15a0d9" stroke="#15a0d9" stroke-width="0.6"/><polygon points="125.04,263.86 129.04,266.84 132.62,267.3 128.62,264.32" fill="#1b97e1" stroke="#1b97e1" stroke-width="0.6"/><polygon points="128.62,264.32 132.62,267.3 136.19,267.52 132.19,264.54" fill="#208ee7" stroke="#208ee7" stroke-width="0.6"/><polygon points="132.19,264.54 136.19,267.52 139.77,267.47 135.77,264.49" fill="#2488e9" stroke="#2488e9" stroke-width="0.6"/><polygon points="135.77,264.49 139.77,267.47 143.34,267.11 139.34,264.13" fill="#2882eb" stroke="#2882eb" stroke-width="0.6"/><polygon points="139.34,264.13 143.34,267.11 146.92,266.4 142.92,263.42" fill="#2a7fec" stroke="#2a7fec" stroke-width="0.6"/><polygon points="142.92,263.42 146.92,266.4 150.49,265.29 146.49,262.31" fill="#2c7ded" stroke="#2c7ded" stroke-width="0.6"/><polygon points="79,258.9 83,261.88 86.57,261.31 82.57,258.33" fill="#e1bd2f" stroke="#e1bd2f" stroke-width="0.6"/><polygon points="82.57,258.33 86.57,261.31 90.15,261.08 86.15,258.1" fill="#dbbe2e" stroke="#dbbe2e" stroke-width="0.6"/><polygon points="86.15,258.1 90.15,261.08 93.72,261.14 89.72,258.17" fill="#d1c02c" stroke="#d1c02c" stroke-width="0.6"/><polygon points="89.72,258.17 93.72,261.14 97.3,261.47 93.3,258.49" fill="#c1c42a" stroke="#c1c42a" stroke-width="0.6"/><polygon points="93.3,258.49 97.3,261.47 100.87,262 96.87,259.02" fill="#a8c738" stroke="#a8c738" stroke-width="0.6"/><polygon points="96.87,259.02 100.87,262 104.44,262.72 100.45,259.74" fill="#8cca49" stroke="#8cca49" stroke-width="0.6"/><polygon points="100.45,259.74 104.44,262.72 108.02,263.56 104.02,260.58" fill="#6fcb5d" stroke="#6fcb5d" stroke-width="0.6"/><polygon points="104.02,260.58 108.02,263.56 111.59,264.5 107.59,261.52" fill="#54c975" stroke="#54c975" stroke-width="0.6"/><polygon points="107.59,261.52 111.59,264.5 115.17,265.49 111.17,262.51" fill="#38c78d" stroke="#38c78d" stroke-width="0.6"/><polygon points="111.17,262.51 115.17,265.49 118.74,266.5 114.74,263.52" fill="#29c1a1" stroke="#29c1a1" stroke-width="0.6"/><polygon points="114.74,263.52 118.74,266.5 122.32,267.47 118.32,264.49" fill="#1abab4" stroke="#1abab4" stroke-width="0.6"/><polygon points="118.32,264.49 122.32,267.47 125.89,268.38 121.89,265.4" fill="#0bb3c9" stroke="#0bb3c9" stroke-width="0.6"/><polygon points="121.89,265.4 125.89,268.38 129.47,269.18 125.47,266.2" fill="#10a9d2" stroke="#10a9d2" stroke-width="0.6"/><polygon points="125.47,266.2 129.47,269.18 133.04,269.82 129.04,266.84" fill="#179edb" stroke="#179edb" stroke-width="0.6"/><polygon points="129.04,266.84 133.04,269.82 136.62,270.28 132.62,267.3" fill="#1c94e3" stroke="#1c94e3" stroke-width="0.6"/><polygon points="132.62,267.3 136.62,270.28 140.19,270.5 136.19,267.52" fill="#228ce7" stroke="#228ce7" stroke-width="0.6"/><polygon points="136.19,267.52 140.19,270.5 143.77,270.45 139.77,267.47" fill="#2686ea" stroke="#2686ea" stroke-width="0.6"/><polygon points="139.77,267.47 143.77,270.45 147.34,270.09 143.34,267.11" fill="#2980ec" stroke="#2980ec" stroke-width="0.6"/><polygon points="143.34,267.11 147.34,270.09 150.92,269.38 146.92,266.4" fill="#2c7ded" stroke="#2c7ded" stroke-width="0.6"/><polygon points="146.92,266.4 150.92,269.38 154.49,268.27 150.49,265.29" fill="#2d7aee" stroke="#2d7aee" stroke-width="0.6"/><polygon points="83,261.88 87,264.85 90.57,264.29 86.57,261.31" fill="#debe2e" stroke="#debe2e" stroke-width="0.6"/><polygon points="86.57,261.31 90.57,264.29 94.15,264.06 90.15,261.08" fill="#d8bf2d" stroke="#d8bf2d" stroke-width="0.6"/><polygon points="90.15,261.08 94.15,264.06 97.72,264.12 93.72,261.14" fill="#ccc12c" stroke="#ccc12c" stroke-width="0.6"/><polygon points="93.72,261.14 97.72,264.12 101.29,264.45 97.3,261.47" fill="#bbc52d" stroke="#bbc52d" stroke-width="0.6"/><polygon points="97.3,261.47 101.29,264.45 104.87,264.98 100.87,262" fill="#a2c73c" stroke="#a2c73c" stroke-width="0.6"/><polygon points="100.87,262 104.87,264.98 108.44,265.7 104.44,262.72" fill="#86ca4d" stroke="#86ca4d" stroke-width="0.6"/><polygon points="104.44,262.72 108.44,265.7 112.02,266.54 108.02,263.56" fill="#6acb62" stroke="#6acb62" stroke-width="0.6"/><polygon points="108.02,263.56 112.02,266.54 115.59,267.48 111.59,264.5" fill="#4ec97a" stroke="#4ec97a" stroke-width="0.6"/><polygon points="111.59,264.5 115.59,267.48 119.17,268.47 115.17,265.49" fill="#34c692" stroke="#34c692" stroke-width="0.6"/><polygon points="115.17,265.49 119.17,268.47 122.74,269.48 118.74,266.5" fill="#26c0a4" stroke="#26c0a4" stroke-width="0.6"/><polygon points="118.74,266.5 122.74,269.48 126.32,270.45 122.32,267.47" fill="#17b9b8" stroke="#17b9b8" stroke-width="0.6"/><polygon points="122.32,267.47 126.32,270.45 129.89,271.36 125.89,268.38" fill="#0bb1cb" stroke="#0bb1cb" stroke-width="0.6"/><polygon points="125.89,268.38 129.89,271.36 133.47,272.15 129.47,269.18" fill="#12a6d4" stroke="#12a6d4" stroke-width="0.6"/><polygon points="129.47,269.18 133.47,272.15 137.04,272.8 133.04,269.82" fill="#189cdd" stroke="#189cdd" stroke-width="0.6"/><polygon points="133.04,269.82 137.04,272.8 140.62,273.26 136.62,270.28" fill="#1e92e4" stroke="#1e92e4" stroke-width="0.6"/><polygon points="136.62,270.28 140.62,273.26 144.19,273.48 140.19,270.5" fill="#238ae8" stroke="#238ae8" stroke-width="0.6"/><polygon points="140.19,270.5 144.19,273.48 147.77,273.43 143.77,270.45" fill="#2784eb" stroke="#2784eb" stroke-width="0.6"/><polygon points="143.77,270.45 147.77,273.43 151.34,273.07 147.34,270.09" fill="#2b7eed" stroke="#2b7eed" stroke-width="0.6"/><polygon points="147.34,270.09 151.34,273.07 154.92,272.35 150.92,269.38" fill="#2d7bee" stroke="#2d7bee" stroke-width="0.6"/><polygon points="150.92,269.38 154.92,272.35 158.49,271.24 154.49,268.27" fill="#2f78ef" stroke="#2f78ef" stroke-width="0.6"/><polygon points="87,264.85 91,267.83 94.57,267.27 90.57,264.29" fill="#dbbe2e" stroke="#dbbe2e" stroke-width="0.6"/><polygon points="90.57,264.29 94.57,267.27 98.14,267.04 94.15,264.06" fill="#d5c02d" stroke="#d5c02d" stroke-width="0.6"/><polygon points="94.15,264.06 98.14,267.04 101.72,267.1 97.72,264.12" fill="#c7c22b" stroke="#c7c22b" stroke-width="0.6"/><polygon points="97.72,264.12 101.72,267.1 105.29,267.42 101.29,264.45" fill="#b4c531" stroke="#b4c531" stroke-width="0.6"/><polygon points="101.29,264.45 105.29,267.42 108.87,267.96 104.87,264.98" fill="#9bc840" stroke="#9bc840" stroke-width="0.6"/><polygon points="104.87,264.98 108.87,267.96 112.44,268.67 108.44,265.7" fill="#7fcb51" stroke="#7fcb51" stroke-width="0.6"/><polygon points="108.44,265.7 112.44,268.67 116.02,269.52 112.02,266.54" fill="#64ca67" stroke="#64ca67" stroke-width="0.6"/><polygon points="112.02,266.54 116.02,269.52 119.59,270.46 115.59,267.48" fill="#49c87f" stroke="#49c87f" stroke-width="0.6"/><polygon points="115.59,267.48 119.59,270.46 123.17,271.45 119.17,268.47" fill="#31c595" stroke="#31c595" stroke-width="0.6"/><polygon points="119.17,268.47 123.17,271.45 126.74,272.46 122.74,269.48" fill="#23bea8" stroke="#23bea8" stroke-width="0.6"/><polygon points="122.74,269.48 126.74,272.46 130.32,273.43 126.32,270.45" fill="#14b8bd" stroke="#14b8bd" stroke-width="0.6"/><polygon points="126.32,270.45 130.32,273.43 133.89,274.34 129.89,271.36" fill="#0cafcd" stroke="#0cafcd" stroke-width="0.6"/><polygon points="129.89,271.36 133.89,274.34 137.47,275.13 133.47,272.15" fill="#13a4d6" stroke="#13a4d6" stroke-width="0.6"/><polygon points="133.47,272.15 137.47,275.13 141.04,275.78 137.04,272.8" fill="#1999df" stroke="#1999df" stroke-width="0.6"/><polygon points="137.04,272.8 141.04,275.78 144.62,276.24 140.62,273.26" fill="#1f90e6" stroke="#1f90e6" stroke-width="0.6"/><polygon points="140.62,273.26 144.62,276.24 148.19,276.46 144.19,273.48" fill="#2488e9" stroke="#2488e9" stroke-width="0.6"/><polygon points="144.19,273.48 148.19,276.46 151.77,276.41 147.77,273.43" fill="#2981eb" stroke="#2981eb" stroke-width="0.6"/><polygon points="147.77,273.43 151.77,276.41 155.34,276.05 151.34,273.07" fill="#2c7ced" stroke="#2c7ced" stroke-width="0.6"/><polygon points="151.34,273.07 155.34,276.05 158.92,275.33 154.92,272.35" fill="#2e78ef" stroke="#2e78ef" stroke-width="0.6"/><polygon points="154.92,272.35 158.92,275.33 162.49,274.22 158.49,271.24" fill="#3076f0" stroke="#3076f0" stroke-width="0.6"/><polygon points="91,267.83 95,270.81 98.57,270.25 94.57,267.27" fill="#d9bf2e" stroke="#d9bf2e" stroke-width="0.6"/><polygon points="94.57,267.27 98.57,270.25 102.14,270.02 98.14,267.04" fill="#d0c12c" stroke="#d0c12c" stroke-width="0.6"/><polygon points="98.14,267.04 102.14,270.02 105.72,270.08 101.72,267.1" fill="#c3c32a" stroke="#c3c32a" stroke-width="0.6"/><polygon points="101.72,267.1 105.72,270.08 109.29,270.4 105.29,267.42" fill="#aec635" stroke="#aec635" stroke-width="0.6"/><polygon points="105.29,267.42 109.29,270.4 112.87,270.94 108.87,267.96" fill="#94c944" stroke="#94c944" stroke-width="0.6"/><polygon points="108.87,267.96 112.87,270.94 116.44,271.65 112.44,268.67" fill="#78cc55" stroke="#78cc55" stroke-width="0.6"/><polygon points="112.44,268.67 116.44,271.65 120.02,272.5 116.02,269.52" fill="#5eca6c" stroke="#5eca6c" stroke-width="0.6"/><polygon points="116.02,269.52 120.02,272.5 123.59,273.44 119.59,270.46" fill="#43c884" stroke="#43c884" stroke-width="0.6"/><polygon points="119.59,270.46 123.59,273.44 127.17,274.43 123.17,271.45" fill="#2ec499" stroke="#2ec499" stroke-width="0.6"/><polygon points="123.17,271.45 127.17,274.43 130.74,275.43 126.74,272.46" fill="#20bdac" stroke="#20bdac" stroke-width="0.6"/><polygon points="126.74,272.46 130.74,275.43 134.32,276.41 130.32,273.43" fill="#11b6c1" stroke="#11b6c1" stroke-width="0.6"/><polygon points="130.32,273.43 134.32,276.41 137.89,277.32 133.89,274.34" fill="#0eadcf" stroke="#0eadcf" stroke-width="0.6"/><polygon points="133.89,274.34 137.89,277.32 141.47,278.11 137.47,275.13" fill="#15a1d8" stroke="#15a1d8" stroke-width="0.6"/><polygon points="137.47,275.13 141.47,278.11 145.04,278.76 141.04,275.78" fill="#1b97e1" stroke="#1b97e1" stroke-width="0.6"/><polygon points="141.04,275.78 145.04,278.76 148.62,279.21 144.62,276.24" fill="#218de7" stroke="#218de7" stroke-width="0.6"/><polygon points="144.62,276.24 148.62,279.21 152.19,279.44 148.19,276.46" fill="#2686ea" stroke="#2686ea" stroke-width="0.6"/><polygon points="148.19,276.46 152.19,279.44 155.77,279.39 151.77,276.41" fill="#2a7fec" stroke="#2a7fec" stroke-width="0.6"/><polygon points="151.77,276.41 155.77,279.39 159.34,279.03 155.34,276.05" fill="#2d7aee" stroke="#2d7aee" stroke-width="0.6"/><polygon points="155.34,276.05 159.34,279.03 162.92,278.31 158.92,275.33" fill="#3076f0" stroke="#3076f0" stroke-width="0.6"/><polygon points="158.92,275.33 162.92,278.31 166.49,277.2 162.49,274.22" fill="#3174f0" stroke="#3174f0" stroke-width="0.6"/></g>
<g stroke-linejoin="round"><polygon points="39,228.79 43,231.61 46.57,230.64 42.57,227.82" fill="#f8bc30" stroke="#f8bc30" stroke-width="0.6"/><polygon points="42.57,227.82 46.57,230.64 50.15,229.88 46.15,227.07" fill="#f8ba31" stroke="#f8ba31" stroke-width="0.6"/><polygon points="46.15,227.07 50.15,229.88 53.72,229.33 49.72,226.51" fill="#f7b832" stroke="#f7b832" stroke-width="0.6"/><polygon points="49.72,226.51 53.72,229.33 57.3,228.94 53.3,226.12" fill="#f2b931" stroke="#f2b931" stroke-width="0.6"/><polygon points="53.3,226.12 57.3,228.94 60.87,228.7 56.87,225.88" fill="#ecbb30" stroke="#ecbb30" stroke-width="0.6"/><polygon points="56.87,225.88 60.87,228.7 64.45,228.56 60.45,225.74" fill="#e6bc2f" stroke="#e6bc2f" stroke-width="0.6"/><polygon points="60.45,225.74 64.45,228.56 68.02,228.52 64.02,225.7" fill="#debe2e" stroke="#debe2e" stroke-width="0.6"/><polygon points="64.02,225.7 68.02,228.52 71.6,228.54 67.6,225.72" fill="#d6bf2d" stroke="#d6bf2d" stroke-width="0.6"/><polygon points="67.6,225.72 71.6,228.54 75.17,228.59 71.17,225.77" fill="#c8c22b" stroke="#c8c22b" stroke-width="0.6"/><polygon points="71.17,225.77 75.17,228.59 78.75,228.65 74.75,225.83" fill="#b6c530" stroke="#b6c530" stroke-width="0.6"/><polygon points="74.75,225.83 78.75,228.65 82.32,228.68 78.32,225.86" fill="#a2c73c" stroke="#a2c73c" stroke-width="0.6"/><polygon points="78.32,225.86 82.32,228.68 85.9,228.67 81.9,225.85" fill="#8fc947" stroke="#8fc947" stroke-width="0.6"/><polygon points="81.9,225.85 85.9,228.67 89.47,228.58 85.47,225.76" fill="#7ccc53" stroke="#7ccc53" stroke-width="0.6"/><polygon points="85.47,225.76 89.47,228.58 93.05,228.39 89.05,225.58" fill="#6dcb5f" stroke="#6dcb5f" stroke-width="0.6"/><polygon points="89.05,225.58 93.05,228.39 96.62,228.08 92.62,225.26" fill="#5fca6b" stroke="#5fca6b" stroke-width="0.6"/><polygon points="92.62,225.26 96.62,228.08 100.2,227.6 96.2,224.78" fill="#53c976" stroke="#53c976" stroke-width="0.6"/><polygon points="96.2,224.78 100.2,227.6 103.77,226.95 99.77,224.13" fill="#49c87e" stroke="#49c87e" stroke-width="0.6"/><polygon points="99.77,224.13 103.77,226.95 107.35,226.08 103.35,223.26" fill="#41c885" stroke="#41c885" stroke-width="0.6"/><polygon points="103.35,223.26 107.35,226.08 110.92,224.97 106.92,222.15" fill="#3cc789" stroke="#3cc789" stroke-width="0.6"/><polygon points="106.92,222.15 110.92,224.97 114.5,223.6 110.5,220.79" fill="#3ac78b" stroke="#3ac78b" stroke-width="0.6"/><polygon points="43,231.61 47,234.43 50.57,233.46 46.57,230.64" fill="#f8bb31" stroke="#f8bb31" stroke-width="0.6"/><polygon points="46.57,230.64 50.57,233.46 54.15,232.7 50.15,229.88" fill="#f8b932" stroke="#f8b932" stroke-width="0.6"/><polygon points="50.15,229.88 54.15,232.7 57.72,232.15 53.72,229.33" fill="#f6b932" stroke="#f6b932" stroke-width="0.6"/><polygon points="53.72,229.33 57.72,232.15 61.3,231.76 57.3,228.94" fill="#f0ba31" stroke="#f0ba31" stroke-width="0.6"/><polygon points="57.3,228.94 61.3,231.76 64.87,231.51 60.87,228.7" fill="#eabb30" stroke="#eabb30" stroke-width="0.6"/><polygon points="60.87,228.7 64.87,231.51 68.45,231.38 64.45,228.56" fill="#e4bc2f" stroke="#e4bc2f" stroke-width="0.6"/><polygon points="64.45,228.56 68.45,231.38 72.02,231.34 68.02,228.52" fill="#dcbe2e" stroke="#dcbe2e" stroke-width="0.6"/><polygon points="68.02,228.52 72.02,231.34 75.6,231.36 71.6,228.54" fill="#d3c02d" stroke="#d3c02d" stroke-width="0.6"/><polygon points="71.6,228.54 75.6,231.36 79.17,231.41 75.17,228.59" fill="#c4c32b" stroke="#c4c32b" stroke-width="0.6"/><polygon points="75.17,228.59 79.17,231.41 82.75,231.46 78.75,228.65" fill="#b2c632" stroke="#b2c632" stroke-width="0.6"/><polygon points="78.75,228.65 82.75,231.46 86.32,231.5 82.32,228.68" fill="#9ec83e" stroke="#9ec83e" stroke-width="0.6"/><polygon points="82.32,228.68 86.32,231.5 89.9,231.49 85.9,228.67" fill="#8aca4a" stroke="#8aca4a" stroke-width="0.6"/><polygon points="85.9,228.67 89.9,231.49 93.47,231.4 89.47,228.58" fill="#78cc55" stroke="#78cc55" stroke-width="0.6"/><polygon points="89.47,228.58 93.47,231.4 97.05,231.21 93.05,228.39" fill="#69cb62" stroke="#69cb62" stroke-width="0.6"/><polygon points="93.05,228.39 97.05,231.21 100.62,230.9 96.62,228.08" fill="#5bca6e" stroke="#5bca6e" stroke-width="0.6"/><polygon points="96.62,228.08 100.62,230.9 104.2,230.42 100.2,227.6" fill="#4fc979" stroke="#4fc979" stroke-width="0.6"/><polygon points="100.2,227.6 104.2,230.42 107.77,229.77 103.77,226.95" fill="#45c882" stroke="#45c882" stroke-width="0.6"/><polygon points="103.77,226.95 107.77,229.77 111.35,228.9 107.35,226.08" fill="#3ec888" stroke="#3ec888" stroke-width="0.6"/><polygon points="107.35,226.08 111.35,228.9 114.92,227.79 110.92,224.97" fill="#39c78d" stroke="#39c78d" stroke-width="0.6"/><polygon points="110.92,224.97 114.92,227.79 118.5,226.42 114.5,223.6" fill="#37c78e" stroke="#37c78e" stroke-width="0.6"/><polygon points="47,234.43 51,237.25 54.57,236.28 50.57,233.46" fill="#f8ba31" stroke="#f8ba31" stroke-width="0.6"/><polygon points="50.57,233.46 54.57,236.28 58.15,235.52 54.15,232.7" fill="#f8b832" stroke="#f8b832" stroke-width="0.6"/><polygon points="54.15,232.7 58.15,235.52 61.72,234.97 57.72,232.15" fill="#f4b931" stroke="#f4b931" stroke-width="0.6"/><polygon points="57.72,232.15 61.72,234.97 65.3,234.58 61.3,231.76" fill="#efba31" stroke="#efba31" stroke-width="0.6"/><polygon points="61.3,231.76 65.3,234.58 68.87,234.33 64.87,231.51" fill="#e9bb30" stroke="#e9bb30" stroke-width="0.6"/><polygon points="64.87,231.51 68.87,234.33 72.45,234.2 68.45,231.38" fill="#e2bd2f" stroke="#e2bd2f" stroke-width="0.6"/><polygon points="68.45,231.38 72.45,234.2 76.02,234.16 72.02,231.34" fill="#dbbe2e" stroke="#dbbe2e" stroke-width="0.6"/><polygon points="72.02,231.34 76.02,234.16 79.6,234.18 75.6,231.36" fill="#d0c12c" stroke="#d0c12c" stroke-width="0.6"/><polygon points="75.6,231.36 79.6,234.18 83.17,234.23 79.17,231.41" fill="#c1c42a" stroke="#c1c42a" stroke-width="0.6"/><polygon points="79.17,231.41 83.17,234.23 86.75,234.28 82.75,231.46" fill="#adc635" stroke="#adc635" stroke-width="0.6"/><polygon points="82.75,231.46 86.75,234.28 90.32,234.32 86.32,231.5" fill="#9ac841" stroke="#9ac841" stroke-width="0.6"/><polygon points="86.32,231.5 90.32,234.32 93.9,234.31 89.9,231.49" fill="#86ca4d" stroke="#86ca4d" stroke-width="0.6"/><polygon points="89.9,231.49 93.9,234.31 97.47,234.22 93.47,231.4" fill="#74cc59" stroke="#74cc59" stroke-width="0.6"/><polygon points="93.47,231.4 97.47,234.22 101.05,234.03 97.05,231.21" fill="#65cb66" stroke="#65cb66" stroke-width="0.6"/><polygon points="97.05,231.21 101.05,234.03 104.62,233.72 100.62,230.9" fill="#57ca72" stroke="#57ca72" stroke-width="0.6"/><polygon points="100.62,230.9 104.62,233.72 108.2,233.24 104.2,230.42" fill="#4bc97c" stroke="#4bc97c" stroke-width="0.6"/><polygon points="104.2,230.42 108.2,233.24 111.77,232.58 107.77,229.77" fill="#41c885" stroke="#41c885" stroke-width="0.6"/><polygon points="107.77,229.77 111.77,232.58 115.35,231.72 111.35,228.9" fill="#3ac78c" stroke="#3ac78c" stroke-width="0.6"/><polygon points="111.35,228.9 115.35,231.72 118.92,230.61 114.92,227.79" fill="#35c790" stroke="#35c790" stroke-width="0.6"/><polygon points="114.92,227.79 118.92,230.61 122.49,229.24 118.5,226.42" fill="#34c691" stroke="#34c691" stroke-width="0.6"/><polygon points="51,237.25 55,240.07 58.57,239.09 54.57,236.28" fill="#f8b932" stroke="#f8b932" stroke-width="0.6"/><polygon points="54.57,236.28 58.57,239.09 62.15,238.34 58.15,235.52" fill="#f6b832" stroke="#f6b832" stroke-width="0.6"/><polygon points="58.15,235.52 62.15,238.34 65.72,237.79 61.72,234.97" fill="#f2b931" stroke="#f2b931" stroke-width="0.6"/><polygon points="61.72,234.97 65.72,237.79 69.3,237.4 65.3,234.58" fill="#edba30" stroke="#edba30" stroke-width="0.6"/><polygon points="65.3,234.58 69.3,237.4 72.87,237.15 68.87,234.33" fill="#e7bc30" stroke="#e7bc30" stroke-width="0.6"/><polygon points="68.87,234.33 72.87,237.15 76.45,237.02 72.45,234.2" fill="#e0bd2f" stroke="#e0bd2f" stroke-width="0.6"/><polygon points="72.45,234.2 76.45,237.02 80.02,236.98 76.02,234.16" fill="#d9bf2e" stroke="#d9bf2e" stroke-width="0.6"/><polygon points="76.02,234.16 80.02,236.98 83.6,237 79.6,234.18" fill="#ccc12c" stroke="#ccc12c" stroke-width="0.6"/><polygon points="79.6,234.18 83.6,237 87.17,237.05 83.17,234.23" fill="#bdc42c" stroke="#bdc42c" stroke-width="0.6"/><polygon points="83.17,234.23 87.17,237.05 90.75,237.1 86.75,234.28" fill="#a9c738" stroke="#a9c738" stroke-width="0.6"/><polygon points="86.75,234.28 90.75,237.1 94.32,237.14 90.32,234.32" fill="#95c944" stroke="#95c944" stroke-width="0.6"/><polygon points="90.32,234.32 94.32,237.14 97.9,237.13 93.9,234.31" fill="#82cb4f" stroke="#82cb4f" stroke-width="0.6"/><polygon points="93.9,234.31 97.9,237.13 101.47,237.04 97.47,234.22" fill="#70cb5c" stroke="#70cb5c" stroke-width="0.6"/><polygon points="97.47,234.22 101.47,237.04 105.05,236.85 101.05,234.03" fill="#61ca69" stroke="#61ca69" stroke-width="0.6"/><polygon points="101.05,234.03 105.05,236.85 108.62,236.53 104.62,233.72" fill="#53c975" stroke="#53c975" stroke-width="0.6"/><polygon points="104.62,233.72 108.62,236.53 112.2,236.06 108.2,233.24" fill="#47c880" stroke="#47c880" stroke-width="0.6"/><polygon points="108.2,233.24 112.2,236.06 115.77,235.4 111.77,232.58" fill="#3ec888" stroke="#3ec888" stroke-width="0.6"/><polygon points="111.77,232.58 115.77,235.4 119.34,234.54 115.35,231.72" fill="#36c78f" stroke="#36c78f" stroke-width="0.6"/><polygon points="115.35,231.72 119.34,234.54 122.92,233.43 118.92,230.61" fill="#34c692" stroke="#34c692" stroke-width="0.6"/><polygon points="118.92,230.61 122.92,233.43 126.49,232.06 122.49,229.24" fill="#33c594" stroke="#33c594" stroke-width="0.6"/><polygon points="55,240.07 59,242.89 62.57,241.91 58.57,239.09" fill="#f7b832" stroke="#f7b832" stroke-width="0.6"/><polygon points="58.57,239.09 62.57,241.91 66.15,241.16 62.15,238.34" fill="#f4b931" stroke="#f4b931" stroke-width="0.6"/><polygon points="62.15,238.34 66.15,241.16 69.72,240.61 65.72,237.79" fill="#f0ba31" stroke="#f0ba31" stroke-width="0.6"/><polygon points="65.72,237.79 69.72,240.61 73.3,240.22 69.3,237.4" fill="#ebbb30" stroke="#ebbb30" stroke-width="0.6"/><polygon points="69.3,237.4 73.3,240.22 76.87,239.97 72.87,237.15" fill="#e5bc2f" stroke="#e5bc2f" stroke-width="0.6"/><polygon points="72.87,237.15 76.87,239.97 80.45,239.84 76.45,237.02" fill="#debd2e" stroke="#debd2e" stroke-width="0.6"/><polygon points="76.45,237.02 80.45,239.84 84.02,239.8 80.02,236.98" fill="#d7bf2d" stroke="#d7bf2d" stroke-width="0.6"/><polygon points="80.02,236.98 84.02,239.8 87.6,239.81 83.6,237" fill="#c9c22b" stroke="#c9c22b" stroke-width="0.6"/><polygon points="83.6,237 87.6,239.81 91.17,239.87 87.17,237.05" fill="#b9c52e" stroke="#b9c52e" stroke-width="0.6"/><polygon points="87.17,237.05 91.17,239.87 94.75,239.92 90.75,237.1" fill="#a5c73a" stroke="#a5c73a" stroke-width="0.6"/><polygon points="90.75,237.1 94.75,239.92 98.32,239.96 94.32,237.14" fill="#91c946" stroke="#91c946" stroke-width="0.6"/><polygon points="94.32,237.14 98.32,239.96 101.9,239.95 97.9,237.13" fill="#7dcb52" stroke="#7dcb52" stroke-width="0.6"/><polygon points="97.9,237.13 101.9,239.95 105.47,239.86 101.47,237.04" fill="#6ccb5f" stroke="#6ccb5f" stroke-width="0.6"/><polygon points="101.47,237.04 105.47,239.86 109.05,239.67 105.05,236.85" fill="#5dca6c" stroke="#5dca6c" stroke-width="0.6"/><polygon points="105.05,236.85 109.05,239.67 112.62,239.35 108.62,236.53" fill="#50c978" stroke="#50c978" stroke-width="0.6"/><polygon points="108.62,236.53 112.62,239.35 116.2,238.88 112.2,236.06" fill="#44c883" stroke="#44c883" stroke-width="0.6"/><polygon points="112.2,236.06 116.2,238.88 119.77,238.22 115.77,235.4" fill="#3ac78c" stroke="#3ac78c" stroke-width="0.6"/><polygon points="115.77,235.4 119.77,238.22 123.34,237.36 119.34,234.54" fill="#34c692" stroke="#34c692" stroke-width="0.6"/><polygon points="119.34,234.54 123.34,237.36 126.92,236.25 122.92,233.43" fill="#32c595" stroke="#32c595" stroke-width="0.6"/><polygon points="122.92,233.43 126.92,236.25 130.49,234.88 126.49,232.06" fill="#31c596" stroke="#31c596" stroke-width="0.6"/><polygon points="59,242.89 63,245.71 66.57,244.73 62.57,241.91" fill="#f6b932" stroke="#f6b932" stroke-width="0.6"/><polygon points="62.57,241.91 66.57,244.73 70.15,243.98 66.15,241.16" fill="#f3b931" stroke="#f3b931" stroke-width="0.6"/><polygon points="66.15,241.16 70.15,243.98 73.72,243.42 69.72,240.61" fill="#efba31" stroke="#efba31" stroke-width="0.6"/><polygon points="69.72,240.61 73.72,243.42 77.3,243.04 73.3,240.22" fill="#e9bb30" stroke="#e9bb30" stroke-width="0.6"/><polygon points="73.3,240.22 77.3,243.04 80.87,242.79 76.87,239.97" fill="#e3bc2f" stroke="#e3bc2f" stroke-width="0.6"/><polygon points="76.87,239.97 80.87,242.79 84.45,242.66 80.45,239.84" fill="#ddbe2e" stroke="#ddbe2e" stroke-width="0.6"/><polygon points="80.45,239.84 84.45,242.66 88.02,242.62 84.02,239.8" fill="#d4c02d" stroke="#d4c02d" stroke-width="0.6"/><polygon points="84.02,239.8 88.02,242.62 91.6,242.63 87.6,239.81" fill="#c6c32b" stroke="#c6c32b" stroke-width="0.6"/><polygon points="87.6,239.81 91.6,242.63 95.17,242.68 91.17,239.87" fill="#b4c531" stroke="#b4c531" stroke-width="0.6"/><polygon points="91.17,239.87 95.17,242.68 98.75,242.74 94.75,239.92" fill="#a0c83d" stroke="#a0c83d" stroke-width="0.6"/><polygon points="94.75,239.92 98.75,242.74 102.32,242.78 98.32,239.96" fill="#8cca49" stroke="#8cca49" stroke-width="0.6"/><polygon points="98.32,239.96 102.32,242.78 105.9,242.77 101.9,239.95" fill="#79cc55" stroke="#79cc55" stroke-width="0.6"/><polygon points="101.9,239.95 105.9,242.77 109.47,242.68 105.47,239.86" fill="#69cb63" stroke="#69cb63" stroke-width="0.6"/><polygon points="105.47,239.86 109.47,242.68 113.05,242.49 109.05,239.67" fill="#5aca70" stroke="#5aca70" stroke-width="0.6"/><polygon points="109.05,239.67 113.05,242.49 116.62,242.17 112.62,239.35" fill="#4cc97c" stroke="#4cc97c" stroke-width="0.6"/><polygon points="112.62,239.35 116.62,242.17 120.19,241.7 116.2,238.88" fill="#40c886" stroke="#40c886" stroke-width="0.6"/><polygon points="116.2,238.88 120.19,241.7 123.77,241.04 119.77,238.22" fill="#36c78f" stroke="#36c78f" stroke-width="0.6"/><polygon points="119.77,238.22 123.77,241.04 127.34,240.17 123.34,237.36" fill="#32c594" stroke="#32c594" stroke-width="0.6"/><polygon points="123.34,237.36 127.34,240.17 130.92,239.07 126.92,236.25" fill="#30c497" stroke="#30c497" stroke-width="0.6"/><polygon points="126.92,236.25 130.92,239.07 134.49,237.7 130.49,234.88" fill="#2fc499" stroke="#2fc499" stroke-width="0.6"/><polygon points="63,245.71 67,248.53 70.57,247.55 66.57,244.73" fill="#f4b931" stroke="#f4b931" stroke-width="0.6"/><polygon points="66.57,244.73 70.57,247.55 74.15,246.8 70.15,243.98" fill="#f1ba31" stroke="#f1ba31" stroke-width="0.6"/><polygon points="70.15,243.98 74.15,246.8 77.72,246.24 73.72,243.42" fill="#edba30" stroke="#edba30" stroke-width="0.6"/><polygon points="73.72,243.42 77.72,246.24 81.3,245.86 77.3,243.04" fill="#e8bc30" stroke="#e8bc30" stroke-width="0.6"/><polygon points="77.3,243.04 81.3,245.86 84.87,245.61 80.87,242.79" fill="#e2bd2f" stroke="#e2bd2f" stroke-width="0.6"/><polygon points="80.87,242.79 84.87,245.61 88.45,245.48 84.45,242.66" fill="#dbbe2e" stroke="#dbbe2e" stroke-width="0.6"/><polygon points="84.45,242.66 88.45,245.48 92.02,245.44 88.02,242.62" fill="#d1c02c" stroke="#d1c02c" stroke-width="0.6"/><polygon points="88.02,242.62 92.02,245.44 95.6,245.45 91.6,242.63" fill="#c3c32a" stroke="#c3c32a" stroke-width="0.6"/><polygon points="91.6,242.63 95.6,245.45 99.17,245.5 95.17,242.68" fill="#b0c634" stroke="#b0c634" stroke-width="0.6"/><polygon points="95.17,242.68 99.17,245.5 102.75,245.56 98.75,242.74" fill="#9cc840" stroke="#9cc840" stroke-width="0.6"/><polygon points="98.75,242.74 102.75,245.56 106.32,245.6 102.32,242.78" fill="#88ca4c" stroke="#88ca4c" stroke-width="0.6"/><polygon points="102.32,242.78 106.32,245.6 109.9,245.59 105.9,242.77" fill="#75cc58" stroke="#75cc58" stroke-width="0.6"/><polygon points="105.9,242.77 109.9,245.59 113.47,245.5 109.47,242.68" fill="#65cb66" stroke="#65cb66" stroke-width="0.6"/><polygon points="109.47,242.68 113.47,245.5 117.04,245.31 113.05,242.49" fill="#56c973" stroke="#56c973" stroke-width="0.6"/><polygon points="113.05,242.49 117.04,245.31 120.62,244.99 116.62,242.17" fill="#48c87f" stroke="#48c87f" stroke-width="0.6"/><polygon points="116.62,242.17 120.62,244.99 124.19,244.52 120.19,241.7" fill="#3cc78a" stroke="#3cc78a" stroke-width="0.6"/><polygon points="120.19,241.7 124.19,244.52 127.77,243.86 123.77,241.04" fill="#34c692" stroke="#34c692" stroke-width="0.6"/><polygon points="123.77,241.04 127.77,243.86 131.34,242.99 127.34,240.17" fill="#30c497" stroke="#30c497" stroke-width="0.6"/><polygon points="127.34,240.17 131.34,242.99 134.92,241.89 130.92,239.07" fill="#2ec39a" stroke="#2ec39a" stroke-width="0.6"/><polygon points="130.92,239.07 134.92,241.89 138.49,240.52 134.49,237.7" fill="#2dc39b" stroke="#2dc39b" stroke-width="0.6"/><polygon points="67,248.53 71,251.35 74.57,250.37 70.57,247.55" fill="#f2b931" stroke="#f2b931" stroke-width="0.6"/><polygon points="70.57,247.55 74.57,250.37 78.15,249.62 74.15,246.8" fill="#efba31" stroke="#efba31" stroke-width="0.6"/><polygon points="74.15,246.8 78.15,249.62 81.72,249.06 77.72,246.24" fill="#ebbb30" stroke="#ebbb30" stroke-width="0.6"/><polygon points="77.72,246.24 81.72,249.06 85.3,248.68 81.3,245.86" fill="#e6bc2f" stroke="#e6bc2f" stroke-width="0.6"/><polygon points="81.3,245.86 85.3,248.68 88.87,248.43 84.87,245.61" fill="#e0bd2f" stroke="#e0bd2f" stroke-width="0.6"/><polygon points="84.87,245.61 88.87,248.43 92.45,248.3 88.45,245.48" fill="#d9bf2e" stroke="#d9bf2e" stroke-width="0.6"/><polygon points="88.45,245.48 92.45,248.3 96.02,248.26 92.02,245.44" fill="#cec12c" stroke="#cec12c" stroke-width="0.6"/><polygon points="92.02,245.44 96.02,248.26 99.6,248.27 95.6,245.45" fill="#bfc42a" stroke="#bfc42a" stroke-width="0.6"/><polygon points="95.6,245.45 99.6,248.27 103.17,248.32 99.17,245.5" fill="#acc636" stroke="#acc636" stroke-width="0.6"/><polygon points="99.17,245.5 103.17,248.32 106.75,248.38 102.75,245.56" fill="#97c942" stroke="#97c942" stroke-width="0.6"/><polygon points="102.75,245.56 106.75,248.38 110.32,248.42 106.32,245.6" fill="#83cb4e" stroke="#83cb4e" stroke-width="0.6"/><polygon points="106.32,245.6 110.32,248.42 113.89,248.4 109.9,245.59" fill="#71cb5b" stroke="#71cb5b" stroke-width="0.6"/><polygon points="109.9,245.59 113.89,248.4 117.47,248.32 113.47,245.5" fill="#61ca69" stroke="#61ca69" stroke-width="0.6"/><polygon points="113.47,245.5 117.47,248.32 121.04,248.13 117.04,245.31" fill="#52c976" stroke="#52c976" stroke-width="0.6"/><polygon points="117.04,245.31 121.04,248.13 124.62,247.81 120.62,244.99" fill="#44c882" stroke="#44c882" stroke-width="0.6"/><polygon points="120.62,244.99 124.62,247.81 128.19,247.34 124.19,244.52" fill="#38c78d" stroke="#38c78d" stroke-width="0.6"/><polygon points="124.19,244.52 128.19,247.34 131.77,246.68 127.77,243.86" fill="#32c594" stroke="#32c594" stroke-width="0.6"/><polygon points="127.77,243.86 131.77,246.68 135.34,245.81 131.34,242.99" fill="#2ec499" stroke="#2ec499" stroke-width="0.6"/><polygon points="131.34,242.99 135.34,245.81 138.92,244.71 134.92,241.89" fill="#2cc29c" stroke="#2cc29c" stroke-width="0.6"/><polygon points="134.92,241.89 138.92,244.71 142.49,243.34 138.49,240.52" fill="#2bc29e" stroke="#2bc29e" stroke-width="0.6"/><polygon points="71,251.35 75,254.17 78.57,253.19 74.57,250.37" fill="#f0ba31" stroke="#f0ba31" stroke-width="0.6"/><polygon points="74.57,250.37 78.57,253.19 82.15,252.44 78.15,249.62" fill="#edba30" stroke="#edba30" stroke-width="0.6"/><polygon points="78.15,249.62 82.15,252.44 85.72,251.88 81.72,249.06" fill="#e9bb30" stroke="#e9bb30" stroke-width="0.6"/><polygon points="81.72,249.06 85.72,251.88 89.3,251.49 85.3,248.68" fill="#e4bc2f" stroke="#e4bc2f" stroke-width="0.6"/><polygon points="85.3,248.68 89.3,251.49 92.87,251.25 88.87,248.43" fill="#debe2e" stroke="#debe2e" stroke-width="0.6"/><polygon points="88.87,248.43 92.87,251.25 96.45,251.12 92.45,248.3" fill="#d7bf2d" stroke="#d7bf2d" stroke-width="0.6"/><polygon points="92.45,248.3 96.45,251.12 100.02,251.07 96.02,248.26" fill="#cac22b" stroke="#cac22b" stroke-width="0.6"/><polygon points="96.02,248.26 100.02,251.07 103.6,251.09 99.6,248.27" fill="#bbc52d" stroke="#bbc52d" stroke-width="0.6"/><polygon points="99.6,248.27 103.6,251.09 107.17,251.14 103.17,248.32" fill="#a7c739" stroke="#a7c739" stroke-width="0.6"/><polygon points="103.17,248.32 107.17,251.14 110.74,251.2 106.75,248.38" fill="#93c945" stroke="#93c945" stroke-width="0.6"/><polygon points="106.75,248.38 110.74,251.2 114.32,251.24 110.32,248.42" fill="#7fcb51" stroke="#7fcb51" stroke-width="0.6"/><polygon points="110.32,248.42 114.32,251.24 117.89,251.22 113.89,248.4" fill="#6dcb5e" stroke="#6dcb5e" stroke-width="0.6"/><polygon points="113.89,248.4 117.89,251.22 121.47,251.14 117.47,248.32" fill="#5dca6d" stroke="#5dca6d" stroke-width="0.6"/><polygon points="117.47,248.32 121.47,251.14 125.04,250.95 121.04,248.13" fill="#4ec97a" stroke="#4ec97a" stroke-width="0.6"/><polygon points="121.04,248.13 125.04,250.95 128.62,250.63 124.62,247.81" fill="#40c886" stroke="#40c886" stroke-width="0.6"/><polygon points="124.62,247.81 128.62,250.63 132.19,250.16 128.19,247.34" fill="#35c790" stroke="#35c790" stroke-width="0.6"/><polygon points="128.19,247.34 132.19,250.16 135.77,249.5 131.77,246.68" fill="#30c497" stroke="#30c497" stroke-width="0.6"/><polygon points="131.77,246.68 135.77,249.5 139.34,248.63 135.34,245.81" fill="#2dc39c" stroke="#2dc39c" stroke-width="0.6"/><polygon points="135.34,245.81 139.34,248.63 142.92,247.53 138.92,244.71" fill="#2ac29f" stroke="#2ac29f" stroke-width="0.6"/><polygon points="138.92,244.71 142.92,247.53 146.49,246.16 142.49,243.34" fill="#29c1a0" stroke="#29c1a0" stroke-width="0.6"/><polygon points="75,254.17 79,256.99 82.57,256.01 78.57,253.19" fill="#efba31" stroke="#efba31" stroke-width="0.6"/><polygon points="78.57,253.19 82.57,256.01 86.15,255.26 82.15,252.44" fill="#ecbb30" stroke="#ecbb30" stroke-width="0.6"/><polygon points="82.15,252.44 86.15,255.26 89.72,254.7 85.72,251.88" fill="#e7bc30" stroke="#e7bc30" stroke-width="0.6"/><polygon points="85.72,251.88 89.72,254.7 93.3,254.31 89.3,251.49" fill="#e2bd2f" stroke="#e2bd2f" stroke-width="0.6"/><polygon points="89.3,251.49 93.3,254.31 96.87,254.07 92.87,251.25" fill="#dcbe2e" stroke="#dcbe2e" stroke-width="0.6"/><polygon points="92.87,251.25 96.87,254.07 100.45,253.94 96.45,251.12" fill="#d4c02d" stroke="#d4c02d" stroke-width="0.6"/><polygon points="96.45,251.12 100.45,253.94 104.02,253.89 100.02,251.07" fill="#c7c22b" stroke="#c7c22b" stroke-width="0.6"/><polygon points="100.02,251.07 104.02,253.89 107.59,253.91 103.6,251.09" fill="#b6c530" stroke="#b6c530" stroke-width="0.6"/><polygon points="103.6,251.09 107.59,253.91 111.17,253.96 107.17,251.14" fill="#a3c73c" stroke="#a3c73c" stroke-width="0.6"/><polygon points="107.17,251.14 111.17,253.96 114.74,254.02 110.74,251.2" fill="#8fc947" stroke="#8fc947" stroke-width="0.6"/><polygon points="110.74,251.2 114.74,254.02 118.32,254.05 114.32,251.24" fill="#7bcc53" stroke="#7bcc53" stroke-width="0.6"/><polygon points="114.32,251.24 118.32,254.05 121.89,254.04 117.89,251.22" fill="#69cb62" stroke="#69cb62" stroke-width="0.6"/><polygon points="117.89,251.22 121.89,254.04 125.47,253.96 121.47,251.14" fill="#59ca70" stroke="#59ca70" stroke-width="0.6"/><polygon points="121.47,251.14 125.47,253.96 129.04,253.77 125.04,250.95" fill="#4ac97d" stroke="#4ac97d" stroke-width="0.6"/><polygon points="125.04,250.95 129.04,253.77 132.62,253.45 128.62,250.63" fill="#3dc889" stroke="#3dc889" stroke-width="0.6"/><polygon points="128.62,250.63 132.62,253.45 136.19,252.98 132.19,250.16" fill="#33c693" stroke="#33c693" stroke-width="0.6"/><polygon points="132.19,250.16 136.19,252.98 139.77,252.32 135.77,249.5" fill="#2ec499" stroke="#2ec499" stroke-width="0.6"/><polygon points="135.77,249.5 139.77,252.32 143.34,251.45 139.34,248.63" fill="#2bc29e" stroke="#2bc29e" stroke-width="0.6"/><polygon points="139.34,248.63 143.34,251.45 146.92,250.35 142.92,247.53" fill="#28c1a1" stroke="#28c1a1" stroke-width="0.6"/><polygon points="142.92,247.53 146.92,250.35 150.49,248.98 146.49,246.16" fill="#27c0a3" stroke="#27c0a3" stroke-width="0.6"/><polygon points="79,256.99 83,259.8 86.57,258.83 82.57,256.01" fill="#edba30" stroke="#edba30" stroke-width="0.6"/><polygon points="82.57,256.01 86.57,258.83 90.15,258.08 86.15,255.26" fill="#eabb30" stroke="#eabb30" stroke-width="0.6"/><polygon points="86.15,255.26 90.15,258.08 93.72,257.52 89.72,254.7" fill="#e6bc2f" stroke="#e6bc2f" stroke-width="0.6"/><polygon points="89.72,254.7 93.72,257.52 97.3,257.13 93.3,254.31" fill="#e1bd2f" stroke="#e1bd2f" stroke-width="0.6"/><polygon points="93.3,254.31 97.3,257.13 100.87,256.89 96.87,254.07" fill="#dbbe2e" stroke="#dbbe2e" stroke-width="0.6"/><polygon points="96.87,254.07 100.87,256.89 104.44,256.76 100.45,253.94" fill="#d1c02c" stroke="#d1c02c" stroke-width="0.6"/><polygon points="100.45,253.94 104.44,256.76 108.02,256.71 104.02,253.89" fill="#c4c32b" stroke="#c4c32b" stroke-width="0.6"/><polygon points="104.02,253.89 108.02,256.71 111.59,256.73 107.59,253.91" fill="#b2c632" stroke="#b2c632" stroke-width="0.6"/><polygon points="107.59,253.91 111.59,256.73 115.17,256.78 111.17,253.96" fill="#9ec83e" stroke="#9ec83e" stroke-width="0.6"/><polygon points="111.17,253.96 115.17,256.78 118.74,256.84 114.74,254.02" fill="#8aca4a" stroke="#8aca4a" stroke-width="0.6"/><polygon points="114.74,254.02 118.74,256.84 122.32,256.87 118.32,254.05" fill="#76cc56" stroke="#76cc56" stroke-width="0.6"/><polygon points="118.32,254.05 122.32,256.87 125.89,256.86 121.89,254.04" fill="#66cb65" stroke="#66cb65" stroke-width="0.6"/><polygon points="121.89,254.04 125.89,256.86 129.47,256.78 125.47,253.96" fill="#56c973" stroke="#56c973" stroke-width="0.6"/><polygon points="125.47,253.96 129.47,256.78 133.04,256.59 129.04,253.77" fill="#46c881" stroke="#46c881" stroke-width="0.6"/><polygon points="129.04,253.77 133.04,256.59 136.62,256.27 132.62,253.45" fill="#39c78d" stroke="#39c78d" stroke-width="0.6"/><polygon points="132.62,253.45 136.62,256.27 140.19,255.8 136.19,252.98" fill="#31c595" stroke="#31c595" stroke-width="0.6"/><polygon points="136.19,252.98 140.19,255.8 143.77,255.14 139.77,252.32" fill="#2dc39c" stroke="#2dc39c" stroke-width="0.6"/><polygon points="139.77,252.32 143.77,255.14 147.34,254.27 143.34,251.45" fill="#29c1a1" stroke="#29c1a1" stroke-width="0.6"/><polygon points="143.34,251.45 147.34,254.27 150.92,253.17 146.92,250.35" fill="#26c0a4" stroke="#26c0a4" stroke-width="0.6"/><polygon points="146.92,250.35 150.92,253.17 154.49,251.8 150.49,248.98" fill="#25bfa5" stroke="#25bfa5" stroke-width="0.6"/><polygon points="83,259.8 87,262.62 90.57,261.65 86.57,258.83" fill="#ebbb30" stroke="#ebbb30" stroke-width="0.6"/><polygon points="86.57,258.83 90.57,261.65 94.15,260.9 90.15,258.08" fill="#e8bb30" stroke="#e8bb30" stroke-width="0.6"/><polygon points="90.15,258.08 94.15,260.9 97.72,260.34 93.72,257.52" fill="#e4bc2f" stroke="#e4bc2f" stroke-width="0.6"/><polygon points="93.72,257.52 97.72,260.34 101.29,259.95 97.3,257.13" fill="#dfbd2e" stroke="#dfbd2e" stroke-width="0.6"/><polygon points="97.3,257.13 101.29,259.95 104.87,259.71 100.87,256.89" fill="#d9bf2e" stroke="#d9bf2e" stroke-width="0.6"/><polygon points="100.87,256.89 104.87,259.71 108.44,259.58 104.44,256.76" fill="#cec12c" stroke="#cec12c" stroke-width="0.6"/><polygon points="104.44,256.76 108.44,259.58 112.02,259.53 108.02,256.71" fill="#c1c42a" stroke="#c1c42a" stroke-width="0.6"/><polygon points="108.02,256.71 112.02,259.53 115.59,259.55 111.59,256.73" fill="#aec635" stroke="#aec635" stroke-width="0.6"/><polygon points="111.59,256.73 115.59,259.55 119.17,259.6 115.17,256.78" fill="#9ac841" stroke="#9ac841" stroke-width="0.6"/><polygon points="115.17,256.78 119.17,259.6 122.74,259.66 118.74,256.84" fill="#86ca4d" stroke="#86ca4d" stroke-width="0.6"/><polygon points="118.74,256.84 122.74,259.66 126.32,259.69 122.32,256.87" fill="#73cc5a" stroke="#73cc5a" stroke-width="0.6"/><polygon points="122.32,256.87 126.32,259.69 129.89,259.68 125.89,256.86" fill="#62ca68" stroke="#62ca68" stroke-width="0.6"/><polygon points="125.89,256.86 129.89,259.68 133.47,259.59 129.47,256.78" fill="#52c977" stroke="#52c977" stroke-width="0.6"/><polygon points="129.47,256.78 133.47,259.59 137.04,259.41 133.04,256.59" fill="#43c884" stroke="#43c884" stroke-width="0.6"/><polygon points="133.04,256.59 137.04,259.41 140.62,259.09 136.62,256.27" fill="#36c790" stroke="#36c790" stroke-width="0.6"/><polygon points="136.62,256.27 140.62,259.09 144.19,258.61 140.19,255.8" fill="#30c498" stroke="#30c498" stroke-width="0.6"/><polygon points="140.19,255.8 144.19,258.61 147.77,257.96 143.77,255.14" fill="#2bc29e" stroke="#2bc29e" stroke-width="0.6"/><polygon points="143.77,255.14 147.77,257.96 151.34,257.09 147.34,254.27" fill="#27c0a3" stroke="#27c0a3" stroke-width="0.6"/><polygon points="147.34,254.27 151.34,257.09 154.92,255.99 150.92,253.17" fill="#25bfa6" stroke="#25bfa6" stroke-width="0.6"/><polygon points="150.92,253.17 154.92,255.99 158.49,254.62 154.49,251.8" fill="#24bfa8" stroke="#24bfa8" stroke-width="0.6"/><polygon points="87,262.62 91,265.44 94.57,264.47 90.57,261.65" fill="#e9bb30" stroke="#e9bb30" stroke-width="0.6"/><polygon points="90.57,261.65 94.57,264.47 98.14,263.72 94.15,260.9" fill="#e6bc2f" stroke="#e6bc2f" stroke-width="0.6"/><polygon points="94.15,260.9 98.14,263.72 101.72,263.16 97.72,260.34" fill="#e2bd2f" stroke="#e2bd2f" stroke-width="0.6"/><polygon points="97.72,260.34 101.72,263.16 105.29,262.77 101.29,259.95" fill="#ddbe2e" stroke="#ddbe2e" stroke-width="0.6"/><polygon points="101.29,259.95 105.29,262.77 108.87,262.53 104.87,259.71" fill="#d7bf2d" stroke="#d7bf2d" stroke-width="0.6"/><polygon points="104.87,259.71 108.87,262.53 112.44,262.4 108.44,259.58" fill="#cbc22c" stroke="#cbc22c" stroke-width="0.6"/><polygon points="108.44,259.58 112.44,262.4 116.02,262.35 112.02,259.53" fill="#bcc42c" stroke="#bcc42c" stroke-width="0.6"/><polygon points="112.02,259.53 116.02,262.35 119.59,262.37 115.59,259.55" fill="#a9c738" stroke="#a9c738" stroke-width="0.6"/><polygon points="115.59,259.55 119.59,262.37 123.17,262.42 119.17,259.6" fill="#95c943" stroke="#95c943" stroke-width="0.6"/><polygon points="119.17,259.6 123.17,262.42 126.74,262.48 122.74,259.66" fill="#81cb4f" stroke="#81cb4f" stroke-width="0.6"/><polygon points="122.74,259.66 126.74,262.48 130.32,262.51 126.32,259.69" fill="#6fcb5d" stroke="#6fcb5d" stroke-width="0.6"/><polygon points="126.32,259.69 130.32,262.51 133.89,262.5 129.89,259.68" fill="#5eca6c" stroke="#5eca6c" stroke-width="0.6"/><polygon points="129.89,259.68 133.89,262.5 137.47,262.41 133.47,259.59" fill="#4ec97a" stroke="#4ec97a" stroke-width="0.6"/><polygon points="133.47,259.59 137.47,262.41 141.04,262.23 137.04,259.41" fill="#3fc887" stroke="#3fc887" stroke-width="0.6"/><polygon points="137.04,259.41 141.04,262.23 144.62,261.91 140.62,259.09" fill="#34c692" stroke="#34c692" stroke-width="0.6"/><polygon points="140.62,259.09 144.62,261.91 148.19,261.43 144.19,258.61" fill="#2ec39a" stroke="#2ec39a" stroke-width="0.6"/><polygon points="144.19,258.61 148.19,261.43 151.77,260.78 147.77,257.96" fill="#29c1a1" stroke="#29c1a1" stroke-width="0.6"/><polygon points="147.77,257.96 151.77,260.78 155.34,259.91 151.34,257.09" fill="#25bfa6" stroke="#25bfa6" stroke-width="0.6"/><polygon points="151.34,257.09 155.34,259.91 158.92,258.8 154.92,255.99" fill="#23bea9" stroke="#23bea9" stroke-width="0.6"/><polygon points="154.92,255.99 158.92,258.8 162.49,257.44 158.49,254.62" fill="#22beaa" stroke="#22beaa" stroke-width="0.6"/><polygon points="91,265.44 95,268.26 98.57,267.29 94.57,264.47" fill="#e7bc30" stroke="#e7bc30" stroke-width="0.6"/><polygon points="94.57,264.47 98.57,267.29 102.14,266.53 98.14,263.72" fill="#e5bc2f" stroke="#e5bc2f" stroke-width="0.6"/><polygon points="98.14,263.72 102.14,266.53 105.72,265.98 101.72,263.16" fill="#e0bd2f" stroke="#e0bd2f" stroke-width="0.6"/><polygon points="101.72,263.16 105.72,265.98 109.29,265.59 105.29,262.77" fill="#dbbe2e" stroke="#dbbe2e" stroke-width="0.6"/><polygon points="105.29,262.77 109.29,265.59 112.87,265.35 108.87,262.53" fill="#d4c02d" stroke="#d4c02d" stroke-width="0.6"/><polygon points="108.87,262.53 112.87,265.35 116.44,265.21 112.44,262.4" fill="#c7c22b" stroke="#c7c22b" stroke-width="0.6"/><polygon points="112.44,262.4 116.44,265.21 120.02,265.17 116.02,262.35" fill="#b8c52f" stroke="#b8c52f" stroke-width="0.6"/><polygon points="116.02,262.35 120.02,265.17 123.59,265.19 119.59,262.37" fill="#a5c73a" stroke="#a5c73a" stroke-width="0.6"/><polygon points="119.59,262.37 123.59,265.19 127.17,265.24 123.17,262.42" fill="#91c946" stroke="#91c946" stroke-width="0.6"/><polygon points="123.17,262.42 127.17,265.24 130.74,265.3 126.74,262.48" fill="#7dcb52" stroke="#7dcb52" stroke-width="0.6"/><polygon points="126.74,262.48 130.74,265.3 134.32,265.33 130.32,262.51" fill="#6bcb60" stroke="#6bcb60" stroke-width="0.6"/><polygon points="130.32,262.51 134.32,265.33 137.89,265.32 133.89,262.5" fill="#5aca6f" stroke="#5aca6f" stroke-width="0.6"/><polygon points="133.89,262.5 137.89,265.32 141.47,265.23 137.47,262.41" fill="#4ac97d" stroke="#4ac97d" stroke-width="0.6"/><polygon points="137.47,262.41 141.47,265.23 145.04,265.04 141.04,262.23" fill="#3bc78b" stroke="#3bc78b" stroke-width="0.6"/><polygon points="141.04,262.23 145.04,265.04 148.62,264.73 144.62,261.91" fill="#32c595" stroke="#32c595" stroke-width="0.6"/><polygon points="144.62,261.91 148.62,264.73 152.19,264.25 148.19,261.43" fill="#2cc29d" stroke="#2cc29d" stroke-width="0.6"/><polygon points="148.19,261.43 152.19,264.25 155.77,263.6 151.77,260.78" fill="#27c0a3" stroke="#27c0a3" stroke-width="0.6"/><polygon points="151.77,260.78 155.77,263.6 159.34,262.73 155.34,259.91" fill="#23bea8" stroke="#23bea8" stroke-width="0.6"/><polygon points="155.34,259.91 159.34,262.73 162.92,261.62 158.92,258.8" fill="#21bdab" stroke="#21bdab" stroke-width="0.6"/><polygon points="158.92,258.8 162.92,261.62 166.49,260.25 162.49,257.44" fill="#20bdad" stroke="#20bdad" stroke-width="0.6"/></g>
<g stroke-linejoin="round"><polygon points="39,228.48 43,231.14 46.57,229.76 42.57,227.1" fill="#f8bd30" stroke="#f8bd30" stroke-width="0.6"/><polygon points="42.57,227.1 46.57,229.76 50.15,228.48 46.15,225.82" fill="#f8bd30" stroke="#f8bd30" stroke-width="0.6"/><polygon points="46.15,225.82 50.15,228.48 53.72,227.3 49.72,224.64" fill="#f8bd30" stroke="#f8bd30" stroke-width="0.6"/><polygon points="49.72,224.64 53.72,227.3 57.3,226.21 53.3,223.55" fill="#f8bc30" stroke="#f8bc30" stroke-width="0.6"/><polygon points="53.3,223.55 57.3,226.21 60.87,225.18 56.87,222.52" fill="#f8bb31" stroke="#f8bb31" stroke-width="0.6"/><polygon points="56.87,222.52 60.87,225.18 64.45,224.2 60.45,221.54" fill="#f8ba31" stroke="#f8ba31" stroke-width="0.6"/><polygon points="60.45,221.54 64.45,224.2 68.02,223.27 64.02,220.61" fill="#f8b832" stroke="#f8b832" stroke-width="0.6"/><polygon points="64.02,220.61 68.02,223.27 71.6,222.36 67.6,219.71" fill="#f6b832" stroke="#f6b832" stroke-width="0.6"/><polygon points="67.6,219.71 71.6,222.36 75.17,221.47 71.17,218.81" fill="#f3b931" stroke="#f3b931" stroke-width="0.6"/><polygon points="71.17,218.81 75.17,221.47 78.75,220.58 74.75,217.92" fill="#f0ba31" stroke="#f0ba31" stroke-width="0.6"/><polygon points="74.75,217.92 78.75,220.58 82.32,219.68 78.32,217.02" fill="#edba30" stroke="#edba30" stroke-width="0.6"/><polygon points="78.32,217.02 82.32,219.68 85.9,218.75 81.9,216.09" fill="#ebbb30" stroke="#ebbb30" stroke-width="0.6"/><polygon points="81.9,216.09 85.9,218.75 89.47,217.78 85.47,215.12" fill="#e8bb30" stroke="#e8bb30" stroke-width="0.6"/><polygon points="85.47,215.12 89.47,217.78 93.05,216.76 89.05,214.1" fill="#e6bc2f" stroke="#e6bc2f" stroke-width="0.6"/><polygon points="89.05,214.1 93.05,216.76 96.62,215.67 92.62,213.01" fill="#e4bc2f" stroke="#e4bc2f" stroke-width="0.6"/><polygon points="92.62,213.01 96.62,215.67 100.2,214.5 96.2,211.84" fill="#e3bd2f" stroke="#e3bd2f" stroke-width="0.6"/><polygon points="96.2,211.84 100.2,214.5 103.77,213.23 99.77,210.57" fill="#e2bd2f" stroke="#e2bd2f" stroke-width="0.6"/><polygon points="99.77,210.57 103.77,213.23 107.35,211.86 103.35,209.2" fill="#e1bd2f" stroke="#e1bd2f" stroke-width="0.6"/><polygon points="103.35,209.2 107.35,211.86 110.92,210.36 106.92,207.7" fill="#e1bd2f" stroke="#e1bd2f" stroke-width="0.6"/><polygon points="106.92,207.7 110.92,210.36 114.5,208.73 110.5,206.07" fill="#e2bd2f" stroke="#e2bd2f" stroke-width="0.6"/><polygon points="43,231.14 47,233.8 50.57,232.41 46.57,229.76" fill="#f8bd30" stroke="#f8bd30" stroke-width="0.6"/><polygon points="46.57,229.76 50.57,232.41 54.15,231.14 50.15,228.48" fill="#f8bd30" stroke="#f8bd30" stroke-width="0.6"/><polygon points="50.15,228.48 54.15,231.14 57.72,229.96 53.72,227.3" fill="#f8bc30" stroke="#f8bc30" stroke-width="0.6"/><polygon points="53.72,227.3 57.72,229.96 61.3,228.86 57.3,226.21" fill="#f8bb31" stroke="#f8bb31" stroke-width="0.6"/><polygon points="57.3,226.21 61.3,228.86 64.87,227.84 60.87,225.18" fill="#f8ba31" stroke="#f8ba31" stroke-width="0.6"/><polygon points="60.87,225.18 64.87,227.84 68.45,226.86 64.45,224.2" fill="#f8b932" stroke="#f8b932" stroke-width="0.6"/><polygon points="64.45,224.2 68.45,226.86 72.02,225.93 68.02,223.27" fill="#f8b832" stroke="#f8b832" stroke-width="0.6"/><polygon points="68.02,223.27 72.02,225.93 75.6,225.02 71.6,222.36" fill="#f5b932" stroke="#f5b932" stroke-width="0.6"/><polygon points="71.6,222.36 75.6,225.02 79.17,224.13 75.17,221.47" fill="#f2b931" stroke="#f2b931" stroke-width="0.6"/><polygon points="75.17,221.47 79.17,224.13 82.75,223.24 78.75,220.58" fill="#efba31" stroke="#efba31" stroke-width="0.6"/><polygon points="78.75,220.58 82.75,223.24 86.32,222.34 82.32,219.68" fill="#ecba30" stroke="#ecba30" stroke-width="0.6"/><polygon points="82.32,219.68 86.32,222.34 89.9,221.41 85.9,218.75" fill="#eabb30" stroke="#eabb30" stroke-width="0.6"/><polygon points="85.9,218.75 89.9,221.41 93.47,220.44 89.47,217.78" fill="#e7bc30" stroke="#e7bc30" stroke-width="0.6"/><polygon points="89.47,217.78 93.47,220.44 97.05,219.42 93.05,216.76" fill="#e5bc2f" stroke="#e5bc2f" stroke-width="0.6"/><polygon points="93.05,216.76 97.05,219.42 100.62,218.33 96.62,215.67" fill="#e3bc2f" stroke="#e3bc2f" stroke-width="0.6"/><polygon points="96.62,215.67 100.62,218.33 104.2,217.16 100.2,214.5" fill="#e2bd2f" stroke="#e2bd2f" stroke-width="0.6"/><polygon points="100.2,214.5 104.2,217.16 107.77,215.89 103.77,213.23" fill="#e1bd2f" stroke="#e1bd2f" stroke-width="0.6"/><polygon points="103.77,213.23 107.77,215.89 111.35,214.52 107.35,211.86" fill="#e0bd2f" stroke="#e0bd2f" stroke-width="0.6"/><polygon points="107.35,211.86 111.35,214.52 114.92,213.02 110.92,210.36" fill="#e0bd2f" stroke="#e0bd2f" stroke-width="0.6"/><polygon points="110.92,210.36 114.92,213.02 118.5,211.39 114.5,208.73" fill="#e1bd2f" stroke="#e1bd2f" stroke-width="0.6"/><polygon points="47,233.8 51,236.46 54.57,235.07 50.57,232.41" fill="#f8bc30" stroke="#f8bc30" stroke-width="0.6"/><polygon points="50.57,232.41 54.57,235.07 58.15,233.8 54.15,231.14" fill="#f8bc30" stroke="#f8bc30" stroke-width="0.6"/><polygon points="54.15,231.14 58.15,233.8 61.72,232.62 57.72,229.96" fill="#f8bc30" stroke="#f8bc30" stroke-width="0.6"/><polygon points="57.72,229.96 61.72,232.62 65.3,231.52 61.3,228.86" fill="#f8bb31" stroke="#f8bb31" stroke-width="0.6"/><polygon points="61.3,228.86 65.3,231.52 68.87,230.5 64.87,227.84" fill="#f8ba31" stroke="#f8ba31" stroke-width="0.6"/><polygon points="64.87,227.84 68.87,230.5 72.45,229.52 68.45,226.86" fill="#f8b932" stroke="#f8b932" stroke-width="0.6"/><polygon points="68.45,226.86 72.45,229.52 76.02,228.59 72.02,225.93" fill="#f7b832" stroke="#f7b832" stroke-width="0.6"/><polygon points="72.02,225.93 76.02,228.59 79.6,227.68 75.6,225.02" fill="#f4b931" stroke="#f4b931" stroke-width="0.6"/><polygon points="75.6,225.02 79.6,227.68 83.17,226.79 79.17,224.13" fill="#f1b931" stroke="#f1b931" stroke-width="0.6"/><polygon points="79.17,224.13 83.17,226.79 86.75,225.9 82.75,223.24" fill="#eeba31" stroke="#eeba31" stroke-width="0.6"/><polygon points="82.75,223.24 86.75,225.9 90.32,225 86.32,222.34" fill="#ecbb30" stroke="#ecbb30" stroke-width="0.6"/><polygon points="86.32,222.34 90.32,225 93.9,224.07 89.9,221.41" fill="#e9bb30" stroke="#e9bb30" stroke-width="0.6"/><polygon points="89.9,221.41 93.9,224.07 97.47,223.1 93.47,220.44" fill="#e6bc2f" stroke="#e6bc2f" stroke-width="0.6"/><polygon points="93.47,220.44 97.47,223.1 101.05,222.08 97.05,219.42" fill="#e4bc2f" stroke="#e4bc2f" stroke-width="0.6"/><polygon points="97.05,219.42 101.05,222.08 104.62,220.99 100.62,218.33" fill="#e2bd2f" stroke="#e2bd2f" stroke-width="0.6"/><polygon points="100.62,218.33 104.62,220.99 108.2,219.81 104.2,217.16" fill="#e1bd2f" stroke="#e1bd2f" stroke-width="0.6"/><polygon points="104.2,217.16 108.2,219.81 111.77,218.55 107.77,215.89" fill="#e0bd2f" stroke="#e0bd2f" stroke-width="0.6"/><polygon points="107.77,215.89 111.77,218.55 115.35,217.18 111.35,214.52" fill="#dfbd2e" stroke="#dfbd2e" stroke-width="0.6"/><polygon points="111.35,214.52 115.35,217.18 118.92,215.68 114.92,213.02" fill="#e0bd2f" stroke="#e0bd2f" stroke-width="0.6"/><polygon points="114.92,213.02 118.92,215.68 122.49,214.05 118.5,211.39" fill="#e0bd2f" stroke="#e0bd2f" stroke-width="0.6"/><polygon points="51,236.46 55,239.12 58.57,237.73 54.57,235.07" fill="#f8bc30" stroke="#f8bc30" stroke-width="0.6"/><polygon points="54.57,235.07 58.57,237.73 62.15,236.46 58.15,233.8" fill="#f8bc30" stroke="#f8bc30" stroke-width="0.6"/><polygon points="58.15,233.8 62.15,236.46 65.72,235.28 61.72,232.62" fill="#f8bb31" stroke="#f8bb31" stroke-width="0.6"/><polygon points="61.72,232.62 65.72,235.28 69.3,234.18 65.3,231.52" fill="#f8ba31" stroke="#f8ba31" stroke-width="0.6"/><polygon points="65.3,231.52 69.3,234.18 72.87,233.16 68.87,230.5" fill="#f8b931" stroke="#f8b931" stroke-width="0.6"/><polygon points="68.87,230.5 72.87,233.16 76.45,232.18 72.45,229.52" fill="#f8b832" stroke="#f8b832" stroke-width="0.6"/><polygon points="72.45,229.52 76.45,232.18 80.02,231.25 76.02,228.59" fill="#f6b832" stroke="#f6b832" stroke-width="0.6"/><polygon points="76.02,228.59 80.02,231.25 83.6,230.34 79.6,227.68" fill="#f3b931" stroke="#f3b931" stroke-width="0.6"/><polygon points="79.6,227.68 83.6,230.34 87.17,229.45 83.17,226.79" fill="#f0ba31" stroke="#f0ba31" stroke-width="0.6"/><polygon points="83.17,226.79 87.17,229.45 90.75,228.56 86.75,225.9" fill="#edba30" stroke="#edba30" stroke-width="0.6"/><polygon points="86.75,225.9 90.75,228.56 94.32,227.66 90.32,225" fill="#ebbb30" stroke="#ebbb30" stroke-width="0.6"/><polygon points="90.32,225 94.32,227.66 97.9,226.73 93.9,224.07" fill="#e8bb30" stroke="#e8bb30" stroke-width="0.6"/><polygon points="93.9,224.07 97.9,226.73 101.47,225.76 97.47,223.1" fill="#e6bc2f" stroke="#e6bc2f" stroke-width="0.6"/><polygon points="97.47,223.1 101.47,225.76 105.05,224.74 101.05,222.08" fill="#e3bc2f" stroke="#e3bc2f" stroke-width="0.6"/><polygon points="101.05,222.08 105.05,224.74 108.62,223.65 104.62,220.99" fill="#e1bd2f" stroke="#e1bd2f" stroke-width="0.6"/><polygon points="104.62,220.99 108.62,223.65 112.2,222.47 108.2,219.81" fill="#e0bd2f" stroke="#e0bd2f" stroke-width="0.6"/><polygon points="108.2,219.81 112.2,222.47 115.77,221.21 111.77,218.55" fill="#dfbd2e" stroke="#dfbd2e" stroke-width="0.6"/><polygon points="111.77,218.55 115.77,221.21 119.34,219.84 115.35,217.18" fill="#debd2e" stroke="#debd2e" stroke-width="0.6"/><polygon points="115.35,217.18 119.34,219.84 122.92,218.34 118.92,215.68" fill="#dfbd2e" stroke="#dfbd2e" stroke-width="0.6"/><polygon points="118.92,215.68 122.92,218.34 126.49,216.71 122.49,214.05" fill="#e0bd2f" stroke="#e0bd2f" stroke-width="0.6"/><polygon points="55,239.12 59,241.78 62.57,240.39 58.57,237.73" fill="#f8bb30" stroke="#f8bb30" stroke-width="0.6"/><polygon points="58.57,237.73 62.57,240.39 66.15,239.12 62.15,236.46" fill="#f8bb31" stroke="#f8bb31" stroke-width="0.6"/><polygon points="62.15,236.46 66.15,239.12 69.72,237.94 65.72,235.28" fill="#f8bb31" stroke="#f8bb31" stroke-width="0.6"/><polygon points="65.72,235.28 69.72,237.94 73.3,236.84 69.3,234.18" fill="#f8ba31" stroke="#f8ba31" stroke-width="0.6"/><polygon points="69.3,234.18 73.3,236.84 76.87,235.81 72.87,233.16" fill="#f8b932" stroke="#f8b932" stroke-width="0.6"/><polygon points="72.87,233.16 76.87,235.81 80.45,234.84 76.45,232.18" fill="#f7b832" stroke="#f7b832" stroke-width="0.6"/><polygon points="76.45,232.18 80.45,234.84 84.02,233.91 80.02,231.25" fill="#f5b932" stroke="#f5b932" stroke-width="0.6"/><polygon points="80.02,231.25 84.02,233.91 87.6,233 83.6,230.34" fill="#f2b931" stroke="#f2b931" stroke-width="0.6"/><polygon points="83.6,230.34 87.6,233 91.17,232.11 87.17,229.45" fill="#efba31" stroke="#efba31" stroke-width="0.6"/><polygon points="87.17,229.45 91.17,232.11 94.75,231.22 90.75,228.56" fill="#edba30" stroke="#edba30" stroke-width="0.6"/><polygon points="90.75,228.56 94.75,231.22 98.32,230.32 94.32,227.66" fill="#eabb30" stroke="#eabb30" stroke-width="0.6"/><polygon points="94.32,227.66 98.32,230.32 101.9,229.39 97.9,226.73" fill="#e7bc30" stroke="#e7bc30" stroke-width="0.6"/><polygon points="97.9,226.73 101.9,229.39 105.47,228.42 101.47,225.76" fill="#e5bc2f" stroke="#e5bc2f" stroke-width="0.6"/><polygon points="101.47,225.76 105.47,228.42 109.05,227.4 105.05,224.74" fill="#e2bd2f" stroke="#e2bd2f" stroke-width="0.6"/><polygon points="105.05,224.74 109.05,227.4 112.62,226.3 108.62,223.65" fill="#e0bd2f" stroke="#e0bd2f" stroke-width="0.6"/><polygon points="108.62,223.65 112.62,226.3 116.2,225.13 112.2,222.47" fill="#dfbd2e" stroke="#dfbd2e" stroke-width="0.6"/><polygon points="112.2,222.47 116.2,225.13 119.77,223.87 115.77,221.21" fill="#debe2e" stroke="#debe2e" stroke-width="0.6"/><polygon points="115.77,221.21 119.77,223.87 123.34,222.49 119.34,219.84" fill="#debe2e" stroke="#debe2e" stroke-width="0.6"/><polygon points="119.34,219.84 123.34,222.49 126.92,221 122.92,218.34" fill="#debe2e" stroke="#debe2e" stroke-width="0.6"/><polygon points="122.92,218.34 126.92,221 130.49,219.37 126.49,216.71" fill="#dfbd2e" stroke="#dfbd2e" stroke-width="0.6"/><polygon points="59,241.78 63,244.44 66.57,243.05 62.57,240.39" fill="#f8bb31" stroke="#f8bb31" stroke-width="0.6"/><polygon points="62.57,240.39 66.57,243.05 70.15,241.78 66.15,239.12" fill="#f8bb31" stroke="#f8bb31" stroke-width="0.6"/><polygon points="66.15,239.12 70.15,241.78 73.72,240.6 69.72,237.94" fill="#f8ba31" stroke="#f8ba31" stroke-width="0.6"/><polygon points="69.72,237.94 73.72,240.6 77.3,239.5 73.3,236.84" fill="#f8b931" stroke="#f8b931" stroke-width="0.6"/><polygon points="73.3,236.84 77.3,239.5 80.87,238.47 76.87,235.81" fill="#f8b832" stroke="#f8b832" stroke-width="0.6"/><polygon points="76.87,235.81 80.87,238.47 84.45,237.5 80.45,234.84" fill="#f6b832" stroke="#f6b832" stroke-width="0.6"/><polygon points="80.45,234.84 84.45,237.5 88.02,236.57 84.02,233.91" fill="#f4b931" stroke="#f4b931" stroke-width="0.6"/><polygon points="84.02,233.91 88.02,236.57 91.6,235.66 87.6,233" fill="#f1b931" stroke="#f1b931" stroke-width="0.6"/><polygon points="87.6,233 91.6,235.66 95.17,234.77 91.17,232.11" fill="#efba31" stroke="#efba31" stroke-width="0.6"/><polygon points="91.17,232.11 95.17,234.77 98.75,233.88 94.75,231.22" fill="#ecbb30" stroke="#ecbb30" stroke-width="0.6"/><polygon points="94.75,231.22 98.75,233.88 102.32,232.98 98.32,230.32" fill="#e9bb30" stroke="#e9bb30" stroke-width="0.6"/><polygon points="98.32,230.32 102.32,232.98 105.9,232.05 101.9,229.39" fill="#e6bc2f" stroke="#e6bc2f" stroke-width="0.6"/><polygon points="101.9,229.39 105.9,232.05 109.47,231.08 105.47,228.42" fill="#e4bc2f" stroke="#e4bc2f" stroke-width="0.6"/><polygon points="105.47,228.42 109.47,231.08 113.05,230.05 109.05,227.4" fill="#e2bd2f" stroke="#e2bd2f" stroke-width="0.6"/><polygon points="109.05,227.4 113.05,230.05 116.62,228.96 112.62,226.3" fill="#e0bd2f" stroke="#e0bd2f" stroke-width="0.6"/><polygon points="112.62,226.3 116.62,228.96 120.19,227.79 116.2,225.13" fill="#debe2e" stroke="#debe2e" stroke-width="0.6"/><polygon points="116.2,225.13 120.19,227.79 123.77,226.53 119.77,223.87" fill="#ddbe2e" stroke="#ddbe2e" stroke-width="0.6"/><polygon points="119.77,223.87 123.77,226.53 127.34,225.15 123.34,222.49" fill="#ddbe2e" stroke="#ddbe2e" stroke-width="0.6"/><polygon points="123.34,222.49 127.34,225.15 130.92,223.66 126.92,221" fill="#ddbe2e" stroke="#ddbe2e" stroke-width="0.6"/><polygon points="126.92,221 130.92,223.66 134.49,222.03 130.49,219.37" fill="#debe2e" stroke="#debe2e" stroke-width="0.6"/><polygon points="63,244.44 67,247.1 70.57,245.71 66.57,243.05" fill="#f8ba31" stroke="#f8ba31" stroke-width="0.6"/><polygon points="66.57,243.05 70.57,245.71 74.15,244.44 70.15,241.78" fill="#f8ba31" stroke="#f8ba31" stroke-width="0.6"/><polygon points="70.15,241.78 74.15,244.44 77.72,243.26 73.72,240.6" fill="#f8ba31" stroke="#f8ba31" stroke-width="0.6"/><polygon points="73.72,240.6 77.72,243.26 81.3,242.16 77.3,239.5" fill="#f8b932" stroke="#f8b932" stroke-width="0.6"/><polygon points="77.3,239.5 81.3,242.16 84.87,241.13 80.87,238.47" fill="#f8b832" stroke="#f8b832" stroke-width="0.6"/><polygon points="80.87,238.47 84.87,241.13 88.45,240.16 84.45,237.5" fill="#f6b932" stroke="#f6b932" stroke-width="0.6"/><polygon points="84.45,237.5 88.45,240.16 92.02,239.23 88.02,236.57" fill="#f3b931" stroke="#f3b931" stroke-width="0.6"/><polygon points="88.02,236.57 92.02,239.23 95.6,238.32 91.6,235.66" fill="#f0ba31" stroke="#f0ba31" stroke-width="0.6"/><polygon points="91.6,235.66 95.6,238.32 99.17,237.43 95.17,234.77" fill="#eeba31" stroke="#eeba31" stroke-width="0.6"/><polygon points="95.17,234.77 99.17,237.43 102.75,236.54 98.75,233.88" fill="#ebbb30" stroke="#ebbb30" stroke-width="0.6"/><polygon points="98.75,233.88 102.75,236.54 106.32,235.64 102.32,232.98" fill="#e8bb30" stroke="#e8bb30" stroke-width="0.6"/><polygon points="102.32,232.98 106.32,235.64 109.9,234.71 105.9,232.05" fill="#e5bc2f" stroke="#e5bc2f" stroke-width="0.6"/><polygon points="105.9,232.05 109.9,234.71 113.47,233.74 109.47,231.08" fill="#e3bd2f" stroke="#e3bd2f" stroke-width="0.6"/><polygon points="109.47,231.08 113.47,233.74 117.04,232.71 113.05,230.05" fill="#e1bd2f" stroke="#e1bd2f" stroke-width="0.6"/><polygon points="113.05,230.05 117.04,232.71 120.62,231.62 116.62,228.96" fill="#dfbd2e" stroke="#dfbd2e" stroke-width="0.6"/><polygon points="116.62,228.96 120.62,231.62 124.19,230.45 120.19,227.79" fill="#ddbe2e" stroke="#ddbe2e" stroke-width="0.6"/><polygon points="120.19,227.79 124.19,230.45 127.77,229.19 123.77,226.53" fill="#dcbe2e" stroke="#dcbe2e" stroke-width="0.6"/><polygon points="123.77,226.53 127.77,229.19 131.34,227.81 127.34,225.15" fill="#dcbe2e" stroke="#dcbe2e" stroke-width="0.6"/><polygon points="127.34,225.15 131.34,227.81 134.92,226.32 130.92,223.66" fill="#dcbe2e" stroke="#dcbe2e" stroke-width="0.6"/><polygon points="130.92,223.66 134.92,226.32 138.49,224.69 134.49,222.03" fill="#ddbe2e" stroke="#ddbe2e" stroke-width="0.6"/><polygon points="67,247.1 71,249.75 74.57,248.37 70.57,245.71" fill="#f8ba31" stroke="#f8ba31" stroke-width="0.6"/><polygon points="70.57,245.71 74.57,248.37 78.15,247.1 74.15,244.44" fill="#f8ba31" stroke="#f8ba31" stroke-width="0.6"/><polygon points="74.15,244.44 78.15,247.1 81.72,245.92 77.72,243.26" fill="#f8b931" stroke="#f8b931" stroke-width="0.6"/><polygon points="77.72,243.26 81.72,245.92 85.3,244.82 81.3,242.16" fill="#f8b832" stroke="#f8b832" stroke-width="0.6"/><polygon points="81.3,242.16 85.3,244.82 88.87,243.79 84.87,241.13" fill="#f7b832" stroke="#f7b832" stroke-width="0.6"/><polygon points="84.87,241.13 88.87,243.79 92.45,242.82 88.45,240.16" fill="#f5b932" stroke="#f5b932" stroke-width="0.6"/><polygon points="88.45,240.16 92.45,242.82 96.02,241.89 92.02,239.23" fill="#f2b931" stroke="#f2b931" stroke-width="0.6"/><polygon points="92.02,239.23 96.02,241.89 99.6,240.98 95.6,238.32" fill="#f0ba31" stroke="#f0ba31" stroke-width="0.6"/><polygon points="95.6,238.32 99.6,240.98 103.17,240.09 99.17,237.43" fill="#edba30" stroke="#edba30" stroke-width="0.6"/><polygon points="99.17,237.43 103.17,240.09 106.75,239.2 102.75,236.54" fill="#eabb30" stroke="#eabb30" stroke-width="0.6"/><polygon points="102.75,236.54 106.75,239.2 110.32,238.3 106.32,235.64" fill="#e7bc30" stroke="#e7bc30" stroke-width="0.6"/><polygon points="106.32,235.64 110.32,238.3 113.89,237.37 109.9,234.71" fill="#e4bc2f" stroke="#e4bc2f" stroke-width="0.6"/><polygon points="109.9,234.71 113.89,237.37 117.47,236.4 113.47,233.74" fill="#e2bd2f" stroke="#e2bd2f" stroke-width="0.6"/><polygon points="113.47,233.74 117.47,236.4 121.04,235.37 117.04,232.71" fill="#e0bd2f" stroke="#e0bd2f" stroke-width="0.6"/><polygon points="117.04,232.71 121.04,235.37 124.62,234.28 120.62,231.62" fill="#debe2e" stroke="#debe2e" stroke-width="0.6"/><polygon points="120.62,231.62 124.62,234.28 128.19,233.11 124.19,230.45" fill="#dcbe2e" stroke="#dcbe2e" stroke-width="0.6"/><polygon points="124.19,230.45 128.19,233.11 131.77,231.85 127.77,229.19" fill="#dbbe2e" stroke="#dbbe2e" stroke-width="0.6"/><polygon points="127.77,229.19 131.77,231.85 135.34,230.47 131.34,227.81" fill="#dbbe2e" stroke="#dbbe2e" stroke-width="0.6"/><polygon points="131.34,227.81 135.34,230.47 138.92,228.98 134.92,226.32" fill="#dbbe2e" stroke="#dbbe2e" stroke-width="0.6"/><polygon points="134.92,226.32 138.92,228.98 142.49,227.35 138.49,224.69" fill="#dcbe2e" stroke="#dcbe2e" stroke-width="0.6"/><polygon points="71,249.75 75,252.41 78.57,251.03 74.57,248.37" fill="#f8b931" stroke="#f8b931" stroke-width="0.6"/><polygon points="74.57,248.37 78.57,251.03 82.15,249.76 78.15,247.1" fill="#f8b931" stroke="#f8b931" stroke-width="0.6"/><polygon points="78.15,247.1 82.15,249.76 85.72,248.58 81.72,245.92" fill="#f8b932" stroke="#f8b932" stroke-width="0.6"/><polygon points="81.72,245.92 85.72,248.58 89.3,247.48 85.3,244.82" fill="#f8b832" stroke="#f8b832" stroke-width="0.6"/><polygon points="85.3,244.82 89.3,247.48 92.87,246.45 88.87,243.79" fill="#f6b832" stroke="#f6b832" stroke-width="0.6"/><polygon points="88.87,243.79 92.87,246.45 96.45,245.48 92.45,242.82" fill="#f4b931" stroke="#f4b931" stroke-width="0.6"/><polygon points="92.45,242.82 96.45,245.48 100.02,244.55 96.02,241.89" fill="#f1b931" stroke="#f1b931" stroke-width="0.6"/><polygon points="96.02,241.89 100.02,244.55 103.6,243.64 99.6,240.98" fill="#efba31" stroke="#efba31" stroke-width="0.6"/><polygon points="99.6,240.98 103.6,243.64 107.17,242.75 103.17,240.09" fill="#ecbb30" stroke="#ecbb30" stroke-width="0.6"/><polygon points="103.17,240.09 107.17,242.75 110.74,241.86 106.75,239.2" fill="#e9bb30" stroke="#e9bb30" stroke-width="0.6"/><polygon points="106.75,239.2 110.74,241.86 114.32,240.96 110.32,238.3" fill="#e6bc2f" stroke="#e6bc2f" stroke-width="0.6"/><polygon points="110.32,238.3 114.32,240.96 117.89,240.03 113.89,237.37" fill="#e4bc2f" stroke="#e4bc2f" stroke-width="0.6"/><polygon points="113.89,237.37 117.89,240.03 121.47,239.06 117.47,236.4" fill="#e1bd2f" stroke="#e1bd2f" stroke-width="0.6"/><polygon points="117.47,236.4 121.47,239.06 125.04,238.03 121.04,235.37" fill="#dfbd2e" stroke="#dfbd2e" stroke-width="0.6"/><polygon points="121.04,235.37 125.04,238.03 128.62,236.94 124.62,234.28" fill="#ddbe2e" stroke="#ddbe2e" stroke-width="0.6"/><polygon points="124.62,234.28 128.62,236.94 132.19,235.77 128.19,233.11" fill="#dbbe2e" stroke="#dbbe2e" stroke-width="0.6"/><polygon points="128.19,233.11 132.19,235.77 135.77,234.51 131.77,231.85" fill="#dabe2e" stroke="#dabe2e" stroke-width="0.6"/><polygon points="131.77,231.85 135.77,234.51 139.34,233.13 135.34,230.47" fill="#dabe2e" stroke="#dabe2e" stroke-width="0.6"/><polygon points="135.34,230.47 139.34,233.13 142.92,231.64 138.92,228.98" fill="#dabe2e" stroke="#dabe2e" stroke-width="0.6"/><polygon points="138.92,228.98 142.92,231.64 146.49,230.01 142.49,227.35" fill="#dbbe2e" stroke="#dbbe2e" stroke-width="0.6"/><polygon points="75,252.41 79,255.07 82.57,253.69 78.57,251.03" fill="#f8b932" stroke="#f8b932" stroke-width="0.6"/><polygon points="78.57,251.03 82.57,253.69 86.15,252.42 82.15,249.76" fill="#f8b932" stroke="#f8b932" stroke-width="0.6"/><polygon points="82.15,249.76 86.15,252.42 89.72,251.24 85.72,248.58" fill="#f8b832" stroke="#f8b832" stroke-width="0.6"/><polygon points="85.72,248.58 89.72,251.24 93.3,250.14 89.3,247.48" fill="#f7b832" stroke="#f7b832" stroke-width="0.6"/><polygon points="89.3,247.48 93.3,250.14 96.87,249.11 92.87,246.45" fill="#f5b932" stroke="#f5b932" stroke-width="0.6"/><polygon points="92.87,246.45 96.87,249.11 100.45,248.14 96.45,245.48" fill="#f3b931" stroke="#f3b931" stroke-width="0.6"/><polygon points="96.45,245.48 100.45,248.14 104.02,247.21 100.02,244.55" fill="#f0ba31" stroke="#f0ba31" stroke-width="0.6"/><polygon points="100.02,244.55 104.02,247.21 107.59,246.3 103.6,243.64" fill="#eeba31" stroke="#eeba31" stroke-width="0.6"/><polygon points="103.6,243.64 107.59,246.3 111.17,245.41 107.17,242.75" fill="#ebbb30" stroke="#ebbb30" stroke-width="0.6"/><polygon points="107.17,242.75 111.17,245.41 114.74,244.52 110.74,241.86" fill="#e8bb30" stroke="#e8bb30" stroke-width="0.6"/><polygon points="110.74,241.86 114.74,244.52 118.32,243.62 114.32,240.96" fill="#e5bc2f" stroke="#e5bc2f" stroke-width="0.6"/><polygon points="114.32,240.96 118.32,243.62 121.89,242.69 117.89,240.03" fill="#e3bd2f" stroke="#e3bd2f" stroke-width="0.6"/><polygon points="117.89,240.03 121.89,242.69 125.47,241.72 121.47,239.06" fill="#e0bd2f" stroke="#e0bd2f" stroke-width="0.6"/><polygon points="121.47,239.06 125.47,241.72 129.04,240.69 125.04,238.03" fill="#debe2e" stroke="#debe2e" stroke-width="0.6"/><polygon points="125.04,238.03 129.04,240.69 132.62,239.6 128.62,236.94" fill="#dcbe2e" stroke="#dcbe2e" stroke-width="0.6"/><polygon points="128.62,236.94 132.62,239.6 136.19,238.43 132.19,235.77" fill="#dbbe2e" stroke="#dbbe2e" stroke-width="0.6"/><polygon points="132.19,235.77 136.19,238.43 139.77,237.17 135.77,234.51" fill="#dabf2e" stroke="#dabf2e" stroke-width="0.6"/><polygon points="135.77,234.51 139.77,237.17 143.34,235.79 139.34,233.13" fill="#d9bf2e" stroke="#d9bf2e" stroke-width="0.6"/><polygon points="139.34,233.13 143.34,235.79 146.92,234.3 142.92,231.64" fill="#d9bf2e" stroke="#d9bf2e" stroke-width="0.6"/><polygon points="142.92,231.64 146.92,234.3 150.49,232.67 146.49,230.01" fill="#dabe2e" stroke="#dabe2e" stroke-width="0.6"/><polygon points="79,255.07 83,257.73 86.57,256.35 82.57,253.69" fill="#f8b832" stroke="#f8b832" stroke-width="0.6"/><polygon points="82.57,253.69 86.57,256.35 90.15,255.08 86.15,252.42" fill="#f8b832" stroke="#f8b832" stroke-width="0.6"/><polygon points="86.15,252.42 90.15,255.08 93.72,253.9 89.72,251.24" fill="#f8b832" stroke="#f8b832" stroke-width="0.6"/><polygon points="89.72,251.24 93.72,253.9 97.3,252.8 93.3,250.14" fill="#f6b832" stroke="#f6b832" stroke-width="0.6"/><polygon points="93.3,250.14 97.3,252.8 100.87,251.77 96.87,249.11" fill="#f4b931" stroke="#f4b931" stroke-width="0.6"/><polygon points="96.87,249.11 100.87,251.77 104.44,250.8 100.45,248.14" fill="#f2b931" stroke="#f2b931" stroke-width="0.6"/><polygon points="100.45,248.14 104.44,250.8 108.02,249.86 104.02,247.21" fill="#f0ba31" stroke="#f0ba31" stroke-width="0.6"/><polygon points="104.02,247.21 108.02,249.86 111.59,248.96 107.59,246.3" fill="#edba30" stroke="#edba30" stroke-width="0.6"/><polygon points="107.59,246.3 111.59,248.96 115.17,248.07 111.17,245.41" fill="#eabb30" stroke="#eabb30" stroke-width="0.6"/><polygon points="111.17,245.41 115.17,248.07 118.74,247.18 114.74,244.52" fill="#e7bc30" stroke="#e7bc30" stroke-width="0.6"/><polygon points="114.74,244.52 118.74,247.18 122.32,246.27 118.32,243.62" fill="#e4bc2f" stroke="#e4bc2f" stroke-width="0.6"/><polygon points="118.32,243.62 122.32,246.27 125.89,245.35 121.89,242.69" fill="#e2bd2f" stroke="#e2bd2f" stroke-width="0.6"/><polygon points="121.89,242.69 125.89,245.35 129.47,244.38 125.47,241.72" fill="#dfbd2e" stroke="#dfbd2e" stroke-width="0.6"/><polygon points="125.47,241.72 129.47,244.38 133.04,243.35 129.04,240.69" fill="#ddbe2e" stroke="#ddbe2e" stroke-width="0.6"/><polygon points="129.04,240.69 133.04,243.35 136.62,242.26 132.62,239.6" fill="#dbbe2e" stroke="#dbbe2e" stroke-width="0.6"/><polygon points="132.62,239.6 136.62,242.26 140.19,241.09 136.19,238.43" fill="#dabe2e" stroke="#dabe2e" stroke-width="0.6"/><polygon points="136.19,238.43 140.19,241.09 143.77,239.82 139.77,237.17" fill="#d9bf2e" stroke="#d9bf2e" stroke-width="0.6"/><polygon points="139.77,237.17 143.77,239.82 147.34,238.45 143.34,235.79" fill="#d8bf2d" stroke="#d8bf2d" stroke-width="0.6"/><polygon points="143.34,235.79 147.34,238.45 150.92,236.96 146.92,234.3" fill="#d8bf2d" stroke="#d8bf2d" stroke-width="0.6"/><polygon points="146.92,234.3 150.92,236.96 154.49,235.33 150.49,232.67" fill="#d9bf2e" stroke="#d9bf2e" stroke-width="0.6"/><polygon points="83,257.73 87,260.39 90.57,259.01 86.57,256.35" fill="#f8b832" stroke="#f8b832" stroke-width="0.6"/><polygon points="86.57,256.35 90.57,259.01 94.15,257.74 90.15,255.08" fill="#f8b832" stroke="#f8b832" stroke-width="0.6"/><polygon points="90.15,255.08 94.15,257.74 97.72,256.56 93.72,253.9" fill="#f7b832" stroke="#f7b832" stroke-width="0.6"/><polygon points="93.72,253.9 97.72,256.56 101.29,255.46 97.3,252.8" fill="#f5b932" stroke="#f5b932" stroke-width="0.6"/><polygon points="97.3,252.8 101.29,255.46 104.87,254.43 100.87,251.77" fill="#f3b931" stroke="#f3b931" stroke-width="0.6"/><polygon points="100.87,251.77 104.87,254.43 108.44,253.46 104.44,250.8" fill="#f1b931" stroke="#f1b931" stroke-width="0.6"/><polygon points="104.44,250.8 108.44,253.46 112.02,252.52 108.02,249.86" fill="#efba31" stroke="#efba31" stroke-width="0.6"/><polygon points="108.02,249.86 112.02,252.52 115.59,251.62 111.59,248.96" fill="#ecbb30" stroke="#ecbb30" stroke-width="0.6"/><polygon points="111.59,248.96 115.59,251.62 119.17,250.73 115.17,248.07" fill="#e9bb30" stroke="#e9bb30" stroke-width="0.6"/><polygon points="115.17,248.07 119.17,250.73 122.74,249.84 118.74,247.18" fill="#e6bc2f" stroke="#e6bc2f" stroke-width="0.6"/><polygon points="118.74,247.18 122.74,249.84 126.32,248.93 122.32,246.27" fill="#e4bc2f" stroke="#e4bc2f" stroke-width="0.6"/><polygon points="122.32,246.27 126.32,248.93 129.89,248 125.89,245.35" fill="#e1bd2f" stroke="#e1bd2f" stroke-width="0.6"/><polygon points="125.89,245.35 129.89,248 133.47,247.03 129.47,244.38" fill="#debd2e" stroke="#debd2e" stroke-width="0.6"/><polygon points="129.47,244.38 133.47,247.03 137.04,246.01 133.04,243.35" fill="#dcbe2e" stroke="#dcbe2e" stroke-width="0.6"/><polygon points="133.04,243.35 137.04,246.01 140.62,244.92 136.62,242.26" fill="#dabe2e" stroke="#dabe2e" stroke-width="0.6"/><polygon points="136.62,242.26 140.62,244.92 144.19,243.75 140.19,241.09" fill="#d9bf2e" stroke="#d9bf2e" stroke-width="0.6"/><polygon points="140.19,241.09 144.19,243.75 147.77,242.48 143.77,239.82" fill="#d8bf2d" stroke="#d8bf2d" stroke-width="0.6"/><polygon points="143.77,239.82 147.77,242.48 151.34,241.11 147.34,238.45" fill="#d7bf2d" stroke="#d7bf2d" stroke-width="0.6"/><polygon points="147.34,238.45 151.34,241.11 154.92,239.62 150.92,236.96" fill="#d8bf2d" stroke="#d8bf2d" stroke-width="0.6"/><polygon points="150.92,236.96 154.92,239.62 158.49,237.99 154.49,235.33" fill="#d8bf2d" stroke="#d8bf2d" stroke-width="0.6"/><polygon points="87,260.39 91,263.05 94.57,261.67 90.57,259.01" fill="#f7b832" stroke="#f7b832" stroke-width="0.6"/><polygon points="90.57,259.01 94.57,261.67 98.14,260.39 94.15,257.74" fill="#f7b832" stroke="#f7b832" stroke-width="0.6"/><polygon points="94.15,257.74 98.14,260.39 101.72,259.22 97.72,256.56" fill="#f6b832" stroke="#f6b832" stroke-width="0.6"/><polygon points="97.72,256.56 101.72,259.22 105.29,258.12 101.29,255.46" fill="#f4b931" stroke="#f4b931" stroke-width="0.6"/><polygon points="101.29,255.46 105.29,258.12 108.87,257.09 104.87,254.43" fill="#f2b931" stroke="#f2b931" stroke-width="0.6"/><polygon points="104.87,254.43 108.87,257.09 112.44,256.12 108.44,253.46" fill="#f0ba31" stroke="#f0ba31" stroke-width="0.6"/><polygon points="108.44,253.46 112.44,256.12 116.02,255.18 112.02,252.52" fill="#eeba31" stroke="#eeba31" stroke-width="0.6"/><polygon points="112.02,252.52 116.02,255.18 119.59,254.28 115.59,251.62" fill="#ebbb30" stroke="#ebbb30" stroke-width="0.6"/><polygon points="115.59,251.62 119.59,254.28 123.17,253.39 119.17,250.73" fill="#e8bb30" stroke="#e8bb30" stroke-width="0.6"/><polygon points="119.17,250.73 123.17,253.39 126.74,252.5 122.74,249.84" fill="#e5bc2f" stroke="#e5bc2f" stroke-width="0.6"/><polygon points="122.74,249.84 126.74,252.5 130.32,251.59 126.32,248.93" fill="#e3bd2f" stroke="#e3bd2f" stroke-width="0.6"/><polygon points="126.32,248.93 130.32,251.59 133.89,250.66 129.89,248" fill="#e0bd2f" stroke="#e0bd2f" stroke-width="0.6"/><polygon points="129.89,248 133.89,250.66 137.47,249.69 133.47,247.03" fill="#debe2e" stroke="#debe2e" stroke-width="0.6"/><polygon points="133.47,247.03 137.47,249.69 141.04,248.67 137.04,246.01" fill="#dbbe2e" stroke="#dbbe2e" stroke-width="0.6"/><polygon points="137.04,246.01 141.04,248.67 144.62,247.58 140.62,244.92" fill="#d9bf2e" stroke="#d9bf2e" stroke-width="0.6"/><polygon points="140.62,244.92 144.62,247.58 148.19,246.41 144.19,243.75" fill="#d8bf2d" stroke="#d8bf2d" stroke-width="0.6"/><polygon points="144.19,243.75 148.19,246.41 151.77,245.14 147.77,242.48" fill="#d7bf2d" stroke="#d7bf2d" stroke-width="0.6"/><polygon points="147.77,242.48 151.77,245.14 155.34,243.77 151.34,241.11" fill="#d6bf2d" stroke="#d6bf2d" stroke-width="0.6"/><polygon points="151.34,241.11 155.34,243.77 158.92,242.28 154.92,239.62" fill="#d6bf2d" stroke="#d6bf2d" stroke-width="0.6"/><polygon points="154.92,239.62 158.92,242.28 162.49,240.65 158.49,237.99" fill="#d8bf2d" stroke="#d8bf2d" stroke-width="0.6"/><polygon points="91,263.05 95,265.71 98.57,264.33 94.57,261.67" fill="#f6b832" stroke="#f6b832" stroke-width="0.6"/><polygon points="94.57,261.67 98.57,264.33 102.14,263.05 98.14,260.39" fill="#f6b832" stroke="#f6b832" stroke-width="0.6"/><polygon points="98.14,260.39 102.14,263.05 105.72,261.88 101.72,259.22" fill="#f5b932" stroke="#f5b932" stroke-width="0.6"/><polygon points="101.72,259.22 105.72,261.88 109.29,260.78 105.29,258.12" fill="#f3b931" stroke="#f3b931" stroke-width="0.6"/><polygon points="105.29,258.12 109.29,260.78 112.87,259.75 108.87,257.09" fill="#f2b931" stroke="#f2b931" stroke-width="0.6"/><polygon points="108.87,257.09 112.87,259.75 116.44,258.78 112.44,256.12" fill="#efba31" stroke="#efba31" stroke-width="0.6"/><polygon points="112.44,256.12 116.44,258.78 120.02,257.84 116.02,255.18" fill="#edba30" stroke="#edba30" stroke-width="0.6"/><polygon points="116.02,255.18 120.02,257.84 123.59,256.94 119.59,254.28" fill="#eabb30" stroke="#eabb30" stroke-width="0.6"/><polygon points="119.59,254.28 123.59,256.94 127.17,256.05 123.17,253.39" fill="#e7bc30" stroke="#e7bc30" stroke-width="0.6"/><polygon points="123.17,253.39 127.17,256.05 130.74,255.16 126.74,252.5" fill="#e5bc2f" stroke="#e5bc2f" stroke-width="0.6"/><polygon points="126.74,252.5 130.74,255.16 134.32,254.25 130.32,251.59" fill="#e2bd2f" stroke="#e2bd2f" stroke-width="0.6"/><polygon points="130.32,251.59 134.32,254.25 137.89,253.32 133.89,250.66" fill="#dfbd2e" stroke="#dfbd2e" stroke-width="0.6"/><polygon points="133.89,250.66 137.89,253.32 141.47,252.35 137.47,249.69" fill="#ddbe2e" stroke="#ddbe2e" stroke-width="0.6"/><polygon points="137.47,249.69 141.47,252.35 145.04,251.33 141.04,248.67" fill="#dabe2e" stroke="#dabe2e" stroke-width="0.6"/><polygon points="141.04,248.67 145.04,251.33 148.62,250.24 144.62,247.58" fill="#d9bf2e" stroke="#d9bf2e" stroke-width="0.6"/><polygon points="144.62,247.58 148.62,250.24 152.19,249.07 148.19,246.41" fill="#d7bf2d" stroke="#d7bf2d" stroke-width="0.6"/><polygon points="148.19,246.41 152.19,249.07 155.77,247.8 151.77,245.14" fill="#d5bf2d" stroke="#d5bf2d" stroke-width="0.6"/><polygon points="151.77,245.14 155.77,247.8 159.34,246.43 155.34,243.77" fill="#d4c02d" stroke="#d4c02d" stroke-width="0.6"/><polygon points="155.34,243.77 159.34,246.43 162.92,244.94 158.92,242.28" fill="#d5c02d" stroke="#d5c02d" stroke-width="0.6"/><polygon points="158.92,242.28 162.92,244.94 166.49,243.31 162.49,240.65" fill="#d6bf2d" stroke="#d6bf2d" stroke-width="0.6"/></g>
<g stroke-linejoin="round"><polygon points="39,228.17 43,230.67 46.57,228.87 42.57,226.37" fill="#f7bf2f" stroke="#f7bf2f" stroke-width="0.6"/><polygon points="42.57,226.37 46.57,228.87 50.15,227.08 46.15,224.58" fill="#f7c12e" stroke="#f7c12e" stroke-width="0.6"/><polygon points="46.15,224.58 50.15,227.08 53.72,225.28 49.72,222.78" fill="#f7c42d" stroke="#f7c42d" stroke-width="0.6"/><polygon points="49.72,222.78 53.72,225.28 57.3,223.47 53.3,220.97" fill="#f7c62c" stroke="#f7c62c" stroke-width="0.6"/><polygon points="53.3,220.97 57.3,223.47 60.87,221.66 56.87,219.16" fill="#f7c82b" stroke="#f7c82b" stroke-width="0.6"/><polygon points="56.87,219.16 60.87,221.66 64.45,219.84 60.45,217.34" fill="#f6cb2a" stroke="#f6cb2a" stroke-width="0.6"/><polygon points="60.45,217.34 64.45,219.84 68.02,218.02 64.02,215.52" fill="#f6cd29" stroke="#f6cd29" stroke-width="0.6"/><polygon points="64.02,215.52 68.02,218.02 71.6,216.19 67.6,213.69" fill="#f6cf28" stroke="#f6cf28" stroke-width="0.6"/><polygon points="67.6,213.69 71.6,216.19 75.17,214.36 71.17,211.86" fill="#f6d226" stroke="#f6d226" stroke-width="0.6"/><polygon points="71.17,211.86 75.17,214.36 78.75,212.52 74.75,210.02" fill="#f6d425" stroke="#f6d425" stroke-width="0.6"/><polygon points="74.75,210.02 78.75,212.52 82.32,210.68 78.32,208.18" fill="#f5d724" stroke="#f5d724" stroke-width="0.6"/><polygon points="78.32,208.18 82.32,210.68 85.9,208.83 81.9,206.33" fill="#f5da23" stroke="#f5da23" stroke-width="0.6"/><polygon points="81.9,206.33 85.9,208.83 89.47,206.98 85.47,204.48" fill="#f5dc22" stroke="#f5dc22" stroke-width="0.6"/><polygon points="85.47,204.48 89.47,206.98 93.05,205.12 89.05,202.62" fill="#f5df21" stroke="#f5df21" stroke-width="0.6"/><polygon points="89.05,202.62 93.05,205.12 96.62,203.26 92.62,200.76" fill="#f6e120" stroke="#f6e120" stroke-width="0.6"/><polygon points="92.62,200.76 96.62,203.26 100.2,201.39 96.2,198.89" fill="#f6e41f" stroke="#f6e41f" stroke-width="0.6"/><polygon points="96.2,198.89 100.2,201.39 103.77,199.51 99.77,197.02" fill="#f6e61e" stroke="#f6e61e" stroke-width="0.6"/><polygon points="99.77,197.02 103.77,199.51 107.35,197.64 103.35,195.14" fill="#f7e91d" stroke="#f7e91d" stroke-width="0.6"/><polygon points="103.35,195.14 107.35,197.64 110.92,195.75 106.92,193.25" fill="#f7ec1b" stroke="#f7ec1b" stroke-width="0.6"/><polygon points="106.92,193.25 110.92,195.75 114.5,193.86 110.5,191.36" fill="#f7ee1a" stroke="#f7ee1a" stroke-width="0.6"/><polygon points="43,230.67 47,233.16 50.57,231.37 46.57,228.87" fill="#f7bf2f" stroke="#f7bf2f" stroke-width="0.6"/><polygon points="46.57,228.87 50.57,231.37 54.15,229.58 50.15,227.08" fill="#f7c12e" stroke="#f7c12e" stroke-width="0.6"/><polygon points="50.15,227.08 54.15,229.58 57.72,227.78 53.72,225.28" fill="#f7c42d" stroke="#f7c42d" stroke-width="0.6"/><polygon points="53.72,225.28 57.72,227.78 61.3,225.97 57.3,223.47" fill="#f7c62c" stroke="#f7c62c" stroke-width="0.6"/><polygon points="57.3,223.47 61.3,225.97 64.87,224.16 60.87,221.66" fill="#f7c82b" stroke="#f7c82b" stroke-width="0.6"/><polygon points="60.87,221.66 64.87,224.16 68.45,222.34 64.45,219.84" fill="#f6cb2a" stroke="#f6cb2a" stroke-width="0.6"/><polygon points="64.45,219.84 68.45,222.34 72.02,220.52 68.02,218.02" fill="#f6cd29" stroke="#f6cd29" stroke-width="0.6"/><polygon points="68.02,218.02 72.02,220.52 75.6,218.69 71.6,216.19" fill="#f6cf28" stroke="#f6cf28" stroke-width="0.6"/><polygon points="71.6,216.19 75.6,218.69 79.17,216.86 75.17,214.36" fill="#f6d226" stroke="#f6d226" stroke-width="0.6"/><polygon points="75.17,214.36 79.17,216.86 82.75,215.02 78.75,212.52" fill="#f6d425" stroke="#f6d425" stroke-width="0.6"/><polygon points="78.75,212.52 82.75,215.02 86.32,213.18 82.32,210.68" fill="#f5d724" stroke="#f5d724" stroke-width="0.6"/><polygon points="82.32,210.68 86.32,213.18 89.9,211.33 85.9,208.83" fill="#f5da23" stroke="#f5da23" stroke-width="0.6"/><polygon points="85.9,208.83 89.9,211.33 93.47,209.48 89.47,206.98" fill="#f5dc22" stroke="#f5dc22" stroke-width="0.6"/><polygon points="89.47,206.98 93.47,209.48 97.05,207.62 93.05,205.12" fill="#f5df21" stroke="#f5df21" stroke-width="0.6"/><polygon points="93.05,205.12 97.05,207.62 100.62,205.76 96.62,203.26" fill="#f6e120" stroke="#f6e120" stroke-width="0.6"/><polygon points="96.62,203.26 100.62,205.76 104.2,203.89 100.2,201.39" fill="#f6e41f" stroke="#f6e41f" stroke-width="0.6"/><polygon points="100.2,201.39 104.2,203.89 107.77,202.01 103.77,199.51" fill="#f6e61e" stroke="#f6e61e" stroke-width="0.6"/><polygon points="103.77,199.51 107.77,202.01 111.35,200.14 107.35,197.64" fill="#f7e91d" stroke="#f7e91d" stroke-width="0.6"/><polygon points="107.35,197.64 111.35,200.14 114.92,198.25 110.92,195.75" fill="#f7ec1b" stroke="#f7ec1b" stroke-width="0.6"/><polygon points="110.92,195.75 114.92,198.25 118.5,196.36 114.5,193.86" fill="#f7ee1a" stroke="#f7ee1a" stroke-width="0.6"/><polygon points="47,233.16 51,235.66 54.57,233.87 50.57,231.37" fill="#f7bf2f" stroke="#f7bf2f" stroke-width="0.6"/><polygon points="50.57,231.37 54.57,233.87 58.15,232.08 54.15,229.58" fill="#f7c12e" stroke="#f7c12e" stroke-width="0.6"/><polygon points="54.15,229.58 58.15,232.08 61.72,230.28 57.72,227.78" fill="#f7c42d" stroke="#f7c42d" stroke-width="0.6"/><polygon points="57.72,227.78 61.72,230.28 65.3,228.47 61.3,225.97" fill="#f7c62c" stroke="#f7c62c" stroke-width="0.6"/><polygon points="61.3,225.97 65.3,228.47 68.87,226.66 64.87,224.16" fill="#f7c82b" stroke="#f7c82b" stroke-width="0.6"/><polygon points="64.87,224.16 68.87,226.66 72.45,224.84 68.45,222.34" fill="#f6cb2a" stroke="#f6cb2a" stroke-width="0.6"/><polygon points="68.45,222.34 72.45,224.84 76.02,223.02 72.02,220.52" fill="#f6cd29" stroke="#f6cd29" stroke-width="0.6"/><polygon points="72.02,220.52 76.02,223.02 79.6,221.19 75.6,218.69" fill="#f6cf28" stroke="#f6cf28" stroke-width="0.6"/><polygon points="75.6,218.69 79.6,221.19 83.17,219.36 79.17,216.86" fill="#f6d226" stroke="#f6d226" stroke-width="0.6"/><polygon points="79.17,216.86 83.17,219.36 86.75,217.52 82.75,215.02" fill="#f6d425" stroke="#f6d425" stroke-width="0.6"/><polygon points="82.75,215.02 86.75,217.52 90.32,215.68 86.32,213.18" fill="#f5d724" stroke="#f5d724" stroke-width="0.6"/><polygon points="86.32,213.18 90.32,215.68 93.9,213.83 89.9,211.33" fill="#f5da23" stroke="#f5da23" stroke-width="0.6"/><polygon points="89.9,211.33 93.9,213.83 97.47,211.98 93.47,209.48" fill="#f5dc22" stroke="#f5dc22" stroke-width="0.6"/><polygon points="93.47,209.48 97.47,211.98 101.05,210.12 97.05,207.62" fill="#f5df21" stroke="#f5df21" stroke-width="0.6"/><polygon points="97.05,207.62 101.05,210.12 104.62,208.26 100.62,205.76" fill="#f6e120" stroke="#f6e120" stroke-width="0.6"/><polygon points="100.62,205.76 104.62,208.26 108.2,206.39 104.2,203.89" fill="#f6e41f" stroke="#f6e41f" stroke-width="0.6"/><polygon points="104.2,203.89 108.2,206.39 111.77,204.51 107.77,202.01" fill="#f6e61e" stroke="#f6e61e" stroke-width="0.6"/><polygon points="107.77,202.01 111.77,204.51 115.35,202.64 111.35,200.14" fill="#f7e91d" stroke="#f7e91d" stroke-width="0.6"/><polygon points="111.35,200.14 115.35,202.64 118.92,200.75 114.92,198.25" fill="#f7ec1b" stroke="#f7ec1b" stroke-width="0.6"/><polygon points="114.92,198.25 118.92,200.75 122.49,198.86 118.5,196.36" fill="#f7ee1a" stroke="#f7ee1a" stroke-width="0.6"/><polygon points="51,235.66 55,238.16 58.57,236.37 54.57,233.87" fill="#f7bf2f" stroke="#f7bf2f" stroke-width="0.6"/><polygon points="54.57,233.87 58.57,236.37 62.15,234.58 58.15,232.08" fill="#f7c12e" stroke="#f7c12e" stroke-width="0.6"/><polygon points="58.15,232.08 62.15,234.58 65.72,232.78 61.72,230.28" fill="#f7c42d" stroke="#f7c42d" stroke-width="0.6"/><polygon points="61.72,230.28 65.72,232.78 69.3,230.97 65.3,228.47" fill="#f7c62c" stroke="#f7c62c" stroke-width="0.6"/><polygon points="65.3,228.47 69.3,230.97 72.87,229.16 68.87,226.66" fill="#f7c82b" stroke="#f7c82b" stroke-width="0.6"/><polygon points="68.87,226.66 72.87,229.16 76.45,227.34 72.45,224.84" fill="#f6cb2a" stroke="#f6cb2a" stroke-width="0.6"/><polygon points="72.45,224.84 76.45,227.34 80.02,225.52 76.02,223.02" fill="#f6cd29" stroke="#f6cd29" stroke-width="0.6"/><polygon points="76.02,223.02 80.02,225.52 83.6,223.69 79.6,221.19" fill="#f6cf28" stroke="#f6cf28" stroke-width="0.6"/><polygon points="79.6,221.19 83.6,223.69 87.17,221.86 83.17,219.36" fill="#f6d226" stroke="#f6d226" stroke-width="0.6"/><polygon points="83.17,219.36 87.17,221.86 90.75,220.02 86.75,217.52" fill="#f6d425" stroke="#f6d425" stroke-width="0.6"/><polygon points="86.75,217.52 90.75,220.02 94.32,218.18 90.32,215.68" fill="#f5d724" stroke="#f5d724" stroke-width="0.6"/><polygon points="90.32,215.68 94.32,218.18 97.9,216.33 93.9,213.83" fill="#f5da23" stroke="#f5da23" stroke-width="0.6"/><polygon points="93.9,213.83 97.9,216.33 101.47,214.48 97.47,211.98" fill="#f5dc22" stroke="#f5dc22" stroke-width="0.6"/><polygon points="97.47,211.98 101.47,214.48 105.05,212.62 101.05,210.12" fill="#f5df21" stroke="#f5df21" stroke-width="0.6"/><polygon points="101.05,210.12 105.05,212.62 108.62,210.76 104.62,208.26" fill="#f6e120" stroke="#f6e120" stroke-width="0.6"/><polygon points="104.62,208.26 108.62,210.76 112.2,208.89 108.2,206.39" fill="#f6e41f" stroke="#f6e41f" stroke-width="0.6"/><polygon points="108.2,206.39 112.2,208.89 115.77,207.01 111.77,204.51" fill="#f6e61e" stroke="#f6e61e" stroke-width="0.6"/><polygon points="111.77,204.51 115.77,207.01 119.34,205.13 115.35,202.64" fill="#f7e91d" stroke="#f7e91d" stroke-width="0.6"/><polygon points="115.35,202.64 119.34,205.13 122.92,203.25 118.92,200.75" fill="#f7ec1b" stroke="#f7ec1b" stroke-width="0.6"/><polygon points="118.92,200.75 122.92,203.25 126.49,201.36 122.49,198.86" fill="#f7ee1a" stroke="#f7ee1a" stroke-width="0.6"/><polygon points="55,238.16 59,240.66 62.57,238.87 58.57,236.37" fill="#f7bf2f" stroke="#f7bf2f" stroke-width="0.6"/><polygon points="58.57,236.37 62.57,238.87 66.15,237.08 62.15,234.58" fill="#f7c12e" stroke="#f7c12e" stroke-width="0.6"/><polygon points="62.15,234.58 66.15,237.08 69.72,235.28 65.72,232.78" fill="#f7c42d" stroke="#f7c42d" stroke-width="0.6"/><polygon points="65.72,232.78 69.72,235.28 73.3,233.47 69.3,230.97" fill="#f7c62c" stroke="#f7c62c" stroke-width="0.6"/><polygon points="69.3,230.97 73.3,233.47 76.87,231.66 72.87,229.16" fill="#f7c82b" stroke="#f7c82b" stroke-width="0.6"/><polygon points="72.87,229.16 76.87,231.66 80.45,229.84 76.45,227.34" fill="#f6cb2a" stroke="#f6cb2a" stroke-width="0.6"/><polygon points="76.45,227.34 80.45,229.84 84.02,228.02 80.02,225.52" fill="#f6cd29" stroke="#f6cd29" stroke-width="0.6"/><polygon points="80.02,225.52 84.02,228.02 87.6,226.19 83.6,223.69" fill="#f6cf28" stroke="#f6cf28" stroke-width="0.6"/><polygon points="83.6,223.69 87.6,226.19 91.17,224.36 87.17,221.86" fill="#f6d226" stroke="#f6d226" stroke-width="0.6"/><polygon points="87.17,221.86 91.17,224.36 94.75,222.52 90.75,220.02" fill="#f6d425" stroke="#f6d425" stroke-width="0.6"/><polygon points="90.75,220.02 94.75,222.52 98.32,220.68 94.32,218.18" fill="#f5d724" stroke="#f5d724" stroke-width="0.6"/><polygon points="94.32,218.18 98.32,220.68 101.9,218.83 97.9,216.33" fill="#f5da23" stroke="#f5da23" stroke-width="0.6"/><polygon points="97.9,216.33 101.9,218.83 105.47,216.98 101.47,214.48" fill="#f5dc22" stroke="#f5dc22" stroke-width="0.6"/><polygon points="101.47,214.48 105.47,216.98 109.05,215.12 105.05,212.62" fill="#f5df21" stroke="#f5df21" stroke-width="0.6"/><polygon points="105.05,212.62 109.05,215.12 112.62,213.26 108.62,210.76" fill="#f6e120" stroke="#f6e120" stroke-width="0.6"/><polygon points="108.62,210.76 112.62,213.26 116.2,211.39 112.2,208.89" fill="#f6e41f" stroke="#f6e41f" stroke-width="0.6"/><polygon points="112.2,208.89 116.2,211.39 119.77,209.51 115.77,207.01" fill="#f6e61e" stroke="#f6e61e" stroke-width="0.6"/><polygon points="115.77,207.01 119.77,209.51 123.34,207.63 119.34,205.13" fill="#f7e91d" stroke="#f7e91d" stroke-width="0.6"/><polygon points="119.34,205.13 123.34,207.63 126.92,205.75 122.92,203.25" fill="#f7ec1b" stroke="#f7ec1b" stroke-width="0.6"/><polygon points="122.92,203.25 126.92,205.75 130.49,203.86 126.49,201.36" fill="#f7ee1a" stroke="#f7ee1a" stroke-width="0.6"/><polygon points="59,240.66 63,243.16 66.57,241.37 62.57,238.87" fill="#f7bf2f" stroke="#f7bf2f" stroke-width="0.6"/><polygon points="62.57,238.87 66.57,241.37 70.15,239.58 66.15,237.08" fill="#f7c12e" stroke="#f7c12e" stroke-width="0.6"/><polygon points="66.15,237.08 70.15,239.58 73.72,237.77 69.72,235.28" fill="#f7c42d" stroke="#f7c42d" stroke-width="0.6"/><polygon points="69.72,235.28 73.72,237.77 77.3,235.97 73.3,233.47" fill="#f7c62c" stroke="#f7c62c" stroke-width="0.6"/><polygon points="73.3,233.47 77.3,235.97 80.87,234.16 76.87,231.66" fill="#f7c82b" stroke="#f7c82b" stroke-width="0.6"/><polygon points="76.87,231.66 80.87,234.16 84.45,232.34 80.45,229.84" fill="#f6cb2a" stroke="#f6cb2a" stroke-width="0.6"/><polygon points="80.45,229.84 84.45,232.34 88.02,230.52 84.02,228.02" fill="#f6cd29" stroke="#f6cd29" stroke-width="0.6"/><polygon points="84.02,228.02 88.02,230.52 91.6,228.69 87.6,226.19" fill="#f6cf28" stroke="#f6cf28" stroke-width="0.6"/><polygon points="87.6,226.19 91.6,228.69 95.17,226.86 91.17,224.36" fill="#f6d226" stroke="#f6d226" stroke-width="0.6"/><polygon points="91.17,224.36 95.17,226.86 98.75,225.02 94.75,222.52" fill="#f6d425" stroke="#f6d425" stroke-width="0.6"/><polygon points="94.75,222.52 98.75,225.02 102.32,223.18 98.32,220.68" fill="#f5d724" stroke="#f5d724" stroke-width="0.6"/><polygon points="98.32,220.68 102.32,223.18 105.9,221.33 101.9,218.83" fill="#f5da23" stroke="#f5da23" stroke-width="0.6"/><polygon points="101.9,218.83 105.9,221.33 109.47,219.48 105.47,216.98" fill="#f5dc22" stroke="#f5dc22" stroke-width="0.6"/><polygon points="105.47,216.98 109.47,219.48 113.05,217.62 109.05,215.12" fill="#f5df21" stroke="#f5df21" stroke-width="0.6"/><polygon points="109.05,215.12 113.05,217.62 116.62,215.76 112.62,213.26" fill="#f6e120" stroke="#f6e120" stroke-width="0.6"/><polygon points="112.62,213.26 116.62,215.76 120.19,213.89 116.2,211.39" fill="#f6e41f" stroke="#f6e41f" stroke-width="0.6"/><polygon points="116.2,211.39 120.19,213.89 123.77,212.01 119.77,209.51" fill="#f6e61e" stroke="#f6e61e" stroke-width="0.6"/><polygon points="119.77,209.51 123.77,212.01 127.34,210.13 123.34,207.63" fill="#f7e91d" stroke="#f7e91d" stroke-width="0.6"/><polygon points="123.34,207.63 127.34,210.13 130.92,208.25 126.92,205.75" fill="#f7ec1b" stroke="#f7ec1b" stroke-width="0.6"/><polygon points="126.92,205.75 130.92,208.25 134.49,206.36 130.49,203.86" fill="#f7ee1a" stroke="#f7ee1a" stroke-width="0.6"/><polygon points="63,243.16 67,245.66 70.57,243.87 66.57,241.37" fill="#f7bf2f" stroke="#f7bf2f" stroke-width="0.6"/><polygon points="66.57,241.37 70.57,243.87 74.15,242.08 70.15,239.58" fill="#f7c12e" stroke="#f7c12e" stroke-width="0.6"/><polygon points="70.15,239.58 74.15,242.08 77.72,240.27 73.72,237.77" fill="#f7c42d" stroke="#f7c42d" stroke-width="0.6"/><polygon points="73.72,237.77 77.72,240.27 81.3,238.47 77.3,235.97" fill="#f7c62c" stroke="#f7c62c" stroke-width="0.6"/><polygon points="77.3,235.97 81.3,238.47 84.87,236.66 80.87,234.16" fill="#f7c82b" stroke="#f7c82b" stroke-width="0.6"/><polygon points="80.87,234.16 84.87,236.66 88.45,234.84 84.45,232.34" fill="#f6cb2a" stroke="#f6cb2a" stroke-width="0.6"/><polygon points="84.45,232.34 88.45,234.84 92.02,233.02 88.02,230.52" fill="#f6cd29" stroke="#f6cd29" stroke-width="0.6"/><polygon points="88.02,230.52 92.02,233.02 95.6,231.19 91.6,228.69" fill="#f6cf28" stroke="#f6cf28" stroke-width="0.6"/><polygon points="91.6,228.69 95.6,231.19 99.17,229.36 95.17,226.86" fill="#f6d226" stroke="#f6d226" stroke-width="0.6"/><polygon points="95.17,226.86 99.17,229.36 102.75,227.52 98.75,225.02" fill="#f6d425" stroke="#f6d425" stroke-width="0.6"/><polygon points="98.75,225.02 102.75,227.52 106.32,225.68 102.32,223.18" fill="#f5d724" stroke="#f5d724" stroke-width="0.6"/><polygon points="102.32,223.18 106.32,225.68 109.9,223.83 105.9,221.33" fill="#f5da23" stroke="#f5da23" stroke-width="0.6"/><polygon points="105.9,221.33 109.9,223.83 113.47,221.98 109.47,219.48" fill="#f5dc22" stroke="#f5dc22" stroke-width="0.6"/><polygon points="109.47,219.48 113.47,221.98 117.04,220.12 113.05,217.62" fill="#f5df21" stroke="#f5df21" stroke-width="0.6"/><polygon points="113.05,217.62 117.04,220.12 120.62,218.25 116.62,215.76" fill="#f6e120" stroke="#f6e120" stroke-width="0.6"/><polygon points="116.62,215.76 120.62,218.25 124.19,216.39 120.19,213.89" fill="#f6e41f" stroke="#f6e41f" stroke-width="0.6"/><polygon points="120.19,213.89 124.19,216.39 127.77,214.51 123.77,212.01" fill="#f6e61e" stroke="#f6e61e" stroke-width="0.6"/><polygon points="123.77,212.01 127.77,214.51 131.34,212.63 127.34,210.13" fill="#f7e91d" stroke="#f7e91d" stroke-width="0.6"/><polygon points="127.34,210.13 131.34,212.63 134.92,210.75 130.92,208.25" fill="#f7ec1b" stroke="#f7ec1b" stroke-width="0.6"/><polygon points="130.92,208.25 134.92,210.75 138.49,208.86 134.49,206.36" fill="#f7ee1a" stroke="#f7ee1a" stroke-width="0.6"/><polygon points="67,245.66 71,248.16 74.57,246.37 70.57,243.87" fill="#f7bf2f" stroke="#f7bf2f" stroke-width="0.6"/><polygon points="70.57,243.87 74.57,246.37 78.15,244.58 74.15,242.08" fill="#f7c12e" stroke="#f7c12e" stroke-width="0.6"/><polygon points="74.15,242.08 78.15,244.58 81.72,242.77 77.72,240.27" fill="#f7c42d" stroke="#f7c42d" stroke-width="0.6"/><polygon points="77.72,240.27 81.72,242.77 85.3,240.97 81.3,238.47" fill="#f7c62c" stroke="#f7c62c" stroke-width="0.6"/><polygon points="81.3,238.47 85.3,240.97 88.87,239.16 84.87,236.66" fill="#f7c82b" stroke="#f7c82b" stroke-width="0.6"/><polygon points="84.87,236.66 88.87,239.16 92.45,237.34 88.45,234.84" fill="#f6cb2a" stroke="#f6cb2a" stroke-width="0.6"/><polygon points="88.45,234.84 92.45,237.34 96.02,235.52 92.02,233.02" fill="#f6cd29" stroke="#f6cd29" stroke-width="0.6"/><polygon points="92.02,233.02 96.02,235.52 99.6,233.69 95.6,231.19" fill="#f6cf28" stroke="#f6cf28" stroke-width="0.6"/><polygon points="95.6,231.19 99.6,233.69 103.17,231.86 99.17,229.36" fill="#f6d226" stroke="#f6d226" stroke-width="0.6"/><polygon points="99.17,229.36 103.17,231.86 106.75,230.02 102.75,227.52" fill="#f6d425" stroke="#f6d425" stroke-width="0.6"/><polygon points="102.75,227.52 106.75,230.02 110.32,228.18 106.32,225.68" fill="#f5d724" stroke="#f5d724" stroke-width="0.6"/><polygon points="106.32,225.68 110.32,228.18 113.89,226.33 109.9,223.83" fill="#f5da23" stroke="#f5da23" stroke-width="0.6"/><polygon points="109.9,223.83 113.89,226.33 117.47,224.48 113.47,221.98" fill="#f5dc22" stroke="#f5dc22" stroke-width="0.6"/><polygon points="113.47,221.98 117.47,224.48 121.04,222.62 117.04,220.12" fill="#f5df21" stroke="#f5df21" stroke-width="0.6"/><polygon points="117.04,220.12 121.04,222.62 124.62,220.75 120.62,218.25" fill="#f6e120" stroke="#f6e120" stroke-width="0.6"/><polygon points="120.62,218.25 124.62,220.75 128.19,218.89 124.19,216.39" fill="#f6e41f" stroke="#f6e41f" stroke-width="0.6"/><polygon points="124.19,216.39 128.19,218.89 131.77,217.01 127.77,214.51" fill="#f6e61e" stroke="#f6e61e" stroke-width="0.6"/><polygon points="127.77,214.51 131.77,217.01 135.34,215.13 131.34,212.63" fill="#f7e91d" stroke="#f7e91d" stroke-width="0.6"/><polygon points="131.34,212.63 135.34,215.13 138.92,213.25 134.92,210.75" fill="#f7ec1b" stroke="#f7ec1b" stroke-width="0.6"/><polygon points="134.92,210.75 138.92,213.25 142.49,211.36 138.49,208.86" fill="#f7ee1a" stroke="#f7ee1a" stroke-width="0.6"/><polygon points="71,248.16 75,250.66 78.57,248.87 74.57,246.37" fill="#f7bf2f" stroke="#f7bf2f" stroke-width="0.6"/><polygon points="74.57,246.37 78.57,248.87 82.15,247.08 78.15,244.58" fill="#f7c12e" stroke="#f7c12e" stroke-width="0.6"/><polygon points="78.15,244.58 82.15,247.08 85.72,245.27 81.72,242.77" fill="#f7c42d" stroke="#f7c42d" stroke-width="0.6"/><polygon points="81.72,242.77 85.72,245.27 89.3,243.47 85.3,240.97" fill="#f7c62c" stroke="#f7c62c" stroke-width="0.6"/><polygon points="85.3,240.97 89.3,243.47 92.87,241.66 88.87,239.16" fill="#f7c82b" stroke="#f7c82b" stroke-width="0.6"/><polygon points="88.87,239.16 92.87,241.66 96.45,239.84 92.45,237.34" fill="#f6cb2a" stroke="#f6cb2a" stroke-width="0.6"/><polygon points="92.45,237.34 96.45,239.84 100.02,238.02 96.02,235.52" fill="#f6cd29" stroke="#f6cd29" stroke-width="0.6"/><polygon points="96.02,235.52 100.02,238.02 103.6,236.19 99.6,233.69" fill="#f6cf28" stroke="#f6cf28" stroke-width="0.6"/><polygon points="99.6,233.69 103.6,236.19 107.17,234.36 103.17,231.86" fill="#f6d226" stroke="#f6d226" stroke-width="0.6"/><polygon points="103.17,231.86 107.17,234.36 110.74,232.52 106.75,230.02" fill="#f6d425" stroke="#f6d425" stroke-width="0.6"/><polygon points="106.75,230.02 110.74,232.52 114.32,230.68 110.32,228.18" fill="#f5d724" stroke="#f5d724" stroke-width="0.6"/><polygon points="110.32,228.18 114.32,230.68 117.89,228.83 113.89,226.33" fill="#f5da23" stroke="#f5da23" stroke-width="0.6"/><polygon points="113.89,226.33 117.89,228.83 121.47,226.98 117.47,224.48" fill="#f5dc22" stroke="#f5dc22" stroke-width="0.6"/><polygon points="117.47,224.48 121.47,226.98 125.04,225.12 121.04,222.62" fill="#f5df21" stroke="#f5df21" stroke-width="0.6"/><polygon points="121.04,222.62 125.04,225.12 128.62,223.25 124.62,220.75" fill="#f6e120" stroke="#f6e120" stroke-width="0.6"/><polygon points="124.62,220.75 128.62,223.25 132.19,221.39 128.19,218.89" fill="#f6e41f" stroke="#f6e41f" stroke-width="0.6"/><polygon points="128.19,218.89 132.19,221.39 135.77,219.51 131.77,217.01" fill="#f6e61e" stroke="#f6e61e" stroke-width="0.6"/><polygon points="131.77,217.01 135.77,219.51 139.34,217.63 135.34,215.13" fill="#f7e91d" stroke="#f7e91d" stroke-width="0.6"/><polygon points="135.34,215.13 139.34,217.63 142.92,215.75 138.92,213.25" fill="#f7ec1b" stroke="#f7ec1b" stroke-width="0.6"/><polygon points="138.92,213.25 142.92,215.75 146.49,213.86 142.49,211.36" fill="#f7ee1a" stroke="#f7ee1a" stroke-width="0.6"/><polygon points="75,250.66 79,253.16 82.57,251.37 78.57,248.87" fill="#f7bf2f" stroke="#f7bf2f" stroke-width="0.6"/><polygon points="78.57,248.87 82.57,251.37 86.15,249.57 82.15,247.08" fill="#f7c12e" stroke="#f7c12e" stroke-width="0.6"/><polygon points="82.15,247.08 86.15,249.57 89.72,247.77 85.72,245.27" fill="#f7c42d" stroke="#f7c42d" stroke-width="0.6"/><polygon points="85.72,245.27 89.72,247.77 93.3,245.97 89.3,243.47" fill="#f7c62c" stroke="#f7c62c" stroke-width="0.6"/><polygon points="89.3,243.47 93.3,245.97 96.87,244.16 92.87,241.66" fill="#f7c82b" stroke="#f7c82b" stroke-width="0.6"/><polygon points="92.87,241.66 96.87,244.16 100.45,242.34 96.45,239.84" fill="#f6cb2a" stroke="#f6cb2a" stroke-width="0.6"/><polygon points="96.45,239.84 100.45,242.34 104.02,240.52 100.02,238.02" fill="#f6cd29" stroke="#f6cd29" stroke-width="0.6"/><polygon points="100.02,238.02 104.02,240.52 107.59,238.69 103.6,236.19" fill="#f6cf28" stroke="#f6cf28" stroke-width="0.6"/><polygon points="103.6,236.19 107.59,238.69 111.17,236.86 107.17,234.36" fill="#f6d226" stroke="#f6d226" stroke-width="0.6"/><polygon points="107.17,234.36 111.17,236.86 114.74,235.02 110.74,232.52" fill="#f6d425" stroke="#f6d425" stroke-width="0.6"/><polygon points="110.74,232.52 114.74,235.02 118.32,233.18 114.32,230.68" fill="#f5d724" stroke="#f5d724" stroke-width="0.6"/><polygon points="114.32,230.68 118.32,233.18 121.89,231.33 117.89,228.83" fill="#f5da23" stroke="#f5da23" stroke-width="0.6"/><polygon points="117.89,228.83 121.89,231.33 125.47,229.48 121.47,226.98" fill="#f5dc22" stroke="#f5dc22" stroke-width="0.6"/><polygon points="121.47,226.98 125.47,229.48 129.04,227.62 125.04,225.12" fill="#f5df21" stroke="#f5df21" stroke-width="0.6"/><polygon points="125.04,225.12 129.04,227.62 132.62,225.75 128.62,223.25" fill="#f6e120" stroke="#f6e120" stroke-width="0.6"/><polygon points="128.62,223.25 132.62,225.75 136.19,223.89 132.19,221.39" fill="#f6e41f" stroke="#f6e41f" stroke-width="0.6"/><polygon points="132.19,221.39 136.19,223.89 139.77,222.01 135.77,219.51" fill="#f6e61e" stroke="#f6e61e" stroke-width="0.6"/><polygon points="135.77,219.51 139.77,222.01 143.34,220.13 139.34,217.63" fill="#f7e91d" stroke="#f7e91d" stroke-width="0.6"/><polygon points="139.34,217.63 143.34,220.13 146.92,218.25 142.92,215.75" fill="#f7ec1b" stroke="#f7ec1b" stroke-width="0.6"/><polygon points="142.92,215.75 146.92,218.25 150.49,216.36 146.49,213.86" fill="#f7ee1a" stroke="#f7ee1a" stroke-width="0.6"/><polygon points="79,253.16 83,255.66 86.57,253.87 82.57,251.37" fill="#f7bf2f" stroke="#f7bf2f" stroke-width="0.6"/><polygon points="82.57,251.37 86.57,253.87 90.15,252.07 86.15,249.57" fill="#f7c12e" stroke="#f7c12e" stroke-width="0.6"/><polygon points="86.15,249.57 90.15,252.07 93.72,250.27 89.72,247.77" fill="#f7c42d" stroke="#f7c42d" stroke-width="0.6"/><polygon points="89.72,247.77 93.72,250.27 97.3,248.47 93.3,245.97" fill="#f7c62c" stroke="#f7c62c" stroke-width="0.6"/><polygon points="93.3,245.97 97.3,248.47 100.87,246.65 96.87,244.16" fill="#f7c82b" stroke="#f7c82b" stroke-width="0.6"/><polygon points="96.87,244.16 100.87,246.65 104.44,244.84 100.45,242.34" fill="#f6cb2a" stroke="#f6cb2a" stroke-width="0.6"/><polygon points="100.45,242.34 104.44,244.84 108.02,243.02 104.02,240.52" fill="#f6cd29" stroke="#f6cd29" stroke-width="0.6"/><polygon points="104.02,240.52 108.02,243.02 111.59,241.19 107.59,238.69" fill="#f6cf28" stroke="#f6cf28" stroke-width="0.6"/><polygon points="107.59,238.69 111.59,241.19 115.17,239.36 111.17,236.86" fill="#f6d226" stroke="#f6d226" stroke-width="0.6"/><polygon points="111.17,236.86 115.17,239.36 118.74,237.52 114.74,235.02" fill="#f6d425" stroke="#f6d425" stroke-width="0.6"/><polygon points="114.74,235.02 118.74,237.52 122.32,235.68 118.32,233.18" fill="#f5d724" stroke="#f5d724" stroke-width="0.6"/><polygon points="118.32,233.18 122.32,235.68 125.89,233.83 121.89,231.33" fill="#f5da23" stroke="#f5da23" stroke-width="0.6"/><polygon points="121.89,231.33 125.89,233.83 129.47,231.98 125.47,229.48" fill="#f5dc22" stroke="#f5dc22" stroke-width="0.6"/><polygon points="125.47,229.48 129.47,231.98 133.04,230.12 129.04,227.62" fill="#f5df21" stroke="#f5df21" stroke-width="0.6"/><polygon points="129.04,227.62 133.04,230.12 136.62,228.25 132.62,225.75" fill="#f6e120" stroke="#f6e120" stroke-width="0.6"/><polygon points="132.62,225.75 136.62,228.25 140.19,226.38 136.19,223.89" fill="#f6e41f" stroke="#f6e41f" stroke-width="0.6"/><polygon points="136.19,223.89 140.19,226.38 143.77,224.51 139.77,222.01" fill="#f6e61e" stroke="#f6e61e" stroke-width="0.6"/><polygon points="139.77,222.01 143.77,224.51 147.34,222.63 143.34,220.13" fill="#f7e91d" stroke="#f7e91d" stroke-width="0.6"/><polygon points="143.34,220.13 147.34,222.63 150.92,220.75 146.92,218.25" fill="#f7ec1b" stroke="#f7ec1b" stroke-width="0.6"/><polygon points="146.92,218.25 150.92,220.75 154.49,218.86 150.49,216.36" fill="#f7ee1a" stroke="#f7ee1a" stroke-width="0.6"/><polygon points="83,255.66 87,258.16 90.57,256.37 86.57,253.87" fill="#f7bf2f" stroke="#f7bf2f" stroke-width="0.6"/><polygon points="86.57,253.87 90.57,256.37 94.15,254.57 90.15,252.07" fill="#f7c12e" stroke="#f7c12e" stroke-width="0.6"/><polygon points="90.15,252.07 94.15,254.57 97.72,252.77 93.72,250.27" fill="#f7c42d" stroke="#f7c42d" stroke-width="0.6"/><polygon points="93.72,250.27 97.72,252.77 101.29,250.97 97.3,248.47" fill="#f7c62c" stroke="#f7c62c" stroke-width="0.6"/><polygon points="97.3,248.47 101.29,250.97 104.87,249.15 100.87,246.65" fill="#f7c82b" stroke="#f7c82b" stroke-width="0.6"/><polygon points="100.87,246.65 104.87,249.15 108.44,247.34 104.44,244.84" fill="#f6cb2a" stroke="#f6cb2a" stroke-width="0.6"/><polygon points="104.44,244.84 108.44,247.34 112.02,245.52 108.02,243.02" fill="#f6cd29" stroke="#f6cd29" stroke-width="0.6"/><polygon points="108.02,243.02 112.02,245.52 115.59,243.69 111.59,241.19" fill="#f6cf28" stroke="#f6cf28" stroke-width="0.6"/><polygon points="111.59,241.19 115.59,243.69 119.17,241.86 115.17,239.36" fill="#f6d226" stroke="#f6d226" stroke-width="0.6"/><polygon points="115.17,239.36 119.17,241.86 122.74,240.02 118.74,237.52" fill="#f6d425" stroke="#f6d425" stroke-width="0.6"/><polygon points="118.74,237.52 122.74,240.02 126.32,238.18 122.32,235.68" fill="#f5d724" stroke="#f5d724" stroke-width="0.6"/><polygon points="122.32,235.68 126.32,238.18 129.89,236.33 125.89,233.83" fill="#f5da23" stroke="#f5da23" stroke-width="0.6"/><polygon points="125.89,233.83 129.89,236.33 133.47,234.47 129.47,231.98" fill="#f5dc22" stroke="#f5dc22" stroke-width="0.6"/><polygon points="129.47,231.98 133.47,234.47 137.04,232.62 133.04,230.12" fill="#f5df21" stroke="#f5df21" stroke-width="0.6"/><polygon points="133.04,230.12 137.04,232.62 140.62,230.75 136.62,228.25" fill="#f6e120" stroke="#f6e120" stroke-width="0.6"/><polygon points="136.62,228.25 140.62,230.75 144.19,228.88 140.19,226.38" fill="#f6e41f" stroke="#f6e41f" stroke-width="0.6"/><polygon points="140.19,226.38 144.19,228.88 147.77,227.01 143.77,224.51" fill="#f6e61e" stroke="#f6e61e" stroke-width="0.6"/><polygon points="143.77,224.51 147.77,227.01 151.34,225.13 147.34,222.63" fill="#f7e91d" stroke="#f7e91d" stroke-width="0.6"/><polygon points="147.34,222.63 151.34,225.13 154.92,223.25 150.92,220.75" fill="#f7ec1b" stroke="#f7ec1b" stroke-width="0.6"/><polygon points="150.92,220.75 154.92,223.25 158.49,221.36 154.49,218.86" fill="#f7ee1a" stroke="#f7ee1a" stroke-width="0.6"/><polygon points="87,258.16 91,260.66 94.57,258.87 90.57,256.37" fill="#f7bf2f" stroke="#f7bf2f" stroke-width="0.6"/><polygon points="90.57,256.37 94.57,258.87 98.14,257.07 94.15,254.57" fill="#f7c12e" stroke="#f7c12e" stroke-width="0.6"/><polygon points="94.15,254.57 98.14,257.07 101.72,255.27 97.72,252.77" fill="#f7c42d" stroke="#f7c42d" stroke-width="0.6"/><polygon points="97.72,252.77 101.72,255.27 105.29,253.47 101.29,250.97" fill="#f7c62c" stroke="#f7c62c" stroke-width="0.6"/><polygon points="101.29,250.97 105.29,253.47 108.87,251.65 104.87,249.15" fill="#f7c82b" stroke="#f7c82b" stroke-width="0.6"/><polygon points="104.87,249.15 108.87,251.65 112.44,249.84 108.44,247.34" fill="#f6cb2a" stroke="#f6cb2a" stroke-width="0.6"/><polygon points="108.44,247.34 112.44,249.84 116.02,248.02 112.02,245.52" fill="#f6cd29" stroke="#f6cd29" stroke-width="0.6"/><polygon points="112.02,245.52 116.02,248.02 119.59,246.19 115.59,243.69" fill="#f6cf28" stroke="#f6cf28" stroke-width="0.6"/><polygon points="115.59,243.69 119.59,246.19 123.17,244.36 119.17,241.86" fill="#f6d226" stroke="#f6d226" stroke-width="0.6"/><polygon points="119.17,241.86 123.17,244.36 126.74,242.52 122.74,240.02" fill="#f6d425" stroke="#f6d425" stroke-width="0.6"/><polygon points="122.74,240.02 126.74,242.52 130.32,240.68 126.32,238.18" fill="#f5d724" stroke="#f5d724" stroke-width="0.6"/><polygon points="126.32,238.18 130.32,240.68 133.89,238.83 129.89,236.33" fill="#f5da23" stroke="#f5da23" stroke-width="0.6"/><polygon points="129.89,236.33 133.89,238.83 137.47,236.97 133.47,234.47" fill="#f5dc22" stroke="#f5dc22" stroke-width="0.6"/><polygon points="133.47,234.47 137.47,236.97 141.04,235.12 137.04,232.62" fill="#f5df21" stroke="#f5df21" stroke-width="0.6"/><polygon points="137.04,232.62 141.04,235.12 144.62,233.25 140.62,230.75" fill="#f6e120" stroke="#f6e120" stroke-width="0.6"/><polygon points="140.62,230.75 144.62,233.25 148.19,231.38 144.19,228.88" fill="#f6e41f" stroke="#f6e41f" stroke-width="0.6"/><polygon points="144.19,228.88 148.19,231.38 151.77,229.51 147.77,227.01" fill="#f6e61e" stroke="#f6e61e" stroke-width="0.6"/><polygon points="147.77,227.01 151.77,229.51 155.34,227.63 151.34,225.13" fill="#f7e91d" stroke="#f7e91d" stroke-width="0.6"/><polygon points="151.34,225.13 155.34,227.63 158.92,225.75 154.92,223.25" fill="#f7ec1b" stroke="#f7ec1b" stroke-width="0.6"/><polygon points="154.92,223.25 158.92,225.75 162.49,223.86 158.49,221.36" fill="#f7ee1a" stroke="#f7ee1a" stroke-width="0.6"/><polygon points="91,260.66 95,263.16 98.57,261.37 94.57,258.87" fill="#f7bf2f" stroke="#f7bf2f" stroke-width="0.6"/><polygon points="94.57,258.87 98.57,261.37 102.14,259.57 98.14,257.07" fill="#f7c12e" stroke="#f7c12e" stroke-width="0.6"/><polygon points="98.14,257.07 102.14,259.57 105.72,257.77 101.72,255.27" fill="#f7c42d" stroke="#f7c42d" stroke-width="0.6"/><polygon points="101.72,255.27 105.72,257.77 109.29,255.97 105.29,253.47" fill="#f7c62c" stroke="#f7c62c" stroke-width="0.6"/><polygon points="105.29,253.47 109.29,255.97 112.87,254.15 108.87,251.65" fill="#f7c82b" stroke="#f7c82b" stroke-width="0.6"/><polygon points="108.87,251.65 112.87,254.15 116.44,252.34 112.44,249.84" fill="#f6cb2a" stroke="#f6cb2a" stroke-width="0.6"/><polygon points="112.44,249.84 116.44,252.34 120.02,250.51 116.02,248.02" fill="#f6cd29" stroke="#f6cd29" stroke-width="0.6"/><polygon points="116.02,248.02 120.02,250.51 123.59,248.69 119.59,246.19" fill="#f6cf28" stroke="#f6cf28" stroke-width="0.6"/><polygon points="119.59,246.19 123.59,248.69 127.17,246.86 123.17,244.36" fill="#f6d226" stroke="#f6d226" stroke-width="0.6"/><polygon points="123.17,244.36 127.17,246.86 130.74,245.02 126.74,242.52" fill="#f6d425" stroke="#f6d425" stroke-width="0.6"/><polygon points="126.74,242.52 130.74,245.02 134.32,243.17 130.32,240.68" fill="#f5d724" stroke="#f5d724" stroke-width="0.6"/><polygon points="130.32,240.68 134.32,243.17 137.89,241.33 133.89,238.83" fill="#f5da23" stroke="#f5da23" stroke-width="0.6"/><polygon points="133.89,238.83 137.89,241.33 141.47,239.47 137.47,236.97" fill="#f5dc22" stroke="#f5dc22" stroke-width="0.6"/><polygon points="137.47,236.97 141.47,239.47 145.04,237.62 141.04,235.12" fill="#f5df21" stroke="#f5df21" stroke-width="0.6"/><polygon points="141.04,235.12 145.04,237.62 148.62,235.75 144.62,233.25" fill="#f6e120" stroke="#f6e120" stroke-width="0.6"/><polygon points="144.62,233.25 148.62,235.75 152.19,233.88 148.19,231.38" fill="#f6e41f" stroke="#f6e41f" stroke-width="0.6"/><polygon points="148.19,231.38 152.19,233.88 155.77,232.01 151.77,229.51" fill="#f6e61e" stroke="#f6e61e" stroke-width="0.6"/><polygon points="151.77,229.51 155.77,232.01 159.34,230.13 155.34,227.63" fill="#f7e91d" stroke="#f7e91d" stroke-width="0.6"/><polygon points="155.34,227.63 159.34,230.13 162.92,228.25 158.92,225.75" fill="#f7ec1b" stroke="#f7ec1b" stroke-width="0.6"/><polygon points="158.92,225.75 162.92,228.25 166.49,226.36 162.49,223.86" fill="#f7ee1a" stroke="#f7ee1a" stroke-width="0.6"/></g>
<line x1="39" y1="287.75" x2="39" y2="217.1" stroke="#262626" stroke-width="0.6" />
<line x1="39" y1="287.75" x2="95" y2="322.75" stroke="#262626" stroke-width="0.6" />
<line x1="95" y1="322.75" x2="166.49" y2="294.78" stroke="#262626" stroke-width="0.6" />
<line x1="39" y1="217.1" x2="40.5" y2="216.5" stroke="#262626" stroke-width="0.6" />
<text x="35.8" y="219.5" font-size="7" fill="#333" text-anchor="end"  >200</text>
<line x1="39" y1="232.8" x2="40.5" y2="232.2" stroke="#262626" stroke-width="0.6" />
<text x="35.8" y="235.2" font-size="7" fill="#333" text-anchor="end"  >100</text>
<line x1="39" y1="248.5" x2="40.5" y2="247.9" stroke="#262626" stroke-width="0.6" />
<text x="35.8" y="250.9" font-size="7" fill="#333" text-anchor="end"  >0</text>
<line x1="39" y1="264.2" x2="40.5" y2="263.6" stroke="#262626" stroke-width="0.6" />
<text x="35.8" y="266.6" font-size="7" fill="#333" text-anchor="end"  >-100</text>
<line x1="39" y1="279.9" x2="40.5" y2="279.3" stroke="#262626" stroke-width="0.6" />
<text x="35.8" y="282.3" font-size="7" fill="#333" text-anchor="end"  >-200</text>
<line x1="67" y1="305.25" x2="68.2" y2="304.75" stroke="#262626" stroke-width="0.6" />
<line x1="112.87" y1="315.75" x2="111.97" y2="315.15" stroke="#262626" stroke-width="0.6" />
<line x1="130.74" y1="308.76" x2="129.84" y2="308.16" stroke="#262626" stroke-width="0.6" />
<line x1="148.62" y1="301.77" x2="147.72" y2="301.17" stroke="#262626" stroke-width="0.6" />
<text x="33.3" y="296" font-size="7" fill="#333" text-anchor="middle"  >0</text>
<text x="58.9" y="312.4" font-size="7" fill="#333" text-anchor="middle"  >7.5</text>
<text x="87.4" y="330.1" font-size="7" fill="#333" text-anchor="middle"  >15</text>
<text x="103" y="330.5" font-size="7" fill="#333" text-anchor="middle"  >60</text>
<text x="120.3" y="323.9" font-size="7" fill="#333" text-anchor="middle"  >30</text>
<text x="135.9" y="317.3" font-size="7" fill="#333" text-anchor="middle"  >0</text>
<text x="157.6" y="310.9" font-size="7" fill="#333" text-anchor="middle"  >-30</text>
<text x="175.8" y="304.8" font-size="7" fill="#333" text-anchor="middle"  >-60</text>
<text font-size="9.1" fill="#222" transform="translate(8.4,301.6) rotate(-90)">Electric cylinder force <tspan font-style="italic">F</tspan><tspan font-size="6" dy="1" font-style="italic">e</tspan><tspan dy="-1"> (N)</tspan></text>
<text font-size="9.2" fill="#222" transform="translate(21.6,309.4) rotate(30.3)">Pre-stretching length</text>
<text font-size="9.2" fill="#222" transform="translate(35.8,331.2) rotate(30.3)"><tspan font-style="italic">L</tspan><tspan font-size="6" dy="1" font-style="italic">k</tspan><tspan dy="-1"> (mm)</tspan></text>
<text font-size="9.2" fill="#222" transform="translate(99.6,345.2) rotate(-24.5)">Pitch angle θ<tspan font-size="6" dy="1">0</tspan><tspan dy="-1"> (°)</tspan></text>
<linearGradient id="parula" x1="0" y1="1" x2="0" y2="0"><stop offset="0.0" stop-color="#3e26a8"/><stop offset="0.08" stop-color="#4543e5"/><stop offset="0.2" stop-color="#3470f2"/><stop offset="0.325" stop-color="#1f90e6"/><stop offset="0.445" stop-color="#0ab3ca"/><stop offset="0.56" stop-color="#36c78f"/><stop offset="0.645" stop-color="#78cc55"/><stop offset="0.725" stop-color="#c0c42a"/><stop offset="0.81" stop-color="#f8b832"/><stop offset="0.91" stop-color="#f5dc22"/><stop offset="1.0" stop-color="#f9fb15"/></linearGradient>
<rect x="181.7" y="201.2" width="8.1" height="124" fill="url(#parula)" stroke="#555" stroke-width="0.5"/>
<text x="191.9" y="204.1" font-size="7" fill="#333" text-anchor="start"  >200</text>
<line x1="189" y1="201.7" x2="190" y2="201.7" stroke="#444" stroke-width="0.5" />
<text x="191.9" y="218.1" font-size="7" fill="#333" text-anchor="start"  >150</text>
<line x1="189" y1="215.7" x2="190" y2="215.7" stroke="#444" stroke-width="0.5" />
<text x="191.9" y="232.1" font-size="7" fill="#333" text-anchor="start"  >100</text>
<line x1="189" y1="229.7" x2="190" y2="229.7" stroke="#444" stroke-width="0.5" />
<text x="191.9" y="246.4" font-size="7" fill="#333" text-anchor="start"  >50</text>
<line x1="189" y1="244" x2="190" y2="244" stroke="#444" stroke-width="0.5" />
<text x="191.9" y="260.1" font-size="7" fill="#333" text-anchor="start"  >0</text>
<line x1="189" y1="257.7" x2="190" y2="257.7" stroke="#444" stroke-width="0.5" />
<text x="191.9" y="274.7" font-size="7" fill="#333" text-anchor="start"  >-50</text>
<line x1="189" y1="272.3" x2="190" y2="272.3" stroke="#444" stroke-width="0.5" />
<text x="191.9" y="288.4" font-size="7" fill="#333" text-anchor="start"  >-100</text>
<line x1="189" y1="286" x2="190" y2="286" stroke="#444" stroke-width="0.5" />
<text x="191.9" y="303.1" font-size="7" fill="#333" text-anchor="start"  >-150</text>
<line x1="189" y1="300.7" x2="190" y2="300.7" stroke="#444" stroke-width="0.5" />
<text x="191.9" y="316.7" font-size="7" fill="#333" text-anchor="start"  >-200</text>
<line x1="189" y1="314.3" x2="190" y2="314.3" stroke="#444" stroke-width="0.5" />
<text x="81.0" y="213.3" font-size="7.4" fill="#2a2a2a"><tspan font-style="italic">k</tspan>=0 N/mm</text>
<polyline points="113.4,210.8 120.6,210.8 143,229.3" fill="none" stroke="#c0581e" stroke-width="0.8" />
<circle cx="143" cy="229.3" r="1.8" fill="#c8581a" stroke="none" stroke-width="1" />
<text x="81.0" y="220.7" font-size="7.4" fill="#2a2a2a"><tspan font-style="italic">k</tspan>=1 N/mm</text>
<polyline points="113.4,218.2 122.5,218.2 147.8,242.6" fill="none" stroke="#c0581e" stroke-width="0.8" />
<circle cx="147.8" cy="242.6" r="1.8" fill="#c8581a" stroke="none" stroke-width="1" />
<text x="81.0" y="228.1" font-size="7.4" fill="#2a2a2a"><tspan font-style="italic">k</tspan>=2 N/mm</text>
<polyline points="113.4,225.6 121.5,225.6 147.8,256.8" fill="none" stroke="#c0581e" stroke-width="0.8" />
<circle cx="147.8" cy="256.8" r="1.8" fill="#c8581a" stroke="none" stroke-width="1" />
<text x="81.0" y="235.7" font-size="7.4" fill="#2a2a2a"><tspan font-style="italic">k</tspan>=3 N/mm</text>
<polyline points="113.4,233.2 120.5,233.2 147.2,272.2" fill="none" stroke="#c0581e" stroke-width="0.8" />
<circle cx="147.2" cy="272.2" r="1.8" fill="#c8581a" stroke="none" stroke-width="1" />
<text x="81.0" y="243.3" font-size="7.4" fill="#2a2a2a"><tspan font-style="italic">k</tspan>=4 N/mm</text>
<polyline points="113.4,240.8 119.3,240.8 144.2,285.3" fill="none" stroke="#c0581e" stroke-width="0.8" />
<circle cx="144.2" cy="285.3" r="1.8" fill="#c8581a" stroke="none" stroke-width="1" />
<text x="102.8" y="365.3" font-size="13.5" fill="#000" text-anchor="start" font-weight="bold" >(d)</text>
<polyline points="288.1,261.5 368.3,225 434.6,269.1" fill="none" stroke="#e3e3e3" stroke-width="0.6" />
<polyline points="288.1,235.4 368.3,198.9 434.6,243" fill="none" stroke="#e3e3e3" stroke-width="0.6" />
<polyline points="288.1,209.3 368.3,172.8 434.6,216.9" fill="none" stroke="#e3e3e3" stroke-width="0.6" />
<line x1="308.15" y1="259.42" x2="308.15" y2="200.18" stroke="#e3e3e3" stroke-width="0.6" />
<line x1="308.15" y1="259.42" x2="374.45" y2="303.52" stroke="#e3e3e3" stroke-width="0.6" />
<line x1="328.2" y1="250.3" x2="328.2" y2="191.05" stroke="#e3e3e3" stroke-width="0.6" />
<line x1="328.2" y1="250.3" x2="394.5" y2="294.4" stroke="#e3e3e3" stroke-width="0.6" />
<line x1="348.25" y1="241.17" x2="348.25" y2="181.93" stroke="#e3e3e3" stroke-width="0.6" />
<line x1="348.25" y1="241.17" x2="414.55" y2="285.27" stroke="#e3e3e3" stroke-width="0.6" />
<line x1="401.45" y1="254.1" x2="401.45" y2="194.85" stroke="#e3e3e3" stroke-width="0.6" />
<line x1="321.25" y1="290.6" x2="401.45" y2="254.1" stroke="#e3e3e3" stroke-width="0.6" />
<line x1="368.3" y1="232.05" x2="368.3" y2="172.8" stroke="#e3e3e3" stroke-width="0.6" />
<line x1="434.6" y1="276.15" x2="434.6" y2="216.9" stroke="#e3e3e3" stroke-width="0.6" />
<polyline points="288.1,209.3 368.3,172.8 434.6,216.9" fill="none" stroke="#e3e3e3" stroke-width="0.6" />
<polyline points="288.1,268.55 368.3,232.05 434.6,276.15" fill="none" stroke="#e3e3e3" stroke-width="0.6" />
<line x1="288.6" y1="236.6" x2="354.7" y2="279.8" stroke="#222" stroke-width="1.0" stroke-dasharray="4.5,3"/>
<line x1="289.4" y1="219.8" x2="324.3" y2="246.7" stroke="#7a3cc8" stroke-width="1.3" stroke-dasharray="1.5,1.7"/>
<line x1="324.3" y1="246.7" x2="354.7" y2="271.5" stroke="#7a3cc8" stroke-width="1.3" stroke-dasharray="1.5,1.7"/>
<polyline points="289.4,219.3 292.1,219.6 294.79,219.9 297.49,220.22 300.19,220.55 302.88,220.89 305.58,221.26 308.28,221.66 310.97,222.08 313.67,222.53 316.37,222.98 319.06,223.41 321.76,223.81 324.46,224.19 327.15,224.55 329.85,224.91 332.54,225.26 335.24,225.6 337.94,225.9 340.63,226.14 343.33,226.33 346.03,226.45 348.72,226.5 351.42,226.47 354.12,226.36 356.81,226.16 359.51,225.89 362.21,225.54 364.9,225.11 367.6,224.6" fill="none" stroke="#A646F2" stroke-width="1.25" stroke-linejoin="round" stroke-linecap="round"/>
<polyline points="289.4,219.3 292.1,218.97 294.79,218.68 297.49,218.42 300.19,218.19 302.88,217.99 305.58,217.81 308.28,217.65 310.97,217.51 313.67,217.38 316.37,217.25 319.06,217.14 321.76,217.02 324.46,216.91 327.15,216.79 329.85,216.66 332.54,216.52 335.24,216.37 337.94,216.2 340.63,216.01 343.33,215.81 346.03,215.58 348.72,215.33 351.42,215.05 354.12,214.74 356.81,214.38 359.51,213.96 362.21,213.48 364.9,212.93 367.6,212.3" fill="none" stroke="#4DBEEE" stroke-width="1.25" stroke-linejoin="round" stroke-linecap="round"/>
<polyline points="289.4,219.3 328.5,208.6 367.6,199.8" fill="none" stroke="#E8231E" stroke-width="1.25" stroke-linejoin="round" stroke-linecap="round"/>
<polyline points="289.4,219.3 367.6,187.5" fill="none" stroke="#D95319" stroke-width="1.25" stroke-linejoin="round" stroke-linecap="round"/>
<polyline points="289.4,219.3 367.6,175.3" fill="none" stroke="#EDB120" stroke-width="1.25" stroke-linejoin="round" stroke-linecap="round"/>
<polyline points="324.3,246.7 327.01,247.06 329.72,247.4 332.43,247.72 335.14,248.03 337.85,248.33 340.56,248.61 343.27,248.89 345.98,249.17 348.69,249.45 351.4,249.74 354.11,250.03 356.82,250.34 359.53,250.65 362.24,250.97 364.96,251.27 367.67,251.57 370.38,251.83 373.09,252.08 375.8,252.29 378.51,252.48 381.22,252.63 383.93,252.74 386.64,252.81 389.35,252.83 392.06,252.81 394.77,252.74 397.48,252.62 400.19,252.44 402.9,252.2" fill="none" stroke="#A646F2" stroke-width="1.25" stroke-linejoin="round" stroke-linecap="round"/>
<polyline points="324.3,245.5 327.01,245.44 329.72,245.37 332.43,245.28 335.14,245.18 337.85,245.07 340.56,244.95 343.27,244.84 345.98,244.72 348.69,244.61 351.4,244.51 354.11,244.42 356.82,244.34 359.53,244.27 362.24,244.2 364.96,244.12 367.67,244.01 370.38,243.88 373.09,243.71 375.8,243.5 378.51,243.24 381.22,242.94 383.93,242.58 386.64,242.16 389.35,241.7 392.06,241.19 394.77,240.63 397.48,240.03 400.19,239.38 402.9,238.7" fill="none" stroke="#4DBEEE" stroke-width="1.25" stroke-linejoin="round" stroke-linecap="round"/>
<polyline points="324.3,244.3 363.6,235.4 402.9,225.3" fill="none" stroke="#E8231E" stroke-width="1.25" stroke-linejoin="round" stroke-linecap="round"/>
<polyline points="324.3,243.2 402.9,211.5" fill="none" stroke="#D95319" stroke-width="1.25" stroke-linejoin="round" stroke-linecap="round"/>
<polyline points="324.3,242.1 402.9,198.1" fill="none" stroke="#EDB120" stroke-width="1.25" stroke-linejoin="round" stroke-linecap="round"/>
<line x1="354.7" y1="232.5" x2="354.7" y2="312.7" stroke="#111" stroke-width="1.0" />
<polyline points="354.7,270 357.42,270.3 360.14,270.59 362.86,270.87 365.58,271.16 368.3,271.45 371.02,271.75 373.74,272.06 376.47,272.4 379.19,272.76 381.91,273.14 384.63,273.54 387.35,273.94 390.07,274.33 392.79,274.71 395.51,275.06 398.23,275.4 400.95,275.72 403.67,276.04 406.39,276.34 409.11,276.65 411.83,276.93 414.56,277.17 417.28,277.35 420,277.45 422.72,277.46 425.44,277.36 428.16,277.13 430.88,276.75 433.6,276.2" fill="none" stroke="#A646F2" stroke-width="1.25" stroke-linejoin="round" stroke-linecap="round"/>
<polyline points="354.7,267.6 357.42,267.61 360.14,267.62 362.86,267.62 365.58,267.6 368.3,267.58 371.02,267.54 373.74,267.5 376.47,267.44 379.19,267.37 381.91,267.28 384.63,267.18 387.35,267.06 390.07,266.92 392.79,266.75 395.51,266.56 398.23,266.34 400.95,266.1 403.67,265.84 406.39,265.56 409.11,265.25 411.83,264.92 414.56,264.57 417.28,264.2 420,263.8 422.72,263.38 425.44,262.92 428.16,262.44 430.88,261.94 433.6,261.4" fill="none" stroke="#4DBEEE" stroke-width="1.25" stroke-linejoin="round" stroke-linecap="round"/>
<polyline points="354.7,265.4 394,257 433.6,247.3" fill="none" stroke="#E8231E" stroke-width="1.25" stroke-linejoin="round" stroke-linecap="round"/>
<polyline points="354.7,264 433.6,232.7" fill="none" stroke="#D95319" stroke-width="1.25" stroke-linejoin="round" stroke-linecap="round"/>
<polyline points="354.7,262.6 433.6,218.4" fill="none" stroke="#EDB120" stroke-width="1.25" stroke-linejoin="round" stroke-linecap="round"/>
<line x1="288.1" y1="268.55" x2="288.1" y2="209.3" stroke="#262626" stroke-width="0.6" />
<line x1="288.1" y1="268.55" x2="354.4" y2="312.65" stroke="#262626" stroke-width="0.6" />
<line x1="354.4" y1="312.65" x2="434.6" y2="276.15" stroke="#262626" stroke-width="0.6" />
<line x1="288.1" y1="209.3" x2="289.6" y2="210.3" stroke="#262626" stroke-width="0.6" />
<text x="284.5" y="211.9" font-size="7.6" fill="#333" text-anchor="end"  >200</text>
<line x1="288.1" y1="235.4" x2="289.6" y2="236.4" stroke="#262626" stroke-width="0.6" />
<text x="284.5" y="238" font-size="7.6" fill="#333" text-anchor="end"  >0</text>
<line x1="288.1" y1="261.5" x2="289.6" y2="262.5" stroke="#262626" stroke-width="0.6" />
<text x="284.5" y="264.1" font-size="7.6" fill="#333" text-anchor="end"  >-200</text>
<line x1="374.45" y1="303.52" x2="373.45" y2="302.82" stroke="#262626" stroke-width="0.6" />
<line x1="394.5" y1="294.4" x2="393.5" y2="293.7" stroke="#262626" stroke-width="0.6" />
<line x1="414.55" y1="285.27" x2="413.55" y2="284.57" stroke="#262626" stroke-width="0.6" />
<line x1="321.25" y1="290.6" x2="322.55" y2="290" stroke="#262626" stroke-width="0.6" />
<text x="282.1" y="277.6" font-size="7.6" fill="#333" text-anchor="middle"  >0</text>
<text x="312" y="299.6" font-size="7.6" fill="#333" text-anchor="middle"  >7.5</text>
<text x="346.7" y="322.2" font-size="7.6" fill="#333" text-anchor="middle"  >15</text>
<text x="362.5" y="321.6" font-size="7.6" fill="#333" text-anchor="middle"  >60</text>
<text x="382.1" y="312.7" font-size="7.6" fill="#333" text-anchor="middle"  >30</text>
<text x="400.1" y="303.9" font-size="7.6" fill="#333" text-anchor="middle"  >0</text>
<text x="423.1" y="295.1" font-size="7.6" fill="#333" text-anchor="middle"  >-30</text>
<text x="442.8" y="285.4" font-size="7.6" fill="#333" text-anchor="middle"  >-60</text>
<text font-size="9.2" fill="#222" transform="translate(260.4,294.6) rotate(-90)">Electric cylinder force <tspan font-style="italic">F</tspan><tspan font-size="6" dy="1" font-style="italic">e</tspan><tspan dy="-1"> (N)</tspan></text>
<text font-size="9.2" fill="#222" transform="translate(271.5,291.6) rotate(29.7)">Pre-stretching length</text>
<text font-size="9.2" fill="#222" transform="translate(286.4,312.9) rotate(29.7)"><tspan font-style="italic">L</tspan><tspan font-size="6" dy="1" font-style="italic">k</tspan><tspan dy="-1"> (mm)</tspan></text>
<text font-size="9.2" fill="#222" transform="translate(395.0,326.6) rotate(-25)">Pitch angle <tspan font-style="italic">θ</tspan><tspan font-size="6" dy="1">0</tspan><tspan dy="-1"> (°)</tspan></text>
<rect x="274" y="331.3" width="181" height="22.7" fill="#fff" stroke="#cf8a5c" stroke-width="1.1"/>
<line x1="281" y1="336.9" x2="294.1" y2="336.9" stroke="#EDB120" stroke-width="1.3" />
<text x="295" y="339.4" font-size="7.7" fill="#2a2a2a" text-anchor="start" font-weight="bold" >k=0 N/mm</text>
<line x1="281" y1="345.8" x2="294.1" y2="345.8" stroke="#D95319" stroke-width="1.3" />
<text x="295" y="348.3" font-size="7.7" fill="#2a2a2a" text-anchor="start" font-weight="bold" >k=1 N/mm</text>
<line x1="336.6" y1="336.9" x2="349.6" y2="336.9" stroke="#E8231E" stroke-width="1.3" />
<text x="350.2" y="339.4" font-size="7.7" fill="#2a2a2a" text-anchor="start" font-weight="bold" >k=2 N/mm</text>
<line x1="336.6" y1="345.8" x2="349.6" y2="345.8" stroke="#4DBEEE" stroke-width="1.3" />
<text x="350.2" y="348.3" font-size="7.7" fill="#2a2a2a" text-anchor="start" font-weight="bold" >k=3 N/mm</text>
<line x1="391.8" y1="342.2" x2="406.5" y2="342.2" stroke="#A646F2" stroke-width="1.3" />
<text x="406.5" y="344.7" font-size="7.7" fill="#2a2a2a" text-anchor="start" font-weight="bold" >k=4 N/mm</text>
<text x="357.2" y="368.6" font-size="13.5" fill="#000" text-anchor="start" font-weight="bold" >(e)</text>
<line x1="532.07" y1="191.4" x2="532.07" y2="299.4" stroke="#ececec" stroke-width="0.6" />
<line x1="555.63" y1="191.4" x2="555.63" y2="299.4" stroke="#ececec" stroke-width="0.6" />
<line x1="579.2" y1="191.4" x2="579.2" y2="299.4" stroke="#ececec" stroke-width="0.6" />
<line x1="602.77" y1="191.4" x2="602.77" y2="299.4" stroke="#ececec" stroke-width="0.6" />
<line x1="626.33" y1="191.4" x2="626.33" y2="299.4" stroke="#ececec" stroke-width="0.6" />
<line x1="649.9" y1="191.4" x2="649.9" y2="299.4" stroke="#ececec" stroke-width="0.6" />
<line x1="508.5" y1="191.4" x2="649.9" y2="191.4" stroke="#ececec" stroke-width="0.6" />
<line x1="508.5" y1="213" x2="649.9" y2="213" stroke="#ececec" stroke-width="0.6" />
<line x1="508.5" y1="234.6" x2="649.9" y2="234.6" stroke="#ececec" stroke-width="0.6" />
<line x1="508.5" y1="256.2" x2="649.9" y2="256.2" stroke="#ececec" stroke-width="0.6" />
<line x1="508.5" y1="277.8" x2="649.9" y2="277.8" stroke="#ececec" stroke-width="0.6" />
<polyline points="508.5,197.6 512.03,198.01 515.57,198.4 519.11,198.77 522.64,199.12 526.17,199.46 529.71,199.79 533.25,200.11 536.78,200.42 540.31,200.73 543.85,201.04 547.38,201.35 550.92,201.66 554.46,201.99 557.99,202.32 561.52,202.67 565.06,203.03 568.6,203.39 572.13,203.76 575.66,204.13 579.2,204.5 582.74,204.87 586.27,205.25 589.8,205.61 593.34,205.98 596.88,206.33 600.41,206.68 603.94,207.01 607.48,207.33 611.01,207.63 614.55,207.93 618.09,208.2 621.62,208.47 625.15,208.72 628.69,208.96 632.23,209.18 635.76,209.39 639.29,209.59 642.83,209.77 646.37,209.94 649.9,210.1" fill="none" stroke="#EDB120" stroke-width="1.6" stroke-linejoin="round"/>
<polyline points="508.5,221.4 512.03,221.23 515.57,221.07 519.11,220.91 522.64,220.75 526.17,220.58 529.71,220.41 533.25,220.24 536.78,220.07 540.31,219.88 543.85,219.7 547.38,219.5 550.92,219.29 554.46,219.07 557.99,218.85 561.52,218.61 565.06,218.36 568.6,218.1 572.13,217.84 575.66,217.57 579.2,217.3 582.74,217.03 586.27,216.76 589.8,216.48 593.34,216.21 596.88,215.94 600.41,215.68 603.94,215.41 607.48,215.15 611.01,214.9 614.55,214.66 618.09,214.42 621.62,214.19 625.15,213.97 628.69,213.76 632.23,213.57 635.76,213.38 639.29,213.21 642.83,213.06 646.37,212.92 649.9,212.8" fill="none" stroke="#D95319" stroke-width="1.6" stroke-linejoin="round"/>
<polyline points="508.5,244.8 512.03,244.45 515.57,244.03 519.11,243.56 522.64,243.03 526.17,242.45 529.71,241.83 533.25,241.18 536.78,240.5 540.31,239.79 543.85,239.06 547.38,238.33 550.92,237.59 554.46,236.85 557.99,236.11 561.52,235.38 565.06,234.64 568.6,233.89 572.13,233.12 575.66,232.33 579.2,231.5 582.74,230.63 586.27,229.73 589.8,228.81 593.34,227.88 596.88,226.94 600.41,226.01 603.94,225.1 607.48,224.21 611.01,223.35 614.55,222.52 618.09,221.72 621.62,220.96 625.15,220.23 628.69,219.55 632.23,218.91 635.76,218.32 639.29,217.78 642.83,217.3 646.37,216.87 649.9,216.5" fill="none" stroke="#E8231E" stroke-width="1.6" stroke-linejoin="round"/>
<polyline points="508.5,268.1 512.03,267.57 515.57,266.97 519.11,266.31 522.64,265.57 526.17,264.77 529.71,263.91 533.25,262.99 536.78,262.01 540.31,260.98 543.85,259.91 547.38,258.78 550.92,257.62 554.46,256.41 557.99,255.17 561.52,253.88 565.06,252.55 568.6,251.17 572.13,249.74 575.66,248.25 579.2,246.7 582.74,245.08 586.27,243.42 589.8,241.72 593.34,240.01 596.88,238.3 600.41,236.61 603.94,234.95 607.48,233.35 611.01,231.81 614.55,230.33 618.09,228.91 621.62,227.57 625.15,226.3 628.69,225.12 632.23,224.02 635.76,223.01 639.29,222.1 642.83,221.29 646.37,220.59 649.9,220" fill="none" stroke="#4DBEEE" stroke-width="1.6" stroke-linejoin="round"/>
<polyline points="508.5,291.5 512.03,290.81 515.57,290.01 519.11,289.09 522.64,288.07 526.17,286.96 529.71,285.75 533.25,284.46 536.78,283.09 540.31,281.65 543.85,280.14 547.38,278.57 550.92,276.94 554.46,275.27 557.99,273.55 561.52,271.79 565.06,269.97 568.6,268.08 572.13,266.11 575.66,264.05 579.2,261.9 582.74,259.64 586.27,257.3 589.8,254.89 593.34,252.44 596.88,249.98 600.41,247.52 603.94,245.1 607.48,242.72 611.01,240.41 614.55,238.17 618.09,236.04 621.62,234.01 625.15,232.1 628.69,230.34 632.23,228.73 635.76,227.29 639.29,226.03 642.83,224.97 646.37,224.12 649.9,223.5" fill="none" stroke="#A646F2" stroke-width="1.6" stroke-linejoin="round"/>
<line x1="508.5" y1="191.1" x2="508.5" y2="299.4" stroke="#262626" stroke-width="0.7" />
<line x1="508.5" y1="299.4" x2="649.9" y2="299.4" stroke="#262626" stroke-width="0.7" />
<line x1="508.5" y1="299.4" x2="508.5" y2="298" stroke="#262626" stroke-width="0.6" />
<text x="508.5" y="309" font-size="7.8" fill="#333" text-anchor="middle"  >-60</text>
<line x1="532.07" y1="299.4" x2="532.07" y2="298" stroke="#262626" stroke-width="0.6" />
<text x="532.07" y="309" font-size="7.8" fill="#333" text-anchor="middle"  >-40</text>
<line x1="555.63" y1="299.4" x2="555.63" y2="298" stroke="#262626" stroke-width="0.6" />
<text x="555.63" y="309" font-size="7.8" fill="#333" text-anchor="middle"  >-20</text>
<line x1="579.2" y1="299.4" x2="579.2" y2="298" stroke="#262626" stroke-width="0.6" />
<text x="579.2" y="309" font-size="7.8" fill="#333" text-anchor="middle"  >0</text>
<line x1="602.77" y1="299.4" x2="602.77" y2="298" stroke="#262626" stroke-width="0.6" />
<text x="602.77" y="309" font-size="7.8" fill="#333" text-anchor="middle"  >20</text>
<line x1="626.33" y1="299.4" x2="626.33" y2="298" stroke="#262626" stroke-width="0.6" />
<text x="626.33" y="309" font-size="7.8" fill="#333" text-anchor="middle"  >40</text>
<line x1="649.9" y1="299.4" x2="649.9" y2="298" stroke="#262626" stroke-width="0.6" />
<text x="649.9" y="309" font-size="7.8" fill="#333" text-anchor="middle"  >60</text>
<line x1="508.5" y1="191.4" x2="509.9" y2="191.4" stroke="#262626" stroke-width="0.6" />
<text x="506" y="194.1" font-size="7.8" fill="#333" text-anchor="end"  >200</text>
<line x1="508.5" y1="213" x2="509.9" y2="213" stroke="#262626" stroke-width="0.6" />
<text x="506" y="215.7" font-size="7.8" fill="#333" text-anchor="end"  >100</text>
<line x1="508.5" y1="234.6" x2="509.9" y2="234.6" stroke="#262626" stroke-width="0.6" />
<text x="506" y="237.3" font-size="7.8" fill="#333" text-anchor="end"  >0</text>
<line x1="508.5" y1="256.2" x2="509.9" y2="256.2" stroke="#262626" stroke-width="0.6" />
<text x="506" y="258.9" font-size="7.8" fill="#333" text-anchor="end"  >-100</text>
<line x1="508.5" y1="277.8" x2="509.9" y2="277.8" stroke="#262626" stroke-width="0.6" />
<text x="506" y="280.5" font-size="7.8" fill="#333" text-anchor="end"  >-200</text>
<line x1="508.5" y1="299.4" x2="509.9" y2="299.4" stroke="#262626" stroke-width="0.6" />
<text x="506" y="302.1" font-size="7.8" fill="#333" text-anchor="end"  >-300</text>
<text x="585.4" y="319.2" font-size="9.4" fill="#222" text-anchor="middle">Pitch angle <tspan font-style="italic">θ</tspan><tspan font-size="6.5" dy="1.5">0</tspan><tspan dy="-1.5"> (°)</tspan></text>
<text font-size="8.95" fill="#222" transform="translate(487.6,311.2) rotate(-90)">Electric cylinder force <tspan font-style="italic">Fe</tspan> (N)</text>
<rect x="482.7" y="331.2" width="197.7" height="22.9" fill="#fff" stroke="#cf8a5c" stroke-width="1.1"/>
<line x1="493.4" y1="338.2" x2="508.7" y2="338.2" stroke="#EDB120" stroke-width="1.3" />
<text x="513.3" y="340.7" font-size="7.7" fill="#2a2a2a" text-anchor="start" font-weight="bold" >k=0 N/mm</text>
<line x1="493.4" y1="347.4" x2="508.7" y2="347.4" stroke="#D95319" stroke-width="1.3" />
<text x="513.3" y="349.9" font-size="7.7" fill="#2a2a2a" text-anchor="start" font-weight="bold" >k=1 N/mm</text>
<line x1="557.8" y1="338.2" x2="574" y2="338.2" stroke="#E8231E" stroke-width="1.3" />
<text x="577" y="340.7" font-size="7.7" fill="#2a2a2a" text-anchor="start" font-weight="bold" >k=2 N/mm</text>
<line x1="557.8" y1="347.4" x2="574" y2="347.4" stroke="#4DBEEE" stroke-width="1.3" />
<text x="577" y="349.9" font-size="7.7" fill="#2a2a2a" text-anchor="start" font-weight="bold" >k=3 N/mm</text>
<line x1="623.7" y1="344" x2="639" y2="344" stroke="#A646F2" stroke-width="1.3" />
<text x="643" y="346.5" font-size="7.7" fill="#2a2a2a" text-anchor="start" font-weight="bold" >k=4 N/mm</text>
<text x="585" y="369.4" font-size="13.5" fill="#000" text-anchor="start" font-weight="bold" >(f)</text></svg></body></html>
